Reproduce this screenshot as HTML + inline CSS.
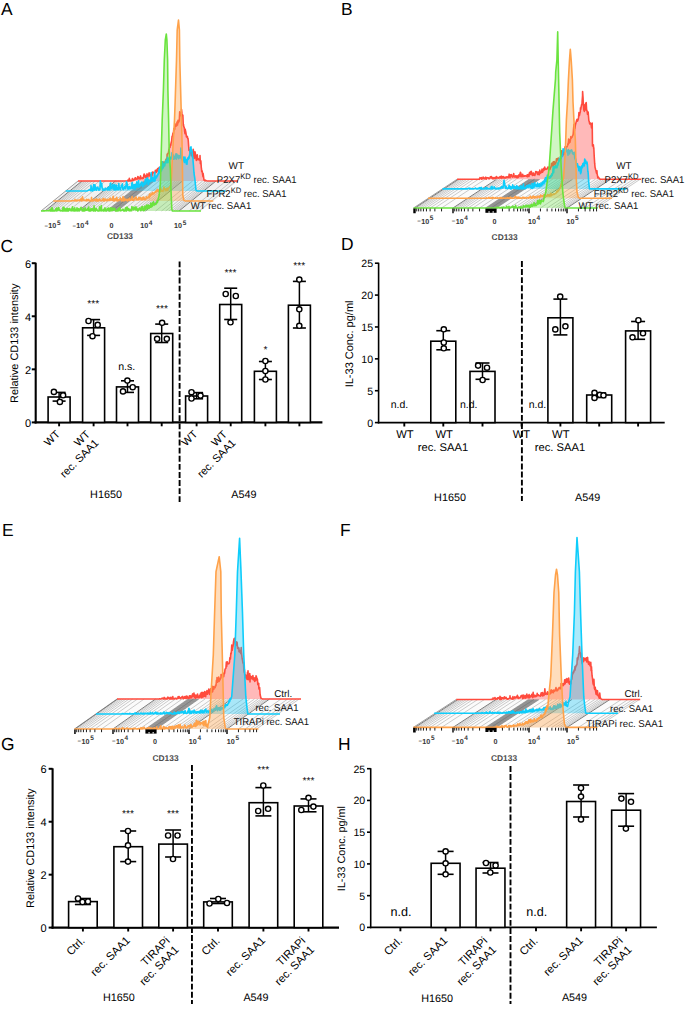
<!DOCTYPE html>
<html><head><meta charset="utf-8"><style>
html,body{margin:0;padding:0;background:#fff;}
svg{display:block;}
text{font-family:"Liberation Sans", sans-serif;text-rendering:geometricPrecision;}
</style></head><body>
<svg width="685" height="1009" viewBox="0 0 685 1009">
<rect width="685" height="1009" fill="#fff"/>
<text x="1" y="14.9" font-size="17.4" text-anchor="start" fill="#000" font-weight="normal">A</text>
<text x="341" y="14.9" font-size="17.4" text-anchor="start" fill="#000" font-weight="normal">B</text>
<text x="0.5" y="252" font-size="17.4" text-anchor="start" fill="#000" font-weight="normal">C</text>
<text x="341" y="250.1" font-size="17.4" text-anchor="start" fill="#000" font-weight="normal">D</text>
<text x="2" y="535.8" font-size="17.4" text-anchor="start" fill="#000" font-weight="normal">E</text>
<text x="340" y="535.8" font-size="17.4" text-anchor="start" fill="#000" font-weight="normal">F</text>
<text x="1" y="749.5" font-size="17.4" text-anchor="start" fill="#000" font-weight="normal">G</text>
<text x="338" y="749.5" font-size="17.4" text-anchor="start" fill="#000" font-weight="normal">H</text>
<text x="31.2" y="426.9" font-size="11" text-anchor="end" fill="#000" font-weight="normal">0</text>
<text x="31.2" y="373.83" font-size="11" text-anchor="end" fill="#000" font-weight="normal">2</text>
<text x="31.2" y="320.77" font-size="11" text-anchor="end" fill="#000" font-weight="normal">4</text>
<text x="31.2" y="267.7" font-size="11" text-anchor="end" fill="#000" font-weight="normal">6</text>
<line x1="35.7" y1="262.7" x2="35.7" y2="423.45" stroke="#000" stroke-width="2.1"/>
<line x1="31.75" y1="422.4" x2="35.7" y2="422.4" stroke="#000" stroke-width="2"/>
<line x1="31.75" y1="369.33" x2="35.7" y2="369.33" stroke="#000" stroke-width="2"/>
<line x1="31.75" y1="316.27" x2="35.7" y2="316.27" stroke="#000" stroke-width="2"/>
<line x1="31.75" y1="263.2" x2="35.7" y2="263.2" stroke="#000" stroke-width="2"/>
<line x1="34.65" y1="422.4" x2="322.4" y2="422.4" stroke="#000" stroke-width="2.1"/>
<line x1="59.1" y1="422.4" x2="59.1" y2="426.3" stroke="#000" stroke-width="1.9"/>
<rect x="48.1" y="397" width="22" height="25.4" fill="#fff" stroke="#000" stroke-width="1.6"/>
<line x1="59.1" y1="392.4" x2="59.1" y2="401.1" stroke="#000" stroke-width="1.5"/>
<line x1="52.6" y1="392.4" x2="65.6" y2="392.4" stroke="#000" stroke-width="1.6"/>
<line x1="52.6" y1="401.1" x2="65.6" y2="401.1" stroke="#000" stroke-width="1.6"/>
<circle cx="53.9" cy="391.9" r="2.6" fill="#fff" stroke="#000" stroke-width="1.4"/>
<circle cx="63.1" cy="395.3" r="2.6" fill="#fff" stroke="#000" stroke-width="1.4"/>
<circle cx="59.9" cy="401.9" r="2.6" fill="#fff" stroke="#000" stroke-width="1.4"/>
<line x1="93.6" y1="422.4" x2="93.6" y2="426.3" stroke="#000" stroke-width="1.9"/>
<rect x="82.6" y="327.8" width="22" height="94.6" fill="#fff" stroke="#000" stroke-width="1.6"/>
<line x1="93.6" y1="319.6" x2="93.6" y2="335.4" stroke="#000" stroke-width="1.5"/>
<line x1="87.1" y1="319.6" x2="100.1" y2="319.6" stroke="#000" stroke-width="1.6"/>
<line x1="87.1" y1="335.4" x2="100.1" y2="335.4" stroke="#000" stroke-width="1.6"/>
<circle cx="88.5" cy="321" r="2.6" fill="#fff" stroke="#000" stroke-width="1.4"/>
<circle cx="97.7" cy="324.9" r="2.6" fill="#fff" stroke="#000" stroke-width="1.4"/>
<circle cx="92.5" cy="336.2" r="2.6" fill="#fff" stroke="#000" stroke-width="1.4"/>
<line x1="127.5" y1="422.4" x2="127.5" y2="426.3" stroke="#000" stroke-width="1.9"/>
<rect x="116.5" y="386.9" width="22" height="35.5" fill="#fff" stroke="#000" stroke-width="1.6"/>
<line x1="127.5" y1="380.8" x2="127.5" y2="392.4" stroke="#000" stroke-width="1.5"/>
<line x1="121" y1="380.8" x2="134" y2="380.8" stroke="#000" stroke-width="1.6"/>
<line x1="121" y1="392.4" x2="134" y2="392.4" stroke="#000" stroke-width="1.6"/>
<circle cx="127.4" cy="380.6" r="2.6" fill="#fff" stroke="#000" stroke-width="1.4"/>
<circle cx="132.7" cy="387.2" r="2.6" fill="#fff" stroke="#000" stroke-width="1.4"/>
<circle cx="123" cy="391.4" r="2.6" fill="#fff" stroke="#000" stroke-width="1.4"/>
<line x1="161.7" y1="422.4" x2="161.7" y2="426.3" stroke="#000" stroke-width="1.9"/>
<rect x="150.7" y="333.5" width="22" height="88.9" fill="#fff" stroke="#000" stroke-width="1.6"/>
<line x1="161.7" y1="324.1" x2="161.7" y2="342.5" stroke="#000" stroke-width="1.5"/>
<line x1="155.2" y1="324.1" x2="168.2" y2="324.1" stroke="#000" stroke-width="1.6"/>
<line x1="155.2" y1="342.5" x2="168.2" y2="342.5" stroke="#000" stroke-width="1.6"/>
<circle cx="162.1" cy="322.8" r="2.6" fill="#fff" stroke="#000" stroke-width="1.4"/>
<circle cx="157.1" cy="338.8" r="2.6" fill="#fff" stroke="#000" stroke-width="1.4"/>
<circle cx="166.8" cy="338.8" r="2.6" fill="#fff" stroke="#000" stroke-width="1.4"/>
<line x1="196.6" y1="422.4" x2="196.6" y2="426.3" stroke="#000" stroke-width="1.9"/>
<rect x="185.6" y="396" width="22" height="26.4" fill="#fff" stroke="#000" stroke-width="1.6"/>
<line x1="196.6" y1="392.6" x2="196.6" y2="398.8" stroke="#000" stroke-width="1.5"/>
<line x1="190.1" y1="392.6" x2="203.1" y2="392.6" stroke="#000" stroke-width="1.6"/>
<line x1="190.1" y1="398.8" x2="203.1" y2="398.8" stroke="#000" stroke-width="1.6"/>
<circle cx="191.5" cy="392.2" r="2.6" fill="#fff" stroke="#000" stroke-width="1.4"/>
<circle cx="191.5" cy="398.5" r="2.6" fill="#fff" stroke="#000" stroke-width="1.4"/>
<circle cx="200.5" cy="395.6" r="2.6" fill="#fff" stroke="#000" stroke-width="1.4"/>
<line x1="230.7" y1="422.4" x2="230.7" y2="426.3" stroke="#000" stroke-width="1.9"/>
<rect x="219.7" y="304.5" width="22" height="117.9" fill="#fff" stroke="#000" stroke-width="1.6"/>
<line x1="230.7" y1="288.2" x2="230.7" y2="319.5" stroke="#000" stroke-width="1.5"/>
<line x1="224.2" y1="288.2" x2="237.2" y2="288.2" stroke="#000" stroke-width="1.6"/>
<line x1="224.2" y1="319.5" x2="237.2" y2="319.5" stroke="#000" stroke-width="1.6"/>
<circle cx="225.7" cy="294" r="2.6" fill="#fff" stroke="#000" stroke-width="1.4"/>
<circle cx="235.8" cy="296" r="2.6" fill="#fff" stroke="#000" stroke-width="1.4"/>
<circle cx="230.5" cy="322.3" r="2.6" fill="#fff" stroke="#000" stroke-width="1.4"/>
<line x1="265.4" y1="422.4" x2="265.4" y2="426.3" stroke="#000" stroke-width="1.9"/>
<rect x="254.4" y="371.3" width="22" height="51.1" fill="#fff" stroke="#000" stroke-width="1.6"/>
<line x1="265.4" y1="361.5" x2="265.4" y2="379.5" stroke="#000" stroke-width="1.5"/>
<line x1="258.9" y1="361.5" x2="271.9" y2="361.5" stroke="#000" stroke-width="1.6"/>
<line x1="258.9" y1="379.5" x2="271.9" y2="379.5" stroke="#000" stroke-width="1.6"/>
<circle cx="265.4" cy="361" r="2.6" fill="#fff" stroke="#000" stroke-width="1.4"/>
<circle cx="265.4" cy="371" r="2.6" fill="#fff" stroke="#000" stroke-width="1.4"/>
<circle cx="265.4" cy="379.5" r="2.6" fill="#fff" stroke="#000" stroke-width="1.4"/>
<line x1="299.4" y1="422.4" x2="299.4" y2="426.3" stroke="#000" stroke-width="1.9"/>
<rect x="288.4" y="305.2" width="22" height="117.2" fill="#fff" stroke="#000" stroke-width="1.6"/>
<line x1="299.4" y1="281.4" x2="299.4" y2="328" stroke="#000" stroke-width="1.5"/>
<line x1="292.9" y1="281.4" x2="305.9" y2="281.4" stroke="#000" stroke-width="1.6"/>
<line x1="292.9" y1="328" x2="305.9" y2="328" stroke="#000" stroke-width="1.6"/>
<circle cx="299.3" cy="279.6" r="2.6" fill="#fff" stroke="#000" stroke-width="1.4"/>
<circle cx="299.3" cy="309.3" r="2.6" fill="#fff" stroke="#000" stroke-width="1.4"/>
<circle cx="299.3" cy="325.8" r="2.6" fill="#fff" stroke="#000" stroke-width="1.4"/>
<line x1="179.6" y1="261.4" x2="179.6" y2="502" stroke="#000" stroke-width="1.9" stroke-dasharray="5.9,2.2"/>
<text x="93.3" y="307.3" font-size="10.3" text-anchor="middle" fill="#000" font-weight="normal">***</text>
<text x="162.1" y="311.5" font-size="10.3" text-anchor="middle" fill="#000" font-weight="normal">***</text>
<text x="230.5" y="275.5" font-size="10.3" text-anchor="middle" fill="#000" font-weight="normal">***</text>
<text x="299.3" y="269.3" font-size="10.3" text-anchor="middle" fill="#000" font-weight="normal">***</text>
<text x="265.4" y="352.5" font-size="10.3" text-anchor="middle" fill="#000" font-weight="normal">*</text>
<text x="126.7" y="369.6" font-size="10.6" text-anchor="middle" fill="#000" font-weight="normal">n.s.</text>
<text x="18.4" y="343.3" font-size="10.9" text-anchor="middle" fill="#000" font-weight="normal" transform="rotate(-90 18.4 343.3)">Relative CD133 intensity</text>
<text x="60.6" y="434.7" font-size="10.9" text-anchor="end" fill="#000" font-weight="normal" transform="rotate(-45 60.6 434.7)">WT</text>
<text x="198.1" y="434.7" font-size="10.9" text-anchor="end" fill="#000" font-weight="normal" transform="rotate(-45 198.1 434.7)">WT</text>
<text x="90.6" y="435" font-size="10.9" text-anchor="end" fill="#000" font-weight="normal" transform="rotate(-45 90.6 435)">WT</text>
<text x="99.23" y="443.63" font-size="10.9" text-anchor="end" fill="#000" font-weight="normal" transform="rotate(-45 99.23 443.63)">rec. SAA1</text>
<text x="227.7" y="435" font-size="10.9" text-anchor="end" fill="#000" font-weight="normal" transform="rotate(-45 227.7 435)">WT</text>
<text x="236.33" y="443.63" font-size="10.9" text-anchor="end" fill="#000" font-weight="normal" transform="rotate(-45 236.33 443.63)">rec. SAA1</text>
<text x="106" y="498" font-size="10.8" text-anchor="middle" fill="#000" font-weight="normal">H1650</text>
<text x="243.8" y="498" font-size="10.8" text-anchor="middle" fill="#000" font-weight="normal">A549</text>
<text x="373.1" y="426.5" font-size="10.6" text-anchor="end" fill="#000" font-weight="normal">0</text>
<text x="373.1" y="394.62" font-size="10.6" text-anchor="end" fill="#000" font-weight="normal">5</text>
<text x="373.1" y="362.74" font-size="10.6" text-anchor="end" fill="#000" font-weight="normal">10</text>
<text x="373.1" y="330.86" font-size="10.6" text-anchor="end" fill="#000" font-weight="normal">15</text>
<text x="373.1" y="298.98" font-size="10.6" text-anchor="end" fill="#000" font-weight="normal">20</text>
<text x="373.1" y="267.1" font-size="10.6" text-anchor="end" fill="#000" font-weight="normal">25</text>
<line x1="378.6" y1="262.7" x2="378.6" y2="423.4" stroke="#000" stroke-width="1.6"/>
<line x1="374.9" y1="422.6" x2="378.6" y2="422.6" stroke="#000" stroke-width="1.6"/>
<line x1="374.9" y1="390.72" x2="378.6" y2="390.72" stroke="#000" stroke-width="1.6"/>
<line x1="374.9" y1="358.84" x2="378.6" y2="358.84" stroke="#000" stroke-width="1.6"/>
<line x1="374.9" y1="326.96" x2="378.6" y2="326.96" stroke="#000" stroke-width="1.6"/>
<line x1="374.9" y1="295.08" x2="378.6" y2="295.08" stroke="#000" stroke-width="1.6"/>
<line x1="374.9" y1="263.2" x2="378.6" y2="263.2" stroke="#000" stroke-width="1.6"/>
<line x1="377.8" y1="422.6" x2="664.7" y2="422.6" stroke="#000" stroke-width="1.6"/>
<line x1="404.3" y1="422.6" x2="404.3" y2="426.5" stroke="#000" stroke-width="1.9"/>
<line x1="443.3" y1="422.6" x2="443.3" y2="426.5" stroke="#000" stroke-width="1.9"/>
<rect x="430.8" y="341.2" width="25" height="81.4" fill="#fff" stroke="#000" stroke-width="1.6"/>
<line x1="443.3" y1="330.7" x2="443.3" y2="349.8" stroke="#000" stroke-width="1.5"/>
<line x1="436.3" y1="330.7" x2="450.3" y2="330.7" stroke="#000" stroke-width="1.6"/>
<line x1="436.3" y1="349.8" x2="450.3" y2="349.8" stroke="#000" stroke-width="1.6"/>
<circle cx="443.8" cy="329.3" r="2.6" fill="#fff" stroke="#000" stroke-width="1.4"/>
<circle cx="443.8" cy="342.5" r="2.6" fill="#fff" stroke="#000" stroke-width="1.4"/>
<circle cx="443.8" cy="348.3" r="2.6" fill="#fff" stroke="#000" stroke-width="1.4"/>
<line x1="482.5" y1="422.6" x2="482.5" y2="426.5" stroke="#000" stroke-width="1.9"/>
<rect x="470" y="371.4" width="25" height="51.2" fill="#fff" stroke="#000" stroke-width="1.6"/>
<line x1="482.5" y1="363" x2="482.5" y2="379.3" stroke="#000" stroke-width="1.5"/>
<line x1="475.5" y1="363" x2="489.5" y2="363" stroke="#000" stroke-width="1.6"/>
<line x1="475.5" y1="379.3" x2="489.5" y2="379.3" stroke="#000" stroke-width="1.6"/>
<circle cx="478.1" cy="365.6" r="2.6" fill="#fff" stroke="#000" stroke-width="1.4"/>
<circle cx="487" cy="367.7" r="2.6" fill="#fff" stroke="#000" stroke-width="1.4"/>
<circle cx="482.6" cy="380" r="2.6" fill="#fff" stroke="#000" stroke-width="1.4"/>
<line x1="521.6" y1="422.6" x2="521.6" y2="426.5" stroke="#000" stroke-width="1.9"/>
<line x1="560.4" y1="422.6" x2="560.4" y2="426.5" stroke="#000" stroke-width="1.9"/>
<rect x="547.9" y="317.8" width="25" height="104.8" fill="#fff" stroke="#000" stroke-width="1.6"/>
<line x1="560.4" y1="299.1" x2="560.4" y2="334.9" stroke="#000" stroke-width="1.5"/>
<line x1="553.4" y1="299.1" x2="567.4" y2="299.1" stroke="#000" stroke-width="1.6"/>
<line x1="553.4" y1="334.9" x2="567.4" y2="334.9" stroke="#000" stroke-width="1.6"/>
<circle cx="560.2" cy="296.6" r="2.6" fill="#fff" stroke="#000" stroke-width="1.4"/>
<circle cx="555.3" cy="329.4" r="2.6" fill="#fff" stroke="#000" stroke-width="1.4"/>
<circle cx="565.4" cy="326.3" r="2.6" fill="#fff" stroke="#000" stroke-width="1.4"/>
<line x1="599.2" y1="422.6" x2="599.2" y2="426.5" stroke="#000" stroke-width="1.9"/>
<rect x="586.7" y="395" width="25" height="27.6" fill="#fff" stroke="#000" stroke-width="1.6"/>
<line x1="599.2" y1="393" x2="599.2" y2="397.5" stroke="#000" stroke-width="1.5"/>
<line x1="592.2" y1="393" x2="606.2" y2="393" stroke="#000" stroke-width="1.6"/>
<line x1="592.2" y1="397.5" x2="606.2" y2="397.5" stroke="#000" stroke-width="1.6"/>
<circle cx="594.5" cy="392.8" r="2.6" fill="#fff" stroke="#000" stroke-width="1.4"/>
<circle cx="594.5" cy="397.9" r="2.6" fill="#fff" stroke="#000" stroke-width="1.4"/>
<circle cx="599.8" cy="394.8" r="2.6" fill="#fff" stroke="#000" stroke-width="1.4"/>
<circle cx="603.5" cy="395.3" r="2.6" fill="#fff" stroke="#000" stroke-width="1.4"/>
<line x1="638.1" y1="422.6" x2="638.1" y2="426.5" stroke="#000" stroke-width="1.9"/>
<rect x="625.6" y="330.9" width="25" height="91.7" fill="#fff" stroke="#000" stroke-width="1.6"/>
<line x1="638.1" y1="321.5" x2="638.1" y2="339.3" stroke="#000" stroke-width="1.5"/>
<line x1="631.1" y1="321.5" x2="645.1" y2="321.5" stroke="#000" stroke-width="1.6"/>
<line x1="631.1" y1="339.3" x2="645.1" y2="339.3" stroke="#000" stroke-width="1.6"/>
<circle cx="638.4" cy="320.2" r="2.6" fill="#fff" stroke="#000" stroke-width="1.4"/>
<circle cx="632.5" cy="337.3" r="2.6" fill="#fff" stroke="#000" stroke-width="1.4"/>
<circle cx="643" cy="333.3" r="2.6" fill="#fff" stroke="#000" stroke-width="1.4"/>
<line x1="521.9" y1="261" x2="521.9" y2="501" stroke="#000" stroke-width="1.9" stroke-dasharray="5.9,2.2"/>
<text x="399.4" y="408.3" font-size="10.5" text-anchor="middle" fill="#000" font-weight="normal">n.d.</text>
<text x="468.7" y="408.3" font-size="10.5" text-anchor="middle" fill="#000" font-weight="normal">n.d.</text>
<text x="537.4" y="408.3" font-size="10.5" text-anchor="middle" fill="#000" font-weight="normal">n.d.</text>
<text x="353.3" y="343.9" font-size="11" text-anchor="middle" fill="#000" font-weight="normal" transform="rotate(-90 353.3 343.9)">IL-33 Conc. pg/ml</text>
<text x="404.9" y="437.6" font-size="11.2" text-anchor="middle" fill="#000" font-weight="normal">WT</text>
<text x="444.1" y="437.6" font-size="11.2" text-anchor="middle" fill="#000" font-weight="normal">WT</text>
<text x="521.5" y="437.6" font-size="11.2" text-anchor="middle" fill="#000" font-weight="normal">WT</text>
<text x="560.8" y="437.6" font-size="11.2" text-anchor="middle" fill="#000" font-weight="normal">WT</text>
<text x="443" y="451.2" font-size="11.2" text-anchor="middle" fill="#000" font-weight="normal">rec. SAA1</text>
<text x="560" y="451.2" font-size="11.2" text-anchor="middle" fill="#000" font-weight="normal">rec. SAA1</text>
<text x="450" y="501.2" font-size="10.8" text-anchor="middle" fill="#000" font-weight="normal">H1650</text>
<text x="587.6" y="501.2" font-size="10.8" text-anchor="middle" fill="#000" font-weight="normal">A549</text>
<text x="46.5" y="931.5" font-size="11" text-anchor="end" fill="#000" font-weight="normal">0</text>
<text x="46.5" y="878.57" font-size="11" text-anchor="end" fill="#000" font-weight="normal">2</text>
<text x="46.5" y="825.63" font-size="11" text-anchor="end" fill="#000" font-weight="normal">4</text>
<text x="46.5" y="772.7" font-size="11" text-anchor="end" fill="#000" font-weight="normal">6</text>
<line x1="52.6" y1="768.3" x2="52.6" y2="928.65" stroke="#000" stroke-width="2.1"/>
<line x1="48.65" y1="927.6" x2="52.6" y2="927.6" stroke="#000" stroke-width="2"/>
<line x1="48.65" y1="874.67" x2="52.6" y2="874.67" stroke="#000" stroke-width="2"/>
<line x1="48.65" y1="821.73" x2="52.6" y2="821.73" stroke="#000" stroke-width="2"/>
<line x1="48.65" y1="768.8" x2="52.6" y2="768.8" stroke="#000" stroke-width="2"/>
<line x1="51.55" y1="927.6" x2="339" y2="927.6" stroke="#000" stroke-width="2.1"/>
<line x1="82.9" y1="927.6" x2="82.9" y2="931.5" stroke="#000" stroke-width="1.9"/>
<rect x="68.6" y="901.6" width="28.6" height="26" fill="#fff" stroke="#000" stroke-width="1.6"/>
<line x1="82.9" y1="898.5" x2="82.9" y2="904.5" stroke="#000" stroke-width="1.5"/>
<line x1="74.9" y1="898.5" x2="90.9" y2="898.5" stroke="#000" stroke-width="1.6"/>
<line x1="74.9" y1="904.5" x2="90.9" y2="904.5" stroke="#000" stroke-width="1.6"/>
<circle cx="78" cy="898.5" r="2.6" fill="#fff" stroke="#000" stroke-width="1.4"/>
<circle cx="82.5" cy="902" r="2.6" fill="#fff" stroke="#000" stroke-width="1.4"/>
<circle cx="88" cy="901.5" r="2.6" fill="#fff" stroke="#000" stroke-width="1.4"/>
<line x1="128.2" y1="927.6" x2="128.2" y2="931.5" stroke="#000" stroke-width="1.9"/>
<rect x="113.9" y="846.7" width="28.6" height="80.9" fill="#fff" stroke="#000" stroke-width="1.6"/>
<line x1="128.2" y1="831" x2="128.2" y2="861.6" stroke="#000" stroke-width="1.5"/>
<line x1="120.2" y1="831" x2="136.2" y2="831" stroke="#000" stroke-width="1.6"/>
<line x1="120.2" y1="861.6" x2="136.2" y2="861.6" stroke="#000" stroke-width="1.6"/>
<circle cx="128" cy="831" r="2.6" fill="#fff" stroke="#000" stroke-width="1.4"/>
<circle cx="128" cy="845.4" r="2.6" fill="#fff" stroke="#000" stroke-width="1.4"/>
<circle cx="128" cy="861.6" r="2.6" fill="#fff" stroke="#000" stroke-width="1.4"/>
<line x1="173.1" y1="927.6" x2="173.1" y2="931.5" stroke="#000" stroke-width="1.9"/>
<rect x="158.8" y="844.1" width="28.6" height="83.5" fill="#fff" stroke="#000" stroke-width="1.6"/>
<line x1="173.1" y1="830" x2="173.1" y2="857" stroke="#000" stroke-width="1.5"/>
<line x1="165.1" y1="830" x2="181.1" y2="830" stroke="#000" stroke-width="1.6"/>
<line x1="165.1" y1="857" x2="181.1" y2="857" stroke="#000" stroke-width="1.6"/>
<circle cx="168.1" cy="835.5" r="2.6" fill="#fff" stroke="#000" stroke-width="1.4"/>
<circle cx="177.5" cy="835.5" r="2.6" fill="#fff" stroke="#000" stroke-width="1.4"/>
<circle cx="173" cy="859" r="2.6" fill="#fff" stroke="#000" stroke-width="1.4"/>
<line x1="218" y1="927.6" x2="218" y2="931.5" stroke="#000" stroke-width="1.9"/>
<rect x="203.7" y="901.9" width="28.6" height="25.7" fill="#fff" stroke="#000" stroke-width="1.6"/>
<line x1="218" y1="898.5" x2="218" y2="903.5" stroke="#000" stroke-width="1.5"/>
<line x1="210" y1="898.5" x2="226" y2="898.5" stroke="#000" stroke-width="1.6"/>
<line x1="210" y1="903.5" x2="226" y2="903.5" stroke="#000" stroke-width="1.6"/>
<circle cx="209.5" cy="903.5" r="2.6" fill="#fff" stroke="#000" stroke-width="1.4"/>
<circle cx="218.3" cy="899" r="2.6" fill="#fff" stroke="#000" stroke-width="1.4"/>
<circle cx="227" cy="903" r="2.6" fill="#fff" stroke="#000" stroke-width="1.4"/>
<line x1="263.4" y1="927.6" x2="263.4" y2="931.5" stroke="#000" stroke-width="1.9"/>
<rect x="249.1" y="802.7" width="28.6" height="124.9" fill="#fff" stroke="#000" stroke-width="1.6"/>
<line x1="263.4" y1="787.6" x2="263.4" y2="815.9" stroke="#000" stroke-width="1.5"/>
<line x1="255.4" y1="787.6" x2="271.4" y2="787.6" stroke="#000" stroke-width="1.6"/>
<line x1="255.4" y1="815.9" x2="271.4" y2="815.9" stroke="#000" stroke-width="1.6"/>
<circle cx="263.3" cy="785.5" r="2.6" fill="#fff" stroke="#000" stroke-width="1.4"/>
<circle cx="258.2" cy="811" r="2.6" fill="#fff" stroke="#000" stroke-width="1.4"/>
<circle cx="268.1" cy="808.8" r="2.6" fill="#fff" stroke="#000" stroke-width="1.4"/>
<line x1="308.5" y1="927.6" x2="308.5" y2="931.5" stroke="#000" stroke-width="1.9"/>
<rect x="294.2" y="806" width="28.6" height="121.6" fill="#fff" stroke="#000" stroke-width="1.6"/>
<line x1="308.5" y1="798.9" x2="308.5" y2="811.8" stroke="#000" stroke-width="1.5"/>
<line x1="300.5" y1="798.9" x2="316.5" y2="798.9" stroke="#000" stroke-width="1.6"/>
<line x1="300.5" y1="811.8" x2="316.5" y2="811.8" stroke="#000" stroke-width="1.6"/>
<circle cx="308.5" cy="797.8" r="2.6" fill="#fff" stroke="#000" stroke-width="1.4"/>
<circle cx="301.3" cy="810" r="2.6" fill="#fff" stroke="#000" stroke-width="1.4"/>
<circle cx="313.4" cy="806.6" r="2.6" fill="#fff" stroke="#000" stroke-width="1.4"/>
<line x1="191.95" y1="765" x2="191.95" y2="1004" stroke="#000" stroke-width="1.9" stroke-dasharray="5.9,2.2"/>
<text x="128" y="817.2" font-size="10.3" text-anchor="middle" fill="#000" font-weight="normal">***</text>
<text x="173" y="817.2" font-size="10.3" text-anchor="middle" fill="#000" font-weight="normal">***</text>
<text x="263.3" y="773.4" font-size="10.3" text-anchor="middle" fill="#000" font-weight="normal">***</text>
<text x="308.5" y="784.4" font-size="10.3" text-anchor="middle" fill="#000" font-weight="normal">***</text>
<text x="34.5" y="848.3" font-size="10.9" text-anchor="middle" fill="#000" font-weight="normal" transform="rotate(-90 34.5 848.3)">Relative CD133 intensity</text>
<text x="85.4" y="941.5" font-size="11.2" text-anchor="end" fill="#000" font-weight="normal" transform="rotate(-45 85.4 941.5)">Ctrl.</text>
<text x="220.5" y="941.5" font-size="11.2" text-anchor="end" fill="#000" font-weight="normal" transform="rotate(-45 220.5 941.5)">Ctrl.</text>
<text x="130.7" y="941" font-size="11.2" text-anchor="end" fill="#000" font-weight="normal" transform="rotate(-45 130.7 941)">rec. SAA1</text>
<text x="265.9" y="941" font-size="11.2" text-anchor="end" fill="#000" font-weight="normal" transform="rotate(-45 265.9 941)">rec. SAA1</text>
<text x="170.6" y="941.5" font-size="11.2" text-anchor="end" fill="#000" font-weight="normal" transform="rotate(-45 170.6 941.5)">TIRAPi</text>
<text x="179.51" y="950.41" font-size="11.2" text-anchor="end" fill="#000" font-weight="normal" transform="rotate(-45 179.51 950.41)">rec. SAA1</text>
<text x="306" y="941.5" font-size="11.2" text-anchor="end" fill="#000" font-weight="normal" transform="rotate(-45 306 941.5)">TIRAPi</text>
<text x="314.91" y="950.41" font-size="11.2" text-anchor="end" fill="#000" font-weight="normal" transform="rotate(-45 314.91 950.41)">rec. SAA1</text>
<text x="118.8" y="1001" font-size="10.8" text-anchor="middle" fill="#000" font-weight="normal">H1650</text>
<text x="256" y="1001" font-size="10.8" text-anchor="middle" fill="#000" font-weight="normal">A549</text>
<text x="365.2" y="931.3" font-size="10.6" text-anchor="end" fill="#000" font-weight="normal">0</text>
<text x="365.2" y="899.56" font-size="10.6" text-anchor="end" fill="#000" font-weight="normal">5</text>
<text x="365.2" y="867.82" font-size="10.6" text-anchor="end" fill="#000" font-weight="normal">10</text>
<text x="365.2" y="836.08" font-size="10.6" text-anchor="end" fill="#000" font-weight="normal">15</text>
<text x="365.2" y="804.34" font-size="10.6" text-anchor="end" fill="#000" font-weight="normal">20</text>
<text x="365.2" y="772.6" font-size="10.6" text-anchor="end" fill="#000" font-weight="normal">25</text>
<line x1="370.7" y1="768.2" x2="370.7" y2="928.2" stroke="#000" stroke-width="1.6"/>
<line x1="367" y1="927.4" x2="370.7" y2="927.4" stroke="#000" stroke-width="1.6"/>
<line x1="367" y1="895.66" x2="370.7" y2="895.66" stroke="#000" stroke-width="1.6"/>
<line x1="367" y1="863.92" x2="370.7" y2="863.92" stroke="#000" stroke-width="1.6"/>
<line x1="367" y1="832.18" x2="370.7" y2="832.18" stroke="#000" stroke-width="1.6"/>
<line x1="367" y1="800.44" x2="370.7" y2="800.44" stroke="#000" stroke-width="1.6"/>
<line x1="367" y1="768.7" x2="370.7" y2="768.7" stroke="#000" stroke-width="1.6"/>
<line x1="369.9" y1="927.4" x2="656.9" y2="927.4" stroke="#000" stroke-width="1.6"/>
<line x1="400.4" y1="927.4" x2="400.4" y2="931.3" stroke="#000" stroke-width="1.9"/>
<line x1="445.6" y1="927.4" x2="445.6" y2="931.3" stroke="#000" stroke-width="1.9"/>
<rect x="431.15" y="863.3" width="28.9" height="64.1" fill="#fff" stroke="#000" stroke-width="1.6"/>
<line x1="445.6" y1="851.4" x2="445.6" y2="874.3" stroke="#000" stroke-width="1.5"/>
<line x1="437.6" y1="851.4" x2="453.6" y2="851.4" stroke="#000" stroke-width="1.6"/>
<line x1="437.6" y1="874.3" x2="453.6" y2="874.3" stroke="#000" stroke-width="1.6"/>
<circle cx="445.6" cy="851.4" r="2.6" fill="#fff" stroke="#000" stroke-width="1.4"/>
<circle cx="445.6" cy="863.3" r="2.6" fill="#fff" stroke="#000" stroke-width="1.4"/>
<circle cx="445.6" cy="874.3" r="2.6" fill="#fff" stroke="#000" stroke-width="1.4"/>
<line x1="490.5" y1="927.4" x2="490.5" y2="931.3" stroke="#000" stroke-width="1.9"/>
<rect x="476.05" y="868.2" width="28.9" height="59.2" fill="#fff" stroke="#000" stroke-width="1.6"/>
<line x1="490.5" y1="862.5" x2="490.5" y2="873" stroke="#000" stroke-width="1.5"/>
<line x1="482.5" y1="862.5" x2="498.5" y2="862.5" stroke="#000" stroke-width="1.6"/>
<line x1="482.5" y1="873" x2="498.5" y2="873" stroke="#000" stroke-width="1.6"/>
<circle cx="486" cy="863" r="2.6" fill="#fff" stroke="#000" stroke-width="1.4"/>
<circle cx="495.6" cy="865.4" r="2.6" fill="#fff" stroke="#000" stroke-width="1.4"/>
<circle cx="490.3" cy="872.5" r="2.6" fill="#fff" stroke="#000" stroke-width="1.4"/>
<line x1="536" y1="927.4" x2="536" y2="931.3" stroke="#000" stroke-width="1.9"/>
<line x1="581.1" y1="927.4" x2="581.1" y2="931.3" stroke="#000" stroke-width="1.9"/>
<rect x="566.65" y="801.5" width="28.9" height="125.9" fill="#fff" stroke="#000" stroke-width="1.6"/>
<line x1="581.1" y1="785" x2="581.1" y2="817" stroke="#000" stroke-width="1.5"/>
<line x1="573.1" y1="785" x2="589.1" y2="785" stroke="#000" stroke-width="1.6"/>
<line x1="573.1" y1="817" x2="589.1" y2="817" stroke="#000" stroke-width="1.6"/>
<circle cx="581" cy="788" r="2.6" fill="#fff" stroke="#000" stroke-width="1.4"/>
<circle cx="581" cy="796.6" r="2.6" fill="#fff" stroke="#000" stroke-width="1.4"/>
<circle cx="581" cy="819.4" r="2.6" fill="#fff" stroke="#000" stroke-width="1.4"/>
<line x1="626.1" y1="927.4" x2="626.1" y2="931.3" stroke="#000" stroke-width="1.9"/>
<rect x="611.65" y="810.2" width="28.9" height="117.2" fill="#fff" stroke="#000" stroke-width="1.6"/>
<line x1="626.1" y1="793.6" x2="626.1" y2="826.2" stroke="#000" stroke-width="1.5"/>
<line x1="618.1" y1="793.6" x2="634.1" y2="793.6" stroke="#000" stroke-width="1.6"/>
<line x1="618.1" y1="826.2" x2="634.1" y2="826.2" stroke="#000" stroke-width="1.6"/>
<circle cx="621.4" cy="798.6" r="2.6" fill="#fff" stroke="#000" stroke-width="1.4"/>
<circle cx="631" cy="801.8" r="2.6" fill="#fff" stroke="#000" stroke-width="1.4"/>
<circle cx="625.9" cy="828.6" r="2.6" fill="#fff" stroke="#000" stroke-width="1.4"/>
<line x1="510.5" y1="766" x2="510.5" y2="1004" stroke="#000" stroke-width="1.9" stroke-dasharray="5.9,2.2"/>
<text x="401" y="916.3" font-size="12.6" text-anchor="middle" fill="#000" font-weight="normal">n.d.</text>
<text x="536.7" y="916.3" font-size="12.6" text-anchor="middle" fill="#000" font-weight="normal">n.d.</text>
<text x="345.2" y="848.6" font-size="10.8" text-anchor="middle" fill="#000" font-weight="normal" transform="rotate(-90 345.2 848.6)">IL-33 Conc. pg/ml</text>
<text x="402.9" y="941.5" font-size="11.2" text-anchor="end" fill="#000" font-weight="normal" transform="rotate(-45 402.9 941.5)">Ctrl.</text>
<text x="538.5" y="941.5" font-size="11.2" text-anchor="end" fill="#000" font-weight="normal" transform="rotate(-45 538.5 941.5)">Ctrl.</text>
<text x="448.1" y="941" font-size="11.2" text-anchor="end" fill="#000" font-weight="normal" transform="rotate(-45 448.1 941)">rec. SAA1</text>
<text x="583.6" y="941" font-size="11.2" text-anchor="end" fill="#000" font-weight="normal" transform="rotate(-45 583.6 941)">rec. SAA1</text>
<text x="488" y="941.5" font-size="11.2" text-anchor="end" fill="#000" font-weight="normal" transform="rotate(-45 488 941.5)">TIRAPi</text>
<text x="496.91" y="950.41" font-size="11.2" text-anchor="end" fill="#000" font-weight="normal" transform="rotate(-45 496.91 950.41)">rec. SAA1</text>
<text x="623.6" y="941.5" font-size="11.2" text-anchor="end" fill="#000" font-weight="normal" transform="rotate(-45 623.6 941.5)">TIRAPi</text>
<text x="632.51" y="950.41" font-size="11.2" text-anchor="end" fill="#000" font-weight="normal" transform="rotate(-45 632.51 950.41)">rec. SAA1</text>
<text x="437.1" y="1002" font-size="10.8" text-anchor="middle" fill="#000" font-weight="normal">H1650</text>
<text x="574.5" y="1001" font-size="10.8" text-anchor="middle" fill="#000" font-weight="normal">A549</text>
<polygon points="41,211 201,211 238,181 78,181" fill="#f1f1f1"/>
<path d="M106.5 211L143.5 181M107.4 211L144.4 181M108.3 211L145.3 181M109.2 211L146.2 181M110.1 211L147.1 181M111 211L148 181M111.9 211L148.9 181M112 211L149 181M112 211L149 181M112.8 211L149.8 181M113.7 211L150.7 181M114.6 211L151.6 181M115.5 211L152.5 181M116.4 211L153.4 181M117.3 211L154.3 181" stroke="#6e6e6e" stroke-width="0.55" fill="none"/>
<path d="M46.53 211L83.53 181M48.25 211L85.25 181M50.19 211L87.19 181M52.43 211L89.43 181M55.08 211L92.08 181M58.33 211L95.33 181M62.52 211L99.52 181M68.42 211L105.42 181M80.03 211L117.03 181M81.75 211L118.75 181M83.69 211L120.69 181M85.93 211L122.93 181M88.58 211L125.58 181M91.83 211L128.83 181M96.02 211L133.02 181M101.92 211L138.92 181M122.08 211L159.08 181M127.98 211L164.98 181M132.17 211L169.17 181M135.42 211L172.42 181M138.07 211L175.07 181M140.31 211L177.31 181M142.25 211L179.25 181M143.97 211L180.97 181M155.58 211L192.58 181M161.48 211L198.48 181M165.67 211L202.67 181M168.92 211L205.92 181M171.57 211L208.57 181M173.81 211L210.81 181M175.75 211L212.75 181M177.47 211L214.47 181M189.08 211L226.08 181M194.98 211L231.98 181M199.17 211L236.17 181" stroke="#a8a8a8" stroke-width="0.6" fill="none"/>
<path d="M45 211L82 181M78.5 211L115.5 181M145.5 211L182.5 181M179 211L216 181" stroke="#5a5a5a" stroke-width="0.8" fill="none"/>
<polygon points="106.8,211 117.2,211 154.2,181 143.8,181" fill="#8c8c8c" fill-opacity="0.45"/>
<line x1="41" y1="211" x2="78" y2="181" stroke="#777" stroke-width="0.7"/>
<polygon points="78,181 78.45,181 78.9,181 79.35,181 79.8,181 80.25,181 80.7,181 81.15,181 81.6,181 82.05,181 82.5,181 82.95,181 83.4,181 83.85,181 84.3,181 84.75,181 85.2,181 85.65,181 86.1,181 86.55,181 87,181 87.45,181 87.9,181 88.35,181 88.8,181 89.25,181 89.7,181 90.15,181 90.6,181 91.05,181 91.5,181 91.95,181 92.4,181 92.85,181 93.3,181 93.75,181 94.2,181 94.65,181 95.1,181 95.55,181 96,181 96.45,181 96.9,181 97.35,181 97.8,181 98.25,181 98.7,181 99.15,181 99.6,181 100.05,181 100.5,181 100.95,181 101.4,181 101.85,181 102.3,181 102.75,181 103.2,181 103.65,181 104.1,181 104.55,181 105,181 105.45,181 105.9,181 106.35,181 106.8,181 107.25,181 107.7,181 108.15,181 108.6,181 109.05,181 109.5,181 109.95,181 110.4,181 110.85,181 111.3,181 111.75,181 112.2,181 112.65,181 113.1,181 113.55,181 114,181 114.45,181 114.9,181 115.35,181 115.8,181 116.25,181 116.7,181 117.15,181 117.6,181 118.05,181 118.5,181 118.95,181 119.4,181 119.85,181 120.3,181 120.75,181 121.2,181 121.65,181 122.1,181 122.55,181 123,181 123.45,181 123.9,181 124.35,181 124.8,181 125.25,181 125.7,181 126.15,181 126.6,181 127.05,181 127.5,181 127.95,181 128,180.11 128.4,180.89 128.85,181 129.3,178.37 129.75,181 130.2,181 130.65,180.45 131.1,180.86 131.55,180.96 132,180.05 132.45,178.55 132.9,180.58 133.35,180.04 133.8,180.35 134.25,179.13 134.7,179.38 135,179.68 135.15,177.79 135.6,177.81 136.05,179.05 136.5,178.9 136.95,179.26 137.4,178.67 137.85,176.54 138.3,178.8 138.75,177.26 139.2,178.63 139.65,178.77 140.1,179.02 140.55,175.93 141,178.21 141.45,178.33 141.9,178.62 142.35,177.92 142.8,178.62 143.25,178.38 143.7,175.56 144.15,173.97 144.6,174.83 145.05,176.71 145.5,177.61 145.95,176.43 146.4,175.33 146.85,177.81 147,173.75 147.3,176.41 147.75,177.23 148.2,174.6 148.65,174.62 149.1,172.83 149.55,175.87 150,175.93 150.45,174.41 150.9,175.5 151.35,175.56 151.8,176.09 152.25,174.46 152.5,172.06 152.7,172.85 153.15,172.17 153.6,172.87 154.05,173.05 154.5,172.96 154.95,173.03 155.4,170.19 155.85,172.3 156.3,172.28 156.75,169.75 157,171.07 157.2,170.07 157.65,168.48 158.1,170.95 158.55,170.48 159,167.59 159.45,167.6 159.9,168.56 160.35,168.58 160.8,168.99 161.25,169.06 161.7,169.27 162,161.92 162.15,162.43 162.6,167.7 163.05,167.35 163.5,162.01 163.95,163.97 164.4,162.2 164.85,162.74 165.3,162.04 165.75,160.19 166.2,158.95 166.65,159.66 167,158.86 167.1,154.65 167.55,153.71 168,153.6 168.45,152.6 168.9,149.74 169.35,148.32 169.8,146.65 170,147.35 170.25,144.2 170.7,145.48 171.15,142.69 171.6,141.04 172.05,136.55 172.5,135.88 172.95,133.08 173,133.5 173.4,133.62 173.85,128.58 174.3,129.88 174.75,129.01 175,123.72 175.2,126.29 175.65,126.29 176.1,125.29 176.55,126.03 177,122.1 177.45,125.03 177.9,121.46 178,120.32 178.35,122.7 178.8,121.57 179.25,121.06 179.7,111.89 180.15,115.9 180.6,113.08 181.05,113.12 181.5,112.86 181.5,109.24 181.95,113.42 182.4,115.74 182.85,115.11 183.3,125.35 183.5,124.41 183.75,126.85 184.2,127.17 184.65,131.65 185,133.71 185.1,129.03 185.55,130.9 186,133.27 186.45,136.97 186.9,136.18 187.35,136.41 187.8,138.88 188,138.43 188.25,140.5 188.7,146.64 189,150.35 189.15,149.48 189.6,149.74 190.05,153.46 190.5,150.55 190.95,151.91 191.4,155.75 191.85,155.78 192,152.54 192.3,153.72 192.75,155.87 193.2,149.22 193.65,152.72 194.1,158.42 194.55,157.97 195,151.91 195.45,154.24 195.9,156.85 196,158.1 196.35,160.35 196.8,159.45 197.25,154.9 197.7,159.28 198.15,159.68 198.6,158.96 199.05,159.87 199.5,159.83 199.95,159.72 200,155.66 200.4,163.82 200.85,160.88 201.3,167.55 201.5,168.88 201.75,171.8 202.2,170.99 202.65,174.64 203,176.68 203.1,173.24 203.55,176.56 204,180.26 204.45,180.12 204.9,181 205,181 205.35,180.18 205.8,180.4 206.25,180.63 206.7,180.85 207,181 207.15,181 207.6,181 208.05,181 208.5,181 208.95,181 209.4,181 209.85,181 210.3,181 210.75,181 211.2,181 211.65,181 212.1,181 212.55,181 213,181 213.45,181 213.9,181 214.35,181 214.8,181 215.25,181 215.7,181 216.15,181 216.6,181 217.05,181 217.5,181 217.95,181 218.4,181 218.85,181 219.3,181 219.75,181 220.2,181 220.65,181 221.1,181 221.55,181 222,181 222.45,181 222.9,181 223.35,181 223.8,181 224.25,181 224.7,181 225.15,181 225.6,181 226.05,181 226.5,181 226.95,181 227.4,181 227.85,181 228.3,181 228.75,181 229.2,181 229.65,181 230.1,181 230.55,181 231,181 231.45,181 231.9,181 232.35,181 232.8,181 233.25,181 233.7,181 234.15,181 234.6,181 235.05,181 235.5,181 235.95,181 236.4,181 236.85,181 237.3,181 237.75,181 238,181 238,181 78,181" fill="rgba(255,80,80,0.40)" stroke="none"/>
<polyline points="78,181 78.45,181 78.9,181 79.35,181 79.8,181 80.25,181 80.7,181 81.15,181 81.6,181 82.05,181 82.5,181 82.95,181 83.4,181 83.85,181 84.3,181 84.75,181 85.2,181 85.65,181 86.1,181 86.55,181 87,181 87.45,181 87.9,181 88.35,181 88.8,181 89.25,181 89.7,181 90.15,181 90.6,181 91.05,181 91.5,181 91.95,181 92.4,181 92.85,181 93.3,181 93.75,181 94.2,181 94.65,181 95.1,181 95.55,181 96,181 96.45,181 96.9,181 97.35,181 97.8,181 98.25,181 98.7,181 99.15,181 99.6,181 100.05,181 100.5,181 100.95,181 101.4,181 101.85,181 102.3,181 102.75,181 103.2,181 103.65,181 104.1,181 104.55,181 105,181 105.45,181 105.9,181 106.35,181 106.8,181 107.25,181 107.7,181 108.15,181 108.6,181 109.05,181 109.5,181 109.95,181 110.4,181 110.85,181 111.3,181 111.75,181 112.2,181 112.65,181 113.1,181 113.55,181 114,181 114.45,181 114.9,181 115.35,181 115.8,181 116.25,181 116.7,181 117.15,181 117.6,181 118.05,181 118.5,181 118.95,181 119.4,181 119.85,181 120.3,181 120.75,181 121.2,181 121.65,181 122.1,181 122.55,181 123,181 123.45,181 123.9,181 124.35,181 124.8,181 125.25,181 125.7,181 126.15,181 126.6,181 127.05,181 127.5,181 127.95,181 128,180.11 128.4,180.89 128.85,181 129.3,178.37 129.75,181 130.2,181 130.65,180.45 131.1,180.86 131.55,180.96 132,180.05 132.45,178.55 132.9,180.58 133.35,180.04 133.8,180.35 134.25,179.13 134.7,179.38 135,179.68 135.15,177.79 135.6,177.81 136.05,179.05 136.5,178.9 136.95,179.26 137.4,178.67 137.85,176.54 138.3,178.8 138.75,177.26 139.2,178.63 139.65,178.77 140.1,179.02 140.55,175.93 141,178.21 141.45,178.33 141.9,178.62 142.35,177.92 142.8,178.62 143.25,178.38 143.7,175.56 144.15,173.97 144.6,174.83 145.05,176.71 145.5,177.61 145.95,176.43 146.4,175.33 146.85,177.81 147,173.75 147.3,176.41 147.75,177.23 148.2,174.6 148.65,174.62 149.1,172.83 149.55,175.87 150,175.93 150.45,174.41 150.9,175.5 151.35,175.56 151.8,176.09 152.25,174.46 152.5,172.06 152.7,172.85 153.15,172.17 153.6,172.87 154.05,173.05 154.5,172.96 154.95,173.03 155.4,170.19 155.85,172.3 156.3,172.28 156.75,169.75 157,171.07 157.2,170.07 157.65,168.48 158.1,170.95 158.55,170.48 159,167.59 159.45,167.6 159.9,168.56 160.35,168.58 160.8,168.99 161.25,169.06 161.7,169.27 162,161.92 162.15,162.43 162.6,167.7 163.05,167.35 163.5,162.01 163.95,163.97 164.4,162.2 164.85,162.74 165.3,162.04 165.75,160.19 166.2,158.95 166.65,159.66 167,158.86 167.1,154.65 167.55,153.71 168,153.6 168.45,152.6 168.9,149.74 169.35,148.32 169.8,146.65 170,147.35 170.25,144.2 170.7,145.48 171.15,142.69 171.6,141.04 172.05,136.55 172.5,135.88 172.95,133.08 173,133.5 173.4,133.62 173.85,128.58 174.3,129.88 174.75,129.01 175,123.72 175.2,126.29 175.65,126.29 176.1,125.29 176.55,126.03 177,122.1 177.45,125.03 177.9,121.46 178,120.32 178.35,122.7 178.8,121.57 179.25,121.06 179.7,111.89 180.15,115.9 180.6,113.08 181.05,113.12 181.5,112.86 181.5,109.24 181.95,113.42 182.4,115.74 182.85,115.11 183.3,125.35 183.5,124.41 183.75,126.85 184.2,127.17 184.65,131.65 185,133.71 185.1,129.03 185.55,130.9 186,133.27 186.45,136.97 186.9,136.18 187.35,136.41 187.8,138.88 188,138.43 188.25,140.5 188.7,146.64 189,150.35 189.15,149.48 189.6,149.74 190.05,153.46 190.5,150.55 190.95,151.91 191.4,155.75 191.85,155.78 192,152.54 192.3,153.72 192.75,155.87 193.2,149.22 193.65,152.72 194.1,158.42 194.55,157.97 195,151.91 195.45,154.24 195.9,156.85 196,158.1 196.35,160.35 196.8,159.45 197.25,154.9 197.7,159.28 198.15,159.68 198.6,158.96 199.05,159.87 199.5,159.83 199.95,159.72 200,155.66 200.4,163.82 200.85,160.88 201.3,167.55 201.5,168.88 201.75,171.8 202.2,170.99 202.65,174.64 203,176.68 203.1,173.24 203.55,176.56 204,180.26 204.45,180.12 204.9,181 205,181 205.35,180.18 205.8,180.4 206.25,180.63 206.7,180.85 207,181 207.15,181 207.6,181 208.05,181 208.5,181 208.95,181 209.4,181 209.85,181 210.3,181 210.75,181 211.2,181 211.65,181 212.1,181 212.55,181 213,181 213.45,181 213.9,181 214.35,181 214.8,181 215.25,181 215.7,181 216.15,181 216.6,181 217.05,181 217.5,181 217.95,181 218.4,181 218.85,181 219.3,181 219.75,181 220.2,181 220.65,181 221.1,181 221.55,181 222,181 222.45,181 222.9,181 223.35,181 223.8,181 224.25,181 224.7,181 225.15,181 225.6,181 226.05,181 226.5,181 226.95,181 227.4,181 227.85,181 228.3,181 228.75,181 229.2,181 229.65,181 230.1,181 230.55,181 231,181 231.45,181 231.9,181 232.35,181 232.8,181 233.25,181 233.7,181 234.15,181 234.6,181 235.05,181 235.5,181 235.95,181 236.4,181 236.85,181 237.3,181 237.75,181 238,181" fill="none" stroke="#ff4b3e" stroke-width="1.6" stroke-linejoin="round"/>
<polygon points="65.7,191 66.15,191 66.6,191 67.05,191 67.5,191 67.95,191 68.4,191 68.85,191 69.3,191 69.75,191 70.2,191 70.65,191 71.1,191 71.55,191 72,191 72.45,191 72.9,191 73.35,191 73.8,191 74.25,191 74.7,191 75.15,191 75.6,191 76.05,191 76.5,191 76.95,191 77.4,191 77.85,191 78.3,191 78.75,191 79.2,191 79.65,191 80.1,191 80.55,191 81,191 81.45,191 81.9,191 82.35,191 82.8,191 83.25,191 83.7,191 84.15,191 84.6,191 85.05,191 85.5,191 85.95,191 86.4,191 86.85,191 87,191 87.3,190.85 87.75,190.62 88.2,190.4 88.65,190.17 89.1,189.95 89.55,189.72 90,189.66 90.45,190.09 90.9,190.95 91,185.6 91.35,187.82 91.8,188 92.25,190.29 92.7,191 93.15,188.77 93.6,184.61 94.05,187.3 94.5,190.07 94.95,184.73 95.4,188.07 95.85,187.94 96.3,190.21 96.75,188.61 97.2,187.11 97.65,188.2 98.1,187.79 98.55,189.55 99,190.26 99.45,188.53 99.9,189.34 100,187.41 100.35,180.84 100.8,186.39 101.25,186.42 101.7,183.21 102.15,187.86 102.6,188.34 103.05,190.36 103.5,189.72 103.95,189.09 104.4,189.57 104.85,190.17 105.3,188.08 105.75,188.78 106.2,188.73 106.65,188.85 107.1,188.89 107.55,189.82 108,187.38 108.45,189.6 108.9,189.54 109.35,187.1 109.8,189.96 110.25,183.55 110.7,182.99 111.15,187.93 111.6,188.64 112.05,188.23 112.5,187.32 112.95,184.26 113.4,187.1 113.85,189.21 114.3,189.9 114.75,184.5 115.2,186.43 115.65,189.84 116.1,187.77 116.55,185.2 117,189.56 117.45,188.25 117.9,187.47 118.35,189.62 118.8,183.57 119.25,187.85 119.7,187.51 120,187.56 120.15,189.77 120.6,188.36 121.05,186.9 121.5,185.22 121.95,186.09 122.4,183.78 122.85,188.87 123.3,189.54 123.75,188.1 124.2,188.55 124.65,186.54 125.1,186.18 125.55,188.64 126,186.69 126.45,181.5 126.9,182.99 127.35,184.41 127.8,188.99 128.25,186.87 128.7,187.87 129.15,188.94 129.6,186.65 130.05,188.27 130.5,187.28 130.95,188.64 131.4,187.2 131.85,183.15 132.3,182.58 132.75,188.54 133.2,188.41 133.65,186.19 134.1,184.48 134.55,185 135,186.96 135,189.18 135.45,184.56 135.9,186.84 136.35,187.2 136.8,181.87 137.25,184.97 137.7,185.19 138.15,187.09 138.6,180.51 139.05,185.35 139.5,186.72 139.95,185.95 140.4,184.37 140.85,185.07 141,184.43 141.3,182 141.75,183.52 142.2,182.58 142.65,186.4 143.1,186.06 143.55,184.82 144,182.89 144.45,184.67 144.9,182.56 145.35,179.38 145.8,183.96 146.25,180.77 146.7,178.43 147.15,180.2 147.6,177.78 148.05,184.12 148.5,184.48 148.95,179.68 149,180.33 149.4,182.06 149.85,181.84 150.3,180.46 150.75,181.4 151.2,172.65 151.65,180.34 152.1,180.89 152.55,177.65 153,179.09 153.45,178.37 153.9,181.09 154.35,174.6 154.8,172.3 155,180.91 155.25,176.19 155.7,178.39 156.15,176.34 156.6,177.72 157.05,175.2 157.5,176.07 157.95,173.79 158.4,173.6 158.5,174.07 158.85,169.46 159.3,172.93 159.75,166.98 160.2,171.91 160.65,171.55 161.1,166.8 161.55,170.69 162,167.62 162.45,161.85 162.9,168.23 163,164.58 163.35,163.52 163.8,166.63 164.25,163.59 164.7,165.8 165.15,163.11 165.6,160.88 166.05,162.77 166.5,160.12 166.95,162.62 167.4,157.36 167.85,162.36 168,162.62 168.3,158.49 168.75,159.44 169.2,158.53 169.65,157.04 170.1,159.29 170.55,157.37 171,158.51 171.45,157.49 171.9,158.97 172,153.04 172.35,152.59 172.8,158.25 173.25,159.28 173.7,155.09 174.15,159.08 174.6,156.71 175.05,158.52 175.5,157.95 175.95,153.77 176,156.97 176.4,159.2 176.85,153.98 177.3,157 177.75,157.49 178.2,155.31 178.65,158.59 179.1,157.93 179.55,155.78 180,157.09 180,156.07 180.45,157.57 180.9,148.05 181.35,158.45 181.8,159.26 182.25,160.03 182.7,158.41 183.15,160.25 183.6,157.07 184,159.44 184.05,161.55 184.5,162.45 184.95,157.17 185.4,161.38 185.85,159.45 186.3,163.84 186.75,163.42 187,164.25 187.2,161 187.65,158.07 188.1,159.47 188.55,157.93 189,156.42 189,158.34 189.45,155.71 189.9,153.14 190.35,147.54 190.8,149.57 191,146.71 191.25,150.88 191.7,150.26 192.15,152.23 192.6,157.31 193,158.23 193.05,160.81 193.5,165.95 193.95,172.44 194.4,175.85 194.5,176.47 194.85,178.86 195.3,183.47 195.75,187.67 196,190 196.2,190.2 196.65,190.65 197,191 197.1,191 197.55,191 198,191 198.45,191 198.9,191 199.35,191 199.8,191 200.25,191 200.7,191 201.15,191 201.6,191 202.05,191 202.5,191 202.95,191 203.4,191 203.85,191 204.3,191 204.75,191 205.2,191 205.65,191 206.1,191 206.55,191 207,191 207.45,191 207.9,191 208.35,191 208.8,191 209.25,191 209.7,191 210.15,191 210.6,191 211.05,191 211.5,191 211.95,191 212.4,191 212.85,191 213.3,191 213.75,191 214.2,191 214.65,191 215.1,191 215.55,191 216,191 216.45,191 216.9,191 217.35,191 217.8,191 218.25,191 218.7,191 219.15,191 219.6,191 220.05,191 220.5,191 220.95,191 221.4,191 221.85,191 222.3,191 222.75,191 223.2,191 223.65,191 224.1,191 224.55,191 225,191 225.45,191 225.7,191 225.7,191 65.7,191" fill="rgba(25,198,245,0.36)" stroke="none"/>
<polyline points="65.7,191 66.15,191 66.6,191 67.05,191 67.5,191 67.95,191 68.4,191 68.85,191 69.3,191 69.75,191 70.2,191 70.65,191 71.1,191 71.55,191 72,191 72.45,191 72.9,191 73.35,191 73.8,191 74.25,191 74.7,191 75.15,191 75.6,191 76.05,191 76.5,191 76.95,191 77.4,191 77.85,191 78.3,191 78.75,191 79.2,191 79.65,191 80.1,191 80.55,191 81,191 81.45,191 81.9,191 82.35,191 82.8,191 83.25,191 83.7,191 84.15,191 84.6,191 85.05,191 85.5,191 85.95,191 86.4,191 86.85,191 87,191 87.3,190.85 87.75,190.62 88.2,190.4 88.65,190.17 89.1,189.95 89.55,189.72 90,189.66 90.45,190.09 90.9,190.95 91,185.6 91.35,187.82 91.8,188 92.25,190.29 92.7,191 93.15,188.77 93.6,184.61 94.05,187.3 94.5,190.07 94.95,184.73 95.4,188.07 95.85,187.94 96.3,190.21 96.75,188.61 97.2,187.11 97.65,188.2 98.1,187.79 98.55,189.55 99,190.26 99.45,188.53 99.9,189.34 100,187.41 100.35,180.84 100.8,186.39 101.25,186.42 101.7,183.21 102.15,187.86 102.6,188.34 103.05,190.36 103.5,189.72 103.95,189.09 104.4,189.57 104.85,190.17 105.3,188.08 105.75,188.78 106.2,188.73 106.65,188.85 107.1,188.89 107.55,189.82 108,187.38 108.45,189.6 108.9,189.54 109.35,187.1 109.8,189.96 110.25,183.55 110.7,182.99 111.15,187.93 111.6,188.64 112.05,188.23 112.5,187.32 112.95,184.26 113.4,187.1 113.85,189.21 114.3,189.9 114.75,184.5 115.2,186.43 115.65,189.84 116.1,187.77 116.55,185.2 117,189.56 117.45,188.25 117.9,187.47 118.35,189.62 118.8,183.57 119.25,187.85 119.7,187.51 120,187.56 120.15,189.77 120.6,188.36 121.05,186.9 121.5,185.22 121.95,186.09 122.4,183.78 122.85,188.87 123.3,189.54 123.75,188.1 124.2,188.55 124.65,186.54 125.1,186.18 125.55,188.64 126,186.69 126.45,181.5 126.9,182.99 127.35,184.41 127.8,188.99 128.25,186.87 128.7,187.87 129.15,188.94 129.6,186.65 130.05,188.27 130.5,187.28 130.95,188.64 131.4,187.2 131.85,183.15 132.3,182.58 132.75,188.54 133.2,188.41 133.65,186.19 134.1,184.48 134.55,185 135,186.96 135,189.18 135.45,184.56 135.9,186.84 136.35,187.2 136.8,181.87 137.25,184.97 137.7,185.19 138.15,187.09 138.6,180.51 139.05,185.35 139.5,186.72 139.95,185.95 140.4,184.37 140.85,185.07 141,184.43 141.3,182 141.75,183.52 142.2,182.58 142.65,186.4 143.1,186.06 143.55,184.82 144,182.89 144.45,184.67 144.9,182.56 145.35,179.38 145.8,183.96 146.25,180.77 146.7,178.43 147.15,180.2 147.6,177.78 148.05,184.12 148.5,184.48 148.95,179.68 149,180.33 149.4,182.06 149.85,181.84 150.3,180.46 150.75,181.4 151.2,172.65 151.65,180.34 152.1,180.89 152.55,177.65 153,179.09 153.45,178.37 153.9,181.09 154.35,174.6 154.8,172.3 155,180.91 155.25,176.19 155.7,178.39 156.15,176.34 156.6,177.72 157.05,175.2 157.5,176.07 157.95,173.79 158.4,173.6 158.5,174.07 158.85,169.46 159.3,172.93 159.75,166.98 160.2,171.91 160.65,171.55 161.1,166.8 161.55,170.69 162,167.62 162.45,161.85 162.9,168.23 163,164.58 163.35,163.52 163.8,166.63 164.25,163.59 164.7,165.8 165.15,163.11 165.6,160.88 166.05,162.77 166.5,160.12 166.95,162.62 167.4,157.36 167.85,162.36 168,162.62 168.3,158.49 168.75,159.44 169.2,158.53 169.65,157.04 170.1,159.29 170.55,157.37 171,158.51 171.45,157.49 171.9,158.97 172,153.04 172.35,152.59 172.8,158.25 173.25,159.28 173.7,155.09 174.15,159.08 174.6,156.71 175.05,158.52 175.5,157.95 175.95,153.77 176,156.97 176.4,159.2 176.85,153.98 177.3,157 177.75,157.49 178.2,155.31 178.65,158.59 179.1,157.93 179.55,155.78 180,157.09 180,156.07 180.45,157.57 180.9,148.05 181.35,158.45 181.8,159.26 182.25,160.03 182.7,158.41 183.15,160.25 183.6,157.07 184,159.44 184.05,161.55 184.5,162.45 184.95,157.17 185.4,161.38 185.85,159.45 186.3,163.84 186.75,163.42 187,164.25 187.2,161 187.65,158.07 188.1,159.47 188.55,157.93 189,156.42 189,158.34 189.45,155.71 189.9,153.14 190.35,147.54 190.8,149.57 191,146.71 191.25,150.88 191.7,150.26 192.15,152.23 192.6,157.31 193,158.23 193.05,160.81 193.5,165.95 193.95,172.44 194.4,175.85 194.5,176.47 194.85,178.86 195.3,183.47 195.75,187.67 196,190 196.2,190.2 196.65,190.65 197,191 197.1,191 197.55,191 198,191 198.45,191 198.9,191 199.35,191 199.8,191 200.25,191 200.7,191 201.15,191 201.6,191 202.05,191 202.5,191 202.95,191 203.4,191 203.85,191 204.3,191 204.75,191 205.2,191 205.65,191 206.1,191 206.55,191 207,191 207.45,191 207.9,191 208.35,191 208.8,191 209.25,191 209.7,191 210.15,191 210.6,191 211.05,191 211.5,191 211.95,191 212.4,191 212.85,191 213.3,191 213.75,191 214.2,191 214.65,191 215.1,191 215.55,191 216,191 216.45,191 216.9,191 217.35,191 217.8,191 218.25,191 218.7,191 219.15,191 219.6,191 220.05,191 220.5,191 220.95,191 221.4,191 221.85,191 222.3,191 222.75,191 223.2,191 223.65,191 224.1,191 224.55,191 225,191 225.45,191 225.7,191" fill="none" stroke="#0ecdfb" stroke-width="1.6" stroke-linejoin="round"/>
<polygon points="53.3,201 53.75,201 54.2,201 54.65,201 55.1,201 55.55,201 56,201 56.45,201 56.9,201 57.35,201 57.8,201 58.25,201 58.7,201 59.15,201 59.6,201 60.05,201 60.5,201 60.95,201 61.4,201 61.85,201 62.3,201 62.75,201 63.2,201 63.65,201 64.1,201 64.55,201 65,201 65.45,201 65.9,201 66.35,201 66.8,201 67.25,201 67.7,201 68.15,201 68.6,201 69.05,201 69.5,201 69.95,201 70,201 70.4,200.97 70.85,200.93 71.3,200.9 71.75,200.86 72.2,200.82 72.65,200.79 73.1,200.75 73.55,200.72 74,200.68 74.45,200.64 74.9,200.61 75,199.39 75.35,200.79 75.8,201 76.25,201 76.7,200.25 77.15,201 77.6,200.14 78.05,200.45 78.5,200.13 78.95,200.47 79.4,200.8 79.85,199.81 80.3,199.46 80.75,200.53 81.2,198.24 81.65,201 82.1,201 82.55,196.76 83,199.81 83.45,199.44 83.9,200.58 84.35,200.11 84.8,200.54 85.25,200.24 85.7,200.76 86.15,200.65 86.6,199.23 87.05,201 87.5,200.02 87.95,199.55 88.4,200.22 88.85,199.42 89.3,200.98 89.75,201 90.2,201 90.65,200.83 91.1,201 91.55,197.42 92,200.72 92.45,201 92.9,201 93.35,200.29 93.8,199.81 94.25,200.45 94.7,199.41 95.15,200.39 95.6,200.27 96.05,201 96.5,198.82 96.95,200.74 97.4,201 97.85,199.6 98.3,200.27 98.75,200.94 99.2,199.42 99.65,198.92 100,199.54 100.1,200.35 100.55,200.49 101,200.66 101.45,200.91 101.9,200.78 102.35,199.11 102.8,200.22 103.25,200.69 103.7,198.42 104.15,201 104.6,201 105.05,200.44 105.5,199 105.95,199.54 106.4,200.49 106.85,200.87 107.3,200.29 107.75,199.3 108.2,200.2 108.65,200.22 109.1,200.53 109.55,198.53 110,200.37 110.45,198 110.9,199.96 111.35,199.32 111.8,199.64 112.25,200.45 112.7,198.62 113.15,196.24 113.6,200.45 114.05,200.91 114.5,200.96 114.95,198.73 115.4,199.16 115.85,198.62 116.3,200.72 116.75,197.22 117.2,200.4 117.65,200.82 118.1,200.37 118.55,199.64 119,200.43 119.45,199.67 119.9,198.76 120.35,197.84 120.8,199.55 121.25,199.12 121.7,200.98 122.15,199.65 122.6,198.99 123.05,196.55 123.5,201 123.95,201 124.4,198.37 124.85,200.13 125.3,199.22 125.75,199.66 126.2,200.35 126.65,199.88 127.1,199.2 127.55,200.96 128,200.2 128.45,199.56 128.9,200 129.35,198.17 129.8,199.26 130,199.71 130.25,200.5 130.7,199.52 131.15,199.86 131.6,199.51 132.05,196.6 132.5,200.14 132.95,199.42 133.4,200.34 133.85,200.11 134.3,198.05 134.75,198.81 135.2,197.93 135.65,198.12 136.1,196.88 136.55,199.67 137,199.86 137.45,199.24 137.9,199.4 138.35,199.7 138.8,197.23 139.25,199.1 139.7,198.8 140.15,197.47 140.6,198.99 141.05,197.77 141.5,199.65 141.95,199.49 142.4,199.68 142.85,197.28 143.3,199.31 143.75,196.95 144.2,199.21 144.65,198.67 145.1,199.53 145.55,198.77 146,198.67 146,198.19 146.45,196.86 146.9,197.54 147.35,198.01 147.8,197.31 148.25,197.38 148.7,196.12 149.15,197.81 149.6,193.97 150.05,196.47 150.5,194.67 150.95,195.19 151,193.9 151.4,194.62 151.85,194.61 152.3,192.61 152.75,194.33 153.2,193.22 153.65,193.1 154,193.71 154.1,193.38 154.55,192.44 155,192.3 155.45,191.46 155.9,192.34 156.35,190.76 156.8,191.41 157.25,189.28 157.7,191.28 157.8,191.27 158.15,190 158.6,190.31 159.05,191.31 159.5,189.6 159.95,191.64 160.4,188.81 160.85,188.37 161.3,191.21 161.75,190.19 162.2,190.59 162.65,190.99 163,191.43 163.1,191.02 163.55,190.41 164,187.15 164.45,188.8 164.9,188.56 165.35,189.46 165.8,190.81 166.25,190.28 166.7,188.89 167.15,188.12 167.6,190.45 168,189.8 168.05,188.94 168.5,188.4 168.95,187.86 169.4,187.32 169.85,186.78 170.3,186.24 170.5,186 170.75,184 171.2,180.4 171.5,178 171.65,174.1 172,165 172.1,163.08 172.55,154.42 173,145.77 173.3,140 173.45,137.5 173.9,130 174.35,122.5 174.5,120 174.8,111.43 175.2,100 175.25,98.46 175.7,84.62 176.15,70.77 176.5,60 176.6,55.71 177.05,36.43 177.2,30 177.5,27.69 177.95,24.23 178.4,20.77 178.5,20 178.85,23.89 179.3,28.89 179.4,30 179.75,56.25 179.8,60 180.2,74.55 180.65,90.91 180.9,100 181.1,106.67 181.5,120 181.55,122 182,140 182,140 182.3,160 182.45,170 182.6,180 182.8,195 182.9,195.5 183.35,197.75 183.8,200 183.8,200 184.25,200.38 184.7,200.75 185,201 185.15,201 185.6,201 186.05,201 186.5,201 186.95,201 187.4,201 187.85,201 188.3,201 188.75,201 189.2,201 189.65,201 190.1,201 190.55,201 191,201 191.45,201 191.9,201 192.35,201 192.8,201 193.25,201 193.7,201 194.15,201 194.6,201 195.05,201 195.5,201 195.95,201 196.4,201 196.85,201 197.3,201 197.75,201 198.2,201 198.65,201 199.1,201 199.55,201 200,201 200.45,201 200.9,201 201.35,201 201.8,201 202.25,201 202.7,201 203.15,201 203.6,201 204.05,201 204.5,201 204.95,201 205.4,201 205.85,201 206.3,201 206.75,201 207.2,201 207.65,201 208.1,201 208.55,201 209,201 209.45,201 209.9,201 210.35,201 210.8,201 211.25,201 211.7,201 212.15,201 212.6,201 213.05,201 213.3,201 213.3,201 53.3,201" fill="rgba(255,160,70,0.36)" stroke="none"/>
<polyline points="53.3,201 53.75,201 54.2,201 54.65,201 55.1,201 55.55,201 56,201 56.45,201 56.9,201 57.35,201 57.8,201 58.25,201 58.7,201 59.15,201 59.6,201 60.05,201 60.5,201 60.95,201 61.4,201 61.85,201 62.3,201 62.75,201 63.2,201 63.65,201 64.1,201 64.55,201 65,201 65.45,201 65.9,201 66.35,201 66.8,201 67.25,201 67.7,201 68.15,201 68.6,201 69.05,201 69.5,201 69.95,201 70,201 70.4,200.97 70.85,200.93 71.3,200.9 71.75,200.86 72.2,200.82 72.65,200.79 73.1,200.75 73.55,200.72 74,200.68 74.45,200.64 74.9,200.61 75,199.39 75.35,200.79 75.8,201 76.25,201 76.7,200.25 77.15,201 77.6,200.14 78.05,200.45 78.5,200.13 78.95,200.47 79.4,200.8 79.85,199.81 80.3,199.46 80.75,200.53 81.2,198.24 81.65,201 82.1,201 82.55,196.76 83,199.81 83.45,199.44 83.9,200.58 84.35,200.11 84.8,200.54 85.25,200.24 85.7,200.76 86.15,200.65 86.6,199.23 87.05,201 87.5,200.02 87.95,199.55 88.4,200.22 88.85,199.42 89.3,200.98 89.75,201 90.2,201 90.65,200.83 91.1,201 91.55,197.42 92,200.72 92.45,201 92.9,201 93.35,200.29 93.8,199.81 94.25,200.45 94.7,199.41 95.15,200.39 95.6,200.27 96.05,201 96.5,198.82 96.95,200.74 97.4,201 97.85,199.6 98.3,200.27 98.75,200.94 99.2,199.42 99.65,198.92 100,199.54 100.1,200.35 100.55,200.49 101,200.66 101.45,200.91 101.9,200.78 102.35,199.11 102.8,200.22 103.25,200.69 103.7,198.42 104.15,201 104.6,201 105.05,200.44 105.5,199 105.95,199.54 106.4,200.49 106.85,200.87 107.3,200.29 107.75,199.3 108.2,200.2 108.65,200.22 109.1,200.53 109.55,198.53 110,200.37 110.45,198 110.9,199.96 111.35,199.32 111.8,199.64 112.25,200.45 112.7,198.62 113.15,196.24 113.6,200.45 114.05,200.91 114.5,200.96 114.95,198.73 115.4,199.16 115.85,198.62 116.3,200.72 116.75,197.22 117.2,200.4 117.65,200.82 118.1,200.37 118.55,199.64 119,200.43 119.45,199.67 119.9,198.76 120.35,197.84 120.8,199.55 121.25,199.12 121.7,200.98 122.15,199.65 122.6,198.99 123.05,196.55 123.5,201 123.95,201 124.4,198.37 124.85,200.13 125.3,199.22 125.75,199.66 126.2,200.35 126.65,199.88 127.1,199.2 127.55,200.96 128,200.2 128.45,199.56 128.9,200 129.35,198.17 129.8,199.26 130,199.71 130.25,200.5 130.7,199.52 131.15,199.86 131.6,199.51 132.05,196.6 132.5,200.14 132.95,199.42 133.4,200.34 133.85,200.11 134.3,198.05 134.75,198.81 135.2,197.93 135.65,198.12 136.1,196.88 136.55,199.67 137,199.86 137.45,199.24 137.9,199.4 138.35,199.7 138.8,197.23 139.25,199.1 139.7,198.8 140.15,197.47 140.6,198.99 141.05,197.77 141.5,199.65 141.95,199.49 142.4,199.68 142.85,197.28 143.3,199.31 143.75,196.95 144.2,199.21 144.65,198.67 145.1,199.53 145.55,198.77 146,198.67 146,198.19 146.45,196.86 146.9,197.54 147.35,198.01 147.8,197.31 148.25,197.38 148.7,196.12 149.15,197.81 149.6,193.97 150.05,196.47 150.5,194.67 150.95,195.19 151,193.9 151.4,194.62 151.85,194.61 152.3,192.61 152.75,194.33 153.2,193.22 153.65,193.1 154,193.71 154.1,193.38 154.55,192.44 155,192.3 155.45,191.46 155.9,192.34 156.35,190.76 156.8,191.41 157.25,189.28 157.7,191.28 157.8,191.27 158.15,190 158.6,190.31 159.05,191.31 159.5,189.6 159.95,191.64 160.4,188.81 160.85,188.37 161.3,191.21 161.75,190.19 162.2,190.59 162.65,190.99 163,191.43 163.1,191.02 163.55,190.41 164,187.15 164.45,188.8 164.9,188.56 165.35,189.46 165.8,190.81 166.25,190.28 166.7,188.89 167.15,188.12 167.6,190.45 168,189.8 168.05,188.94 168.5,188.4 168.95,187.86 169.4,187.32 169.85,186.78 170.3,186.24 170.5,186 170.75,184 171.2,180.4 171.5,178 171.65,174.1 172,165 172.1,163.08 172.55,154.42 173,145.77 173.3,140 173.45,137.5 173.9,130 174.35,122.5 174.5,120 174.8,111.43 175.2,100 175.25,98.46 175.7,84.62 176.15,70.77 176.5,60 176.6,55.71 177.05,36.43 177.2,30 177.5,27.69 177.95,24.23 178.4,20.77 178.5,20 178.85,23.89 179.3,28.89 179.4,30 179.75,56.25 179.8,60 180.2,74.55 180.65,90.91 180.9,100 181.1,106.67 181.5,120 181.55,122 182,140 182,140 182.3,160 182.45,170 182.6,180 182.8,195 182.9,195.5 183.35,197.75 183.8,200 183.8,200 184.25,200.38 184.7,200.75 185,201 185.15,201 185.6,201 186.05,201 186.5,201 186.95,201 187.4,201 187.85,201 188.3,201 188.75,201 189.2,201 189.65,201 190.1,201 190.55,201 191,201 191.45,201 191.9,201 192.35,201 192.8,201 193.25,201 193.7,201 194.15,201 194.6,201 195.05,201 195.5,201 195.95,201 196.4,201 196.85,201 197.3,201 197.75,201 198.2,201 198.65,201 199.1,201 199.55,201 200,201 200.45,201 200.9,201 201.35,201 201.8,201 202.25,201 202.7,201 203.15,201 203.6,201 204.05,201 204.5,201 204.95,201 205.4,201 205.85,201 206.3,201 206.75,201 207.2,201 207.65,201 208.1,201 208.55,201 209,201 209.45,201 209.9,201 210.35,201 210.8,201 211.25,201 211.7,201 212.15,201 212.6,201 213.05,201 213.3,201" fill="none" stroke="#ffa24a" stroke-width="1.6" stroke-linejoin="round"/>
<polygon points="41,211 41.45,210.98 41.9,210.96 42.35,210.94 42.8,210.92 43.25,210.9 43.7,210.88 44.15,210.86 44.6,210.84 45.05,210.82 45.5,210.8 45.95,210.78 46.4,210.76 46.85,210.74 47.3,210.72 47.75,210.7 48.2,210.68 48.65,210.66 49.1,210.64 49.55,210.62 50,209.85 50,209.44 50.45,211 50.9,211 51.35,207.98 51.8,211 52.25,207.79 52.7,211 53.15,211 53.6,210.3 54.05,210.68 54.5,211 54.95,210.59 55.4,210.4 55.85,208.92 56.3,211 56.75,208.01 57.2,210.76 57.65,210.56 58.1,208.74 58.55,207.48 59,209.1 59.45,210.51 59.9,210.17 60.35,210.87 60.8,210.46 61.25,210.73 61.7,210.5 62.15,211 62.6,211 63.05,207.2 63.5,211 63.95,207.22 64.4,209.11 64.85,211 65.3,211 65.75,208.91 66.2,209.33 66.65,211 67.1,208.28 67.55,211 68,208.68 68.45,211 68.9,210.59 69.35,208.57 69.8,208.61 70.25,209.85 70.7,209.72 71.15,211 71.6,210.02 72.05,208.26 72.5,206.87 72.95,210.85 73.4,208.81 73.85,210.41 74.3,211 74.75,207.8 75.2,210.69 75.65,209.83 76.1,210.81 76.55,210.59 77,207.77 77.45,211 77.9,209.75 78.35,208.97 78.8,208.72 79.25,211 79.7,209.7 80.15,209.59 80.6,208.15 81.05,207.24 81.5,209.51 81.95,209.22 82.4,211 82.85,210.52 83.3,208.6 83.75,211 84.2,211 84.65,210.18 85.1,207.77 85.55,210.5 86,209.74 86.45,210.21 86.9,209.48 87.35,209.07 87.8,208.28 88.25,210.49 88.7,207.09 89.15,210.84 89.6,209.44 90.05,211 90.5,211 90.95,208.6 91.4,210.55 91.85,209.54 92.3,208.74 92.75,209.74 93.2,210.94 93.65,211 94.1,205.86 94.55,210.55 95,210.88 95.45,211 95.9,208.58 96.35,208.6 96.8,209.97 97.25,210.02 97.7,211 98.15,211 98.6,211 99.05,211 99.5,206.82 99.95,209.59 100,210.79 100.4,210.65 100.85,210.06 101.3,205.45 101.75,210.89 102.2,210.28 102.65,210.31 103.1,210.84 103.55,209.39 104,211 104.45,210.29 104.9,207.77 105.35,209.42 105.8,210.95 106.25,211 106.7,210.78 107.15,208.57 107.6,209.28 108.05,208.71 108.5,208 108.95,211 109.4,210.09 109.85,211 110.3,207.8 110.75,210.81 111.2,210.36 111.65,207.98 112.1,210.57 112.55,208.43 113,210.25 113.45,210.01 113.9,208.14 114.35,208.87 114.8,208.71 115.25,209.43 115.7,210.94 116.15,210.79 116.6,211 117.05,211 117.5,210.74 117.95,209.29 118.4,208.62 118.85,210.91 119.3,208.43 119.75,207.63 120.2,209.41 120.65,210.81 121.1,210.44 121.55,210.55 122,210.04 122.45,209.29 122.9,209.98 123.35,209.36 123.8,211 124.25,211 124.7,210.37 125.15,210.8 125.6,207.74 126.05,208.72 126.5,211 126.95,206.94 127.4,208.1 127.85,208.27 128.3,210.46 128.75,208.82 129.2,209.12 129.65,210.82 130.1,210.92 130.55,210 131,209.5 131.45,210.74 131.9,206.45 132.35,208.49 132.8,207.92 133.25,209.53 133.7,209.64 134.15,207.24 134.6,207.67 135.05,208.95 135.5,209.69 135.95,206.69 136.4,209.82 136.85,208.21 137.3,209.04 137.75,211 138.2,210.16 138.65,210 139.1,208.34 139.55,208.94 140,207.9 140.45,209.63 140.9,210.7 141.35,209.26 141.8,206.72 142.25,209.68 142.7,206.59 143.15,210.27 143.6,210.69 144,208.27 144.05,208.67 144.5,210.49 144.95,206.14 145.4,208.82 145.85,209.22 146.3,207.33 146.75,204.96 147.2,207.37 147.65,208.38 148.1,205.09 148.55,205.23 149,208.25 149.45,205.7 149.9,206.82 150,206.48 150.35,207.19 150.8,202.96 151.25,207.05 151.7,206.39 152.15,206.34 152.6,202.88 153.05,203.35 153.5,201.82 153.7,203.6 153.95,205.42 154.4,204.24 154.85,203.64 155.3,204.08 155.75,204.46 156.2,203.41 156.65,203.46 157.1,200.75 157.2,202.42 157.55,202.2 158,199.61 158.45,197.99 158.9,196.36 159,196 159.35,193.04 159.8,189.23 160.25,185.42 160.3,185 160.7,173 160.8,170 161.15,156 161.3,150 161.6,140 162.05,125 162.2,120 162.5,112.5 162.95,101.25 163.4,90 163.4,90 163.85,75 164.3,60 164.3,60 164.75,51 165.2,42 165.3,40 165.65,37.9 166.1,35.2 166.3,34 166.55,36.5 166.9,40 167,42.86 167.45,55.71 167.6,60 167.9,90 167.9,90 168.35,109.29 168.6,120 168.8,130 169.2,150 169.25,150.83 169.7,158.33 170.15,165.83 170.4,170 170.6,176.67 171,190 171.05,191.19 171.5,201.88 171.8,209 171.95,209.43 172.4,210.71 172.5,211 172.85,211 173.3,211 173.75,211 174.2,211 174.65,211 175.1,211 175.55,211 176,211 176.45,211 176.9,211 177.35,211 177.8,211 178.25,211 178.7,211 179.15,211 179.6,211 180.05,211 180.5,211 180.95,211 181.4,211 181.85,211 182.3,211 182.75,211 183.2,211 183.65,211 184.1,211 184.55,211 185,211 185.45,211 185.9,211 186.35,211 186.8,211 187.25,211 187.7,211 188.15,211 188.6,211 189.05,211 189.5,211 189.95,211 190.4,211 190.85,211 191.3,211 191.75,211 192.2,211 192.65,211 193.1,211 193.55,211 194,211 194.45,211 194.9,211 195.35,211 195.8,211 196.25,211 196.7,211 197.15,211 197.6,211 198.05,211 198.5,211 198.95,211 199.4,211 199.85,211 200.3,211 200.75,211 201,211 201,211 41,211" fill="rgba(110,226,70,0.32)" stroke="none"/>
<polyline points="41,211 41.45,210.98 41.9,210.96 42.35,210.94 42.8,210.92 43.25,210.9 43.7,210.88 44.15,210.86 44.6,210.84 45.05,210.82 45.5,210.8 45.95,210.78 46.4,210.76 46.85,210.74 47.3,210.72 47.75,210.7 48.2,210.68 48.65,210.66 49.1,210.64 49.55,210.62 50,209.85 50,209.44 50.45,211 50.9,211 51.35,207.98 51.8,211 52.25,207.79 52.7,211 53.15,211 53.6,210.3 54.05,210.68 54.5,211 54.95,210.59 55.4,210.4 55.85,208.92 56.3,211 56.75,208.01 57.2,210.76 57.65,210.56 58.1,208.74 58.55,207.48 59,209.1 59.45,210.51 59.9,210.17 60.35,210.87 60.8,210.46 61.25,210.73 61.7,210.5 62.15,211 62.6,211 63.05,207.2 63.5,211 63.95,207.22 64.4,209.11 64.85,211 65.3,211 65.75,208.91 66.2,209.33 66.65,211 67.1,208.28 67.55,211 68,208.68 68.45,211 68.9,210.59 69.35,208.57 69.8,208.61 70.25,209.85 70.7,209.72 71.15,211 71.6,210.02 72.05,208.26 72.5,206.87 72.95,210.85 73.4,208.81 73.85,210.41 74.3,211 74.75,207.8 75.2,210.69 75.65,209.83 76.1,210.81 76.55,210.59 77,207.77 77.45,211 77.9,209.75 78.35,208.97 78.8,208.72 79.25,211 79.7,209.7 80.15,209.59 80.6,208.15 81.05,207.24 81.5,209.51 81.95,209.22 82.4,211 82.85,210.52 83.3,208.6 83.75,211 84.2,211 84.65,210.18 85.1,207.77 85.55,210.5 86,209.74 86.45,210.21 86.9,209.48 87.35,209.07 87.8,208.28 88.25,210.49 88.7,207.09 89.15,210.84 89.6,209.44 90.05,211 90.5,211 90.95,208.6 91.4,210.55 91.85,209.54 92.3,208.74 92.75,209.74 93.2,210.94 93.65,211 94.1,205.86 94.55,210.55 95,210.88 95.45,211 95.9,208.58 96.35,208.6 96.8,209.97 97.25,210.02 97.7,211 98.15,211 98.6,211 99.05,211 99.5,206.82 99.95,209.59 100,210.79 100.4,210.65 100.85,210.06 101.3,205.45 101.75,210.89 102.2,210.28 102.65,210.31 103.1,210.84 103.55,209.39 104,211 104.45,210.29 104.9,207.77 105.35,209.42 105.8,210.95 106.25,211 106.7,210.78 107.15,208.57 107.6,209.28 108.05,208.71 108.5,208 108.95,211 109.4,210.09 109.85,211 110.3,207.8 110.75,210.81 111.2,210.36 111.65,207.98 112.1,210.57 112.55,208.43 113,210.25 113.45,210.01 113.9,208.14 114.35,208.87 114.8,208.71 115.25,209.43 115.7,210.94 116.15,210.79 116.6,211 117.05,211 117.5,210.74 117.95,209.29 118.4,208.62 118.85,210.91 119.3,208.43 119.75,207.63 120.2,209.41 120.65,210.81 121.1,210.44 121.55,210.55 122,210.04 122.45,209.29 122.9,209.98 123.35,209.36 123.8,211 124.25,211 124.7,210.37 125.15,210.8 125.6,207.74 126.05,208.72 126.5,211 126.95,206.94 127.4,208.1 127.85,208.27 128.3,210.46 128.75,208.82 129.2,209.12 129.65,210.82 130.1,210.92 130.55,210 131,209.5 131.45,210.74 131.9,206.45 132.35,208.49 132.8,207.92 133.25,209.53 133.7,209.64 134.15,207.24 134.6,207.67 135.05,208.95 135.5,209.69 135.95,206.69 136.4,209.82 136.85,208.21 137.3,209.04 137.75,211 138.2,210.16 138.65,210 139.1,208.34 139.55,208.94 140,207.9 140.45,209.63 140.9,210.7 141.35,209.26 141.8,206.72 142.25,209.68 142.7,206.59 143.15,210.27 143.6,210.69 144,208.27 144.05,208.67 144.5,210.49 144.95,206.14 145.4,208.82 145.85,209.22 146.3,207.33 146.75,204.96 147.2,207.37 147.65,208.38 148.1,205.09 148.55,205.23 149,208.25 149.45,205.7 149.9,206.82 150,206.48 150.35,207.19 150.8,202.96 151.25,207.05 151.7,206.39 152.15,206.34 152.6,202.88 153.05,203.35 153.5,201.82 153.7,203.6 153.95,205.42 154.4,204.24 154.85,203.64 155.3,204.08 155.75,204.46 156.2,203.41 156.65,203.46 157.1,200.75 157.2,202.42 157.55,202.2 158,199.61 158.45,197.99 158.9,196.36 159,196 159.35,193.04 159.8,189.23 160.25,185.42 160.3,185 160.7,173 160.8,170 161.15,156 161.3,150 161.6,140 162.05,125 162.2,120 162.5,112.5 162.95,101.25 163.4,90 163.4,90 163.85,75 164.3,60 164.3,60 164.75,51 165.2,42 165.3,40 165.65,37.9 166.1,35.2 166.3,34 166.55,36.5 166.9,40 167,42.86 167.45,55.71 167.6,60 167.9,90 167.9,90 168.35,109.29 168.6,120 168.8,130 169.2,150 169.25,150.83 169.7,158.33 170.15,165.83 170.4,170 170.6,176.67 171,190 171.05,191.19 171.5,201.88 171.8,209 171.95,209.43 172.4,210.71 172.5,211 172.85,211 173.3,211 173.75,211 174.2,211 174.65,211 175.1,211 175.55,211 176,211 176.45,211 176.9,211 177.35,211 177.8,211 178.25,211 178.7,211 179.15,211 179.6,211 180.05,211 180.5,211 180.95,211 181.4,211 181.85,211 182.3,211 182.75,211 183.2,211 183.65,211 184.1,211 184.55,211 185,211 185.45,211 185.9,211 186.35,211 186.8,211 187.25,211 187.7,211 188.15,211 188.6,211 189.05,211 189.5,211 189.95,211 190.4,211 190.85,211 191.3,211 191.75,211 192.2,211 192.65,211 193.1,211 193.55,211 194,211 194.45,211 194.9,211 195.35,211 195.8,211 196.25,211 196.7,211 197.15,211 197.6,211 198.05,211 198.5,211 198.95,211 199.4,211 199.85,211 200.3,211 200.75,211 201,211" fill="none" stroke="#6ae33e" stroke-width="1.6" stroke-linejoin="round"/>
<text x="44.4" y="228.4" font-size="7.2" fill="#383838" font-weight="bold"><tspan font-size="5.9" dy="-0.4">&#8722;</tspan><tspan dx="0.5" dy="0.4">10</tspan><tspan dx="0.6" dy="-3.6" font-size="6.48">5</tspan></text>
<text x="72.4" y="228.4" font-size="7.2" fill="#383838" font-weight="bold"><tspan font-size="5.9" dy="-0.4">&#8722;</tspan><tspan dx="0.5" dy="0.4">10</tspan><tspan dx="0.6" dy="-3.6" font-size="6.48">4</tspan></text>
<text x="109.4" y="228.4" font-size="7.2" fill="#383838" font-weight="bold">0<tspan dx="0.6" dy="-3.6" font-size="6.48"></tspan></text>
<text x="140.2" y="228.4" font-size="7.2" fill="#383838" font-weight="bold">10<tspan dx="0.6" dy="-3.6" font-size="6.48">4</tspan></text>
<text x="174.1" y="228.4" font-size="7.2" fill="#383838" font-weight="bold">10<tspan dx="0.6" dy="-3.6" font-size="6.48">5</tspan></text>
<text x="106.9" y="239.1" font-size="8.4" fill="#4a4a4a" font-weight="bold">CD133</text>
<text x="228.6" y="169.3" font-size="9.9" fill="#111"><tspan dy="0">WT</tspan></text>
<text x="0" y="0" font-size="9.9" fill="#111" transform="translate(216.8 183.3) scale(0.97 1)"><tspan dy="0">P2X7</tspan><tspan dy="-3.9" font-size="7.92">KD</tspan><tspan dy="3.9"> rec. SAA1</tspan></text>
<text x="0" y="0" font-size="9.9" fill="#111" transform="translate(206.4 197.2) scale(0.96 1)"><tspan dy="0">FPR2</tspan><tspan dy="-3.9" font-size="7.92">KD</tspan><tspan dy="3.9"> rec. SAA1</tspan></text>
<text x="0" y="0" font-size="9.9" fill="#111" transform="translate(190.8 209.1) scale(0.97 1)"><tspan dy="0">WT rec. SAA1</tspan></text>
<polygon points="413.5,208 597.5,208 641,179.3 457,179.3" fill="#fbfbfb"/>
<path d="M485.5 208L529 179.3M486.4 208L529.9 179.3M487.3 208L530.8 179.3M488.2 208L531.7 179.3M489.1 208L532.6 179.3M490 208L533.5 179.3M490.9 208L534.4 179.3M491 208L534.5 179.3M491 208L534.5 179.3M491.8 208L535.3 179.3M492.7 208L536.2 179.3M493.6 208L537.1 179.3M494.5 208L538 179.3M495.4 208L538.9 179.3M496.3 208L539.8 179.3" stroke="#6e6e6e" stroke-width="0.55" fill="none"/>
<path d="M416.74 208L460.24 179.3M418.68 208L462.18 179.3M420.89 208L464.39 179.3M423.43 208L466.93 179.3M426.44 208L469.94 179.3M430.12 208L473.62 179.3M434.87 208L478.37 179.3M441.56 208L485.06 179.3M454.74 208L498.24 179.3M456.68 208L500.18 179.3M458.89 208L502.39 179.3M461.43 208L504.93 179.3M464.44 208L507.94 179.3M468.12 208L511.62 179.3M472.87 208L516.37 179.3M479.56 208L523.06 179.3M502.44 208L545.94 179.3M509.13 208L552.63 179.3M513.88 208L557.38 179.3M517.56 208L561.06 179.3M520.57 208L564.07 179.3M523.11 208L566.61 179.3M525.32 208L568.82 179.3M527.26 208L570.76 179.3M540.44 208L583.94 179.3M547.13 208L590.63 179.3M551.88 208L595.38 179.3M555.56 208L599.06 179.3M558.57 208L602.07 179.3M561.11 208L604.61 179.3M563.32 208L606.82 179.3M565.26 208L608.76 179.3M578.44 208L621.94 179.3M585.13 208L628.63 179.3M589.88 208L633.38 179.3M593.56 208L637.06 179.3M596.57 208L640.07 179.3" stroke="#a8a8a8" stroke-width="0.6" fill="none"/>
<path d="M415 208L458.5 179.3M453 208L496.5 179.3M529 208L572.5 179.3M567 208L610.5 179.3" stroke="#5a5a5a" stroke-width="0.8" fill="none"/>
<polygon points="485.8,208 496.2,208 539.7,179.3 529.3,179.3" fill="#8c8c8c" fill-opacity="0.45"/>
<line x1="413.5" y1="208" x2="457" y2="179.3" stroke="#777" stroke-width="0.7"/>
<polygon points="457,179.3 457.45,179.3 457.9,179.3 458.35,179.3 458.8,179.3 459.25,179.3 459.7,179.3 460.15,179.3 460.6,179.3 461.05,179.3 461.5,179.3 461.95,179.3 462.4,179.3 462.85,179.3 463.3,179.3 463.75,179.3 464.2,179.3 464.65,179.3 465.1,179.3 465.55,179.3 466,179.3 466.45,179.3 466.9,179.3 467.35,179.3 467.8,179.3 468.25,179.3 468.7,179.3 469.15,179.3 469.6,179.3 470.05,179.3 470.5,179.3 470.95,179.3 471.4,179.3 471.85,179.3 472.3,179.3 472.75,179.3 473.2,179.3 473.65,179.3 474.1,179.3 474.55,179.3 475,179.3 475.45,179.3 475.9,179.3 476.35,179.3 476.8,179.3 477.25,179.3 477.7,179.3 478,179.2 478.15,179.3 478.6,179.21 479.05,179.08 479.5,179.3 479.95,177.67 480.4,178.47 480.85,178.28 481.3,177.67 481.75,179.3 482.2,178.28 482.65,178.75 483.1,177.09 483.55,178.57 484,177.9 484.45,178.69 484.9,178.09 485.35,178.78 485.8,177.18 486.25,179.3 486.7,178.19 487.15,177.67 487.6,177.76 488.05,177.79 488.5,177.97 488.95,178.81 489.4,178.7 489.85,178.39 490,177.86 490.3,176.9 490.75,177.42 491.2,176.46 491.65,177.93 492.1,177.43 492.55,178.72 493,177.93 493.45,178.73 493.9,177.64 494.35,178.68 494.8,178.3 495.25,177.23 495.7,177.95 496.15,178.14 496.6,176.5 497.05,177.84 497.5,177.83 497.95,177.9 498.4,177.71 498.85,178.23 499.3,177.15 499.75,177.27 500,177.71 500.2,176.66 500.65,177.94 501.1,177.29 501.55,176.16 502,178.27 502.45,176.87 502.9,177.2 503.35,176.6 503.8,178.04 504.25,177.25 504.7,177.89 505.15,177.76 505.6,177.9 506.05,176.71 506.5,177.6 506.95,177 507.4,176.87 507.85,177.67 508.3,177.67 508.75,176.97 509.2,174.17 509.65,176.4 510.1,177.72 510.55,174.75 511,174.86 511.45,174.63 511.9,176.44 512.35,177.16 512.8,176.68 513.25,176.07 513.7,173.53 514.15,176.96 514.6,176.75 515.05,177.01 515.5,175.76 515.95,176.87 516.4,177.51 516.85,175.85 517.3,177.79 517.75,176.05 518.2,177.43 518.65,175.22 519.1,174.76 519.55,174.5 520,176.66 520,174.27 520.45,172.19 520.9,173.57 521.35,176.21 521.8,176.61 522.25,176.48 522.7,174.39 523.15,176.46 523.6,176.25 524.05,176.1 524.5,176.24 524.95,175.58 525.4,175.97 525.85,175.75 526.3,176.12 526.75,176.49 527.2,174.75 527.65,176.73 528.1,174.47 528.55,176.17 529,176.4 529.45,172.8 529.9,172.33 530.35,174.32 530.8,171.77 531.25,171.24 531.7,173.82 532.15,174.9 532.6,175.44 533.05,172.95 533.5,173.07 533.95,175.25 534.4,174.21 534.85,175.43 535,174.39 535.3,174.24 535.75,171.46 536.2,171.5 536.65,172.35 537.1,171.79 537.55,174.48 538,174.57 538.45,174.11 538.9,171.72 539.35,174.64 539.8,170 540.25,173.25 540.7,173.08 541.15,172.47 541.6,171.74 542.05,169.03 542.5,172.22 542.95,170.45 543.4,170.81 543.85,168.2 544.3,169.87 544.75,167.14 545.2,168.74 545.65,169.43 546.1,169.22 546.55,168.95 547,168.96 547,168.99 547.45,168.19 547.9,167.01 548.35,167.91 548.8,167.33 549.25,167.94 549.7,169.66 550.15,168.81 550.6,167.16 551.05,166.96 551.5,163.48 551.95,163.36 552.4,162.99 552.85,166.07 553,164.07 553.3,161.71 553.75,165.37 554.2,161.53 554.65,163.58 555.1,164.14 555.55,163.14 556,162.54 556.45,158.76 556.9,159.46 557.35,159.22 557.8,158.33 558.25,160.75 558.7,158.09 559.15,160.39 559.6,159.47 560.05,159.94 560.5,159.18 560.95,157.83 561.4,150.9 561.85,153.51 562,156.02 562.3,151.01 562.75,155.89 563.2,154.35 563.65,150.86 564.1,154.28 564.55,152.05 565,146.85 565.45,146.58 565.9,151.08 566.35,146.78 566.8,146.99 567.25,146.31 567.7,145.17 568,143.39 568.15,144.4 568.6,139.01 569.05,143.17 569.5,140.04 569.95,142.22 570.4,140.03 570.85,136.68 571.3,138.26 571.75,137.38 572.2,137.12 572.65,135.39 573.1,134.94 573.55,128.99 574,124.21 574.45,130.84 574.9,127 575,128.41 575.35,125.07 575.8,123.33 576.25,121.6 576.3,121.67 576.7,119.98 577.15,119.3 577.6,121.08 578.05,119.84 578.5,117.9 578.95,112.47 579.4,115.49 579.8,113.62 579.85,113.3 580.3,112 580.5,107.85 580.75,109.46 581.2,106.73 581.65,104.32 582,104.57 582.1,101.62 582.55,95.85 582.6,91.66 583,97.13 583.45,105.84 583.8,110.24 583.9,108.73 584.35,111.37 584.8,104.86 585.25,109.67 585.7,103.3 586.15,110.2 586.2,102.46 586.6,109.46 587.05,110.73 587.5,114.26 587.95,114.47 588.2,112.07 588.4,115.02 588.85,120.45 589.3,121.85 589.7,123.93 589.75,123.1 590.2,122.93 590.65,123.55 591.1,124.58 591.55,127.91 592,125.93 592.2,123.12 592.45,143.04 592.5,146 592.9,144.98 593.35,144.8 593.7,148.65 593.8,147.82 594.25,156.69 594.7,163.69 595.1,167.79 595.15,167.62 595.6,169.48 596.05,170.79 596.5,173.17 596.95,170.85 597.1,173.57 597.4,175.14 597.85,177.89 598.3,177.07 598.75,177.66 599.2,178.25 599.65,178.84 600,179.3 600.1,179.3 600.55,179.3 601,179.3 601.45,179.3 601.9,179.3 602.35,179.3 602.8,179.3 603.25,179.3 603.7,179.3 604.15,179.3 604.6,179.3 605.05,179.3 605.5,179.3 605.95,179.3 606.4,179.3 606.85,179.3 607.3,179.3 607.75,179.3 608.2,179.3 608.65,179.3 609.1,179.3 609.55,179.3 610,179.3 610.45,179.3 610.9,179.3 611.35,179.3 611.8,179.3 612.25,179.3 612.7,179.3 613.15,179.3 613.6,179.3 614.05,179.3 614.5,179.3 614.95,179.3 615.4,179.3 615.85,179.3 616.3,179.3 616.75,179.3 617.2,179.3 617.65,179.3 618.1,179.3 618.55,179.3 619,179.3 619.45,179.3 619.9,179.3 620.35,179.3 620.8,179.3 621.25,179.3 621.7,179.3 622.15,179.3 622.6,179.3 623.05,179.3 623.5,179.3 623.95,179.3 624.4,179.3 624.85,179.3 625.3,179.3 625.75,179.3 626.2,179.3 626.65,179.3 627.1,179.3 627.55,179.3 628,179.3 628.45,179.3 628.9,179.3 629.35,179.3 629.8,179.3 630.25,179.3 630.7,179.3 631.15,179.3 631.6,179.3 632.05,179.3 632.5,179.3 632.95,179.3 633.4,179.3 633.85,179.3 634.3,179.3 634.75,179.3 635.2,179.3 635.65,179.3 636.1,179.3 636.55,179.3 637,179.3 637.45,179.3 637.9,179.3 638.35,179.3 638.8,179.3 639.25,179.3 639.7,179.3 640.15,179.3 640.6,179.3 641,179.3 641,179.3 457,179.3" fill="rgba(255,80,80,0.40)" stroke="none"/>
<polyline points="457,179.3 457.45,179.3 457.9,179.3 458.35,179.3 458.8,179.3 459.25,179.3 459.7,179.3 460.15,179.3 460.6,179.3 461.05,179.3 461.5,179.3 461.95,179.3 462.4,179.3 462.85,179.3 463.3,179.3 463.75,179.3 464.2,179.3 464.65,179.3 465.1,179.3 465.55,179.3 466,179.3 466.45,179.3 466.9,179.3 467.35,179.3 467.8,179.3 468.25,179.3 468.7,179.3 469.15,179.3 469.6,179.3 470.05,179.3 470.5,179.3 470.95,179.3 471.4,179.3 471.85,179.3 472.3,179.3 472.75,179.3 473.2,179.3 473.65,179.3 474.1,179.3 474.55,179.3 475,179.3 475.45,179.3 475.9,179.3 476.35,179.3 476.8,179.3 477.25,179.3 477.7,179.3 478,179.2 478.15,179.3 478.6,179.21 479.05,179.08 479.5,179.3 479.95,177.67 480.4,178.47 480.85,178.28 481.3,177.67 481.75,179.3 482.2,178.28 482.65,178.75 483.1,177.09 483.55,178.57 484,177.9 484.45,178.69 484.9,178.09 485.35,178.78 485.8,177.18 486.25,179.3 486.7,178.19 487.15,177.67 487.6,177.76 488.05,177.79 488.5,177.97 488.95,178.81 489.4,178.7 489.85,178.39 490,177.86 490.3,176.9 490.75,177.42 491.2,176.46 491.65,177.93 492.1,177.43 492.55,178.72 493,177.93 493.45,178.73 493.9,177.64 494.35,178.68 494.8,178.3 495.25,177.23 495.7,177.95 496.15,178.14 496.6,176.5 497.05,177.84 497.5,177.83 497.95,177.9 498.4,177.71 498.85,178.23 499.3,177.15 499.75,177.27 500,177.71 500.2,176.66 500.65,177.94 501.1,177.29 501.55,176.16 502,178.27 502.45,176.87 502.9,177.2 503.35,176.6 503.8,178.04 504.25,177.25 504.7,177.89 505.15,177.76 505.6,177.9 506.05,176.71 506.5,177.6 506.95,177 507.4,176.87 507.85,177.67 508.3,177.67 508.75,176.97 509.2,174.17 509.65,176.4 510.1,177.72 510.55,174.75 511,174.86 511.45,174.63 511.9,176.44 512.35,177.16 512.8,176.68 513.25,176.07 513.7,173.53 514.15,176.96 514.6,176.75 515.05,177.01 515.5,175.76 515.95,176.87 516.4,177.51 516.85,175.85 517.3,177.79 517.75,176.05 518.2,177.43 518.65,175.22 519.1,174.76 519.55,174.5 520,176.66 520,174.27 520.45,172.19 520.9,173.57 521.35,176.21 521.8,176.61 522.25,176.48 522.7,174.39 523.15,176.46 523.6,176.25 524.05,176.1 524.5,176.24 524.95,175.58 525.4,175.97 525.85,175.75 526.3,176.12 526.75,176.49 527.2,174.75 527.65,176.73 528.1,174.47 528.55,176.17 529,176.4 529.45,172.8 529.9,172.33 530.35,174.32 530.8,171.77 531.25,171.24 531.7,173.82 532.15,174.9 532.6,175.44 533.05,172.95 533.5,173.07 533.95,175.25 534.4,174.21 534.85,175.43 535,174.39 535.3,174.24 535.75,171.46 536.2,171.5 536.65,172.35 537.1,171.79 537.55,174.48 538,174.57 538.45,174.11 538.9,171.72 539.35,174.64 539.8,170 540.25,173.25 540.7,173.08 541.15,172.47 541.6,171.74 542.05,169.03 542.5,172.22 542.95,170.45 543.4,170.81 543.85,168.2 544.3,169.87 544.75,167.14 545.2,168.74 545.65,169.43 546.1,169.22 546.55,168.95 547,168.96 547,168.99 547.45,168.19 547.9,167.01 548.35,167.91 548.8,167.33 549.25,167.94 549.7,169.66 550.15,168.81 550.6,167.16 551.05,166.96 551.5,163.48 551.95,163.36 552.4,162.99 552.85,166.07 553,164.07 553.3,161.71 553.75,165.37 554.2,161.53 554.65,163.58 555.1,164.14 555.55,163.14 556,162.54 556.45,158.76 556.9,159.46 557.35,159.22 557.8,158.33 558.25,160.75 558.7,158.09 559.15,160.39 559.6,159.47 560.05,159.94 560.5,159.18 560.95,157.83 561.4,150.9 561.85,153.51 562,156.02 562.3,151.01 562.75,155.89 563.2,154.35 563.65,150.86 564.1,154.28 564.55,152.05 565,146.85 565.45,146.58 565.9,151.08 566.35,146.78 566.8,146.99 567.25,146.31 567.7,145.17 568,143.39 568.15,144.4 568.6,139.01 569.05,143.17 569.5,140.04 569.95,142.22 570.4,140.03 570.85,136.68 571.3,138.26 571.75,137.38 572.2,137.12 572.65,135.39 573.1,134.94 573.55,128.99 574,124.21 574.45,130.84 574.9,127 575,128.41 575.35,125.07 575.8,123.33 576.25,121.6 576.3,121.67 576.7,119.98 577.15,119.3 577.6,121.08 578.05,119.84 578.5,117.9 578.95,112.47 579.4,115.49 579.8,113.62 579.85,113.3 580.3,112 580.5,107.85 580.75,109.46 581.2,106.73 581.65,104.32 582,104.57 582.1,101.62 582.55,95.85 582.6,91.66 583,97.13 583.45,105.84 583.8,110.24 583.9,108.73 584.35,111.37 584.8,104.86 585.25,109.67 585.7,103.3 586.15,110.2 586.2,102.46 586.6,109.46 587.05,110.73 587.5,114.26 587.95,114.47 588.2,112.07 588.4,115.02 588.85,120.45 589.3,121.85 589.7,123.93 589.75,123.1 590.2,122.93 590.65,123.55 591.1,124.58 591.55,127.91 592,125.93 592.2,123.12 592.45,143.04 592.5,146 592.9,144.98 593.35,144.8 593.7,148.65 593.8,147.82 594.25,156.69 594.7,163.69 595.1,167.79 595.15,167.62 595.6,169.48 596.05,170.79 596.5,173.17 596.95,170.85 597.1,173.57 597.4,175.14 597.85,177.89 598.3,177.07 598.75,177.66 599.2,178.25 599.65,178.84 600,179.3 600.1,179.3 600.55,179.3 601,179.3 601.45,179.3 601.9,179.3 602.35,179.3 602.8,179.3 603.25,179.3 603.7,179.3 604.15,179.3 604.6,179.3 605.05,179.3 605.5,179.3 605.95,179.3 606.4,179.3 606.85,179.3 607.3,179.3 607.75,179.3 608.2,179.3 608.65,179.3 609.1,179.3 609.55,179.3 610,179.3 610.45,179.3 610.9,179.3 611.35,179.3 611.8,179.3 612.25,179.3 612.7,179.3 613.15,179.3 613.6,179.3 614.05,179.3 614.5,179.3 614.95,179.3 615.4,179.3 615.85,179.3 616.3,179.3 616.75,179.3 617.2,179.3 617.65,179.3 618.1,179.3 618.55,179.3 619,179.3 619.45,179.3 619.9,179.3 620.35,179.3 620.8,179.3 621.25,179.3 621.7,179.3 622.15,179.3 622.6,179.3 623.05,179.3 623.5,179.3 623.95,179.3 624.4,179.3 624.85,179.3 625.3,179.3 625.75,179.3 626.2,179.3 626.65,179.3 627.1,179.3 627.55,179.3 628,179.3 628.45,179.3 628.9,179.3 629.35,179.3 629.8,179.3 630.25,179.3 630.7,179.3 631.15,179.3 631.6,179.3 632.05,179.3 632.5,179.3 632.95,179.3 633.4,179.3 633.85,179.3 634.3,179.3 634.75,179.3 635.2,179.3 635.65,179.3 636.1,179.3 636.55,179.3 637,179.3 637.45,179.3 637.9,179.3 638.35,179.3 638.8,179.3 639.25,179.3 639.7,179.3 640.15,179.3 640.6,179.3 641,179.3" fill="none" stroke="#ff4b3e" stroke-width="1.6" stroke-linejoin="round"/>
<polygon points="442.5,188.9 442.95,188.9 443.4,188.9 443.85,188.9 444.3,188.9 444.75,188.9 445.2,188.9 445.65,188.9 446.1,188.9 446.55,188.9 447,188.9 447.45,188.9 447.9,188.9 448.35,188.9 448.8,188.9 449.25,188.9 449.7,188.9 450.15,188.9 450.6,188.9 451.05,188.9 451.5,188.9 451.95,188.9 452.4,188.9 452.85,188.9 453.3,188.9 453.75,188.9 454.2,188.9 454.65,188.9 455.1,188.9 455.55,188.9 456,188.9 456.45,188.9 456.9,188.9 457.35,188.9 457.8,188.9 458.25,188.9 458.7,188.9 459.15,188.9 459.6,188.9 460.05,188.9 460.5,188.9 460.95,188.9 461.4,188.9 461.85,188.9 462.3,188.9 462.75,188.9 463.2,188.9 463.65,188.9 464.1,188.9 464.55,188.9 465,188.9 465.45,188.9 465.9,188.9 466.35,188.9 466.8,188.53 467.25,188.9 467.7,188.9 468.15,188.19 468.6,188.27 469.05,188.21 469.5,188.88 469.95,188.08 470.4,188.9 470.85,188.9 471.3,188.9 471.75,188.9 472.2,188.9 472.65,188.9 473.1,188.72 473.55,188.9 474,188.9 474.45,188.63 474.9,188.46 475.35,187.99 475.8,188.23 476,188.86 476.25,188.9 476.7,188.79 477.15,188.9 477.6,188.9 478.05,188.34 478.5,188.19 478.95,188.9 479.4,187.87 479.85,187.59 480.3,188.9 480.75,188.03 481.2,187.46 481.65,188.9 482.1,188.9 482.55,188.42 483,188.9 483.45,188.71 483.9,188.81 484.35,188.9 484.8,188.57 485.25,187.81 485.7,188.9 486.15,188.9 486.6,187.6 487.05,188.9 487.5,188.25 487.95,188.78 488.4,188.6 488.85,188.9 489.3,188.56 489.75,188.73 490.2,188.76 490.65,188.9 491.1,186.84 491.55,188.9 492,186.27 492.45,188.81 492.9,188.9 493.35,188.02 493.8,188.2 494.25,186.79 494.7,187.5 495.15,188.9 495.6,188.89 496.05,188.74 496.5,188.9 496.95,188.08 497.4,188.5 497.85,188.9 498.3,187.97 498.75,188.9 499.2,188.7 499.65,188.76 500,187.76 500.1,188.5 500.55,188.02 501,188.1 501.45,186.64 501.9,187.17 502.35,187.75 502.8,187.9 503,187.31 503.25,186.26 503.7,182.85 504,180.25 504.15,180.81 504.6,183.09 505.05,186.13 505.5,185.97 505.5,188.35 505.95,188.38 506.4,186.66 506.85,188.1 507.3,188.72 507.75,188.18 508.2,188.24 508.65,188.06 509.1,185.2 509.55,188.43 510,186.19 510.45,188.9 510.9,186.88 511.35,188.9 511.8,188.51 512.25,187.86 512.7,184.78 513.15,187.97 513.6,188.18 514.05,187.88 514.5,186.2 514.95,188 515.4,187.01 515.85,188.9 516.3,187.18 516.75,185.65 517.2,186.18 517.65,188.9 518.1,186.99 518.55,188.69 519,188.15 519.45,188.9 519.9,187.89 520,187.02 520.35,187.41 520.8,185.9 521.25,188.9 521.7,186.56 522.15,186.34 522.6,188.9 523.05,188.09 523.5,184.13 523.95,188.58 524.4,187.63 524.85,188.1 525.3,188.74 525.75,187.21 526.2,187.88 526.65,185.53 527.1,187.13 527.55,186.82 528,186.68 528.45,184.96 528.9,187.36 529.35,186.07 529.8,184.94 530.25,185.19 530.7,187.4 531.15,188.23 531.6,186.65 532,187.36 532.05,183.59 532.5,188.43 532.95,186.85 533.4,183.87 533.85,187.53 534.3,186.03 534.75,182.44 535.2,184.78 535.65,184.52 536.1,186.4 536.55,185.37 537,186.47 537.45,183.01 537.9,186.55 538.35,185.77 538.8,186.36 539.25,183.91 539.7,186.59 540.15,184.47 540.6,186.04 541,184.29 541.05,183.02 541.5,185.79 541.95,184.83 542.4,182.36 542.85,184.33 543.3,181.31 543.75,181.26 544.2,183.25 544.65,179.88 545.1,178.85 545.55,177.65 546,181.98 546.45,181.18 546.9,177.96 547.35,175.18 547.8,177.46 548.25,177.27 548.7,178.06 549.15,178.1 549.6,176.66 550,178.06 550.05,176.38 550.5,177.22 550.95,175.33 551.4,176.58 551.85,173.69 552.3,175.14 552.75,172.73 553.2,166.79 553.65,172.81 554.1,166.66 554.55,167.66 555,167.89 555.45,165.64 555.9,167.59 556.35,167.6 556.8,166.26 557,167.62 557.25,163.04 557.7,165.55 558.15,163.95 558.6,162.1 559.05,159.09 559.5,160.91 559.95,159.18 560.4,156.46 560.85,158.57 561.3,158.12 561.75,156.42 562.2,155.57 562.65,153.48 563.1,148.76 563.55,150.85 564,150.21 564.45,149.07 564.5,151.11 564.9,150.48 565.35,151.83 565.8,147.61 566.25,150.47 566.7,149.94 567.15,152.02 567.6,152.71 568,155.24 568.05,153.47 568.5,149.66 568.95,150.85 569.4,153.96 569.85,152.79 570.3,150.68 570.75,150.3 571.2,150.78 571.65,149.93 571.9,151.38 572.1,151.02 572.55,153.74 573,152.61 573.45,154.34 573.9,153.61 574.35,152.37 574.8,158.51 574.9,156.6 575.25,159.75 575.7,159.02 576.15,162.09 576.6,164.46 577.05,165.6 577.3,164.58 577.5,163.82 577.95,167.24 578.4,166.17 578.85,170.78 579.3,170.07 579.75,166.59 580.2,170.94 580.65,173.63 580.8,167.29 581.1,172.39 581.55,167.97 582,165.45 582.45,167.76 582.9,163.45 583.35,165.11 583.8,162.7 583.8,163.02 584.25,166.02 584.7,159.11 585.15,163.14 585.6,160.39 586.05,163.28 586.2,162.55 586.5,163.74 586.95,161.97 587.4,164.54 587.85,171.86 588,171.24 588.3,175.14 588.7,182 588.75,182.43 589.2,186.31 589.5,188.9 589.65,188.9 590.1,188.9 590.55,188.9 591,188.9 591.45,188.9 591.9,188.9 592.35,188.9 592.8,188.9 593.25,188.9 593.7,188.9 594.15,188.9 594.6,188.9 595.05,188.9 595.5,188.9 595.95,188.9 596.4,188.9 596.85,188.9 597.3,188.9 597.75,188.9 598.2,188.9 598.65,188.9 599.1,188.9 599.55,188.9 600,188.9 600.45,188.9 600.9,188.9 601.35,188.9 601.8,188.9 602.25,188.9 602.7,188.9 603.15,188.9 603.6,188.9 604.05,188.9 604.5,188.9 604.95,188.9 605.4,188.9 605.85,188.9 606.3,188.9 606.75,188.9 607.2,188.9 607.65,188.9 608.1,188.9 608.55,188.9 609,188.9 609.45,188.9 609.9,188.9 610.35,188.9 610.8,188.9 611.25,188.9 611.7,188.9 612.15,188.9 612.6,188.9 613.05,188.9 613.5,188.9 613.95,188.9 614.4,188.9 614.85,188.9 615.3,188.9 615.75,188.9 616.2,188.9 616.65,188.9 617.1,188.9 617.55,188.9 618,188.9 618.45,188.9 618.9,188.9 619.35,188.9 619.8,188.9 620.25,188.9 620.7,188.9 621.15,188.9 621.6,188.9 622.05,188.9 622.5,188.9 622.95,188.9 623.4,188.9 623.85,188.9 624.3,188.9 624.75,188.9 625.2,188.9 625.65,188.9 626.1,188.9 626.5,188.9 626.5,188.9 442.5,188.9" fill="rgba(25,198,245,0.36)" stroke="none"/>
<polyline points="442.5,188.9 442.95,188.9 443.4,188.9 443.85,188.9 444.3,188.9 444.75,188.9 445.2,188.9 445.65,188.9 446.1,188.9 446.55,188.9 447,188.9 447.45,188.9 447.9,188.9 448.35,188.9 448.8,188.9 449.25,188.9 449.7,188.9 450.15,188.9 450.6,188.9 451.05,188.9 451.5,188.9 451.95,188.9 452.4,188.9 452.85,188.9 453.3,188.9 453.75,188.9 454.2,188.9 454.65,188.9 455.1,188.9 455.55,188.9 456,188.9 456.45,188.9 456.9,188.9 457.35,188.9 457.8,188.9 458.25,188.9 458.7,188.9 459.15,188.9 459.6,188.9 460.05,188.9 460.5,188.9 460.95,188.9 461.4,188.9 461.85,188.9 462.3,188.9 462.75,188.9 463.2,188.9 463.65,188.9 464.1,188.9 464.55,188.9 465,188.9 465.45,188.9 465.9,188.9 466.35,188.9 466.8,188.53 467.25,188.9 467.7,188.9 468.15,188.19 468.6,188.27 469.05,188.21 469.5,188.88 469.95,188.08 470.4,188.9 470.85,188.9 471.3,188.9 471.75,188.9 472.2,188.9 472.65,188.9 473.1,188.72 473.55,188.9 474,188.9 474.45,188.63 474.9,188.46 475.35,187.99 475.8,188.23 476,188.86 476.25,188.9 476.7,188.79 477.15,188.9 477.6,188.9 478.05,188.34 478.5,188.19 478.95,188.9 479.4,187.87 479.85,187.59 480.3,188.9 480.75,188.03 481.2,187.46 481.65,188.9 482.1,188.9 482.55,188.42 483,188.9 483.45,188.71 483.9,188.81 484.35,188.9 484.8,188.57 485.25,187.81 485.7,188.9 486.15,188.9 486.6,187.6 487.05,188.9 487.5,188.25 487.95,188.78 488.4,188.6 488.85,188.9 489.3,188.56 489.75,188.73 490.2,188.76 490.65,188.9 491.1,186.84 491.55,188.9 492,186.27 492.45,188.81 492.9,188.9 493.35,188.02 493.8,188.2 494.25,186.79 494.7,187.5 495.15,188.9 495.6,188.89 496.05,188.74 496.5,188.9 496.95,188.08 497.4,188.5 497.85,188.9 498.3,187.97 498.75,188.9 499.2,188.7 499.65,188.76 500,187.76 500.1,188.5 500.55,188.02 501,188.1 501.45,186.64 501.9,187.17 502.35,187.75 502.8,187.9 503,187.31 503.25,186.26 503.7,182.85 504,180.25 504.15,180.81 504.6,183.09 505.05,186.13 505.5,185.97 505.5,188.35 505.95,188.38 506.4,186.66 506.85,188.1 507.3,188.72 507.75,188.18 508.2,188.24 508.65,188.06 509.1,185.2 509.55,188.43 510,186.19 510.45,188.9 510.9,186.88 511.35,188.9 511.8,188.51 512.25,187.86 512.7,184.78 513.15,187.97 513.6,188.18 514.05,187.88 514.5,186.2 514.95,188 515.4,187.01 515.85,188.9 516.3,187.18 516.75,185.65 517.2,186.18 517.65,188.9 518.1,186.99 518.55,188.69 519,188.15 519.45,188.9 519.9,187.89 520,187.02 520.35,187.41 520.8,185.9 521.25,188.9 521.7,186.56 522.15,186.34 522.6,188.9 523.05,188.09 523.5,184.13 523.95,188.58 524.4,187.63 524.85,188.1 525.3,188.74 525.75,187.21 526.2,187.88 526.65,185.53 527.1,187.13 527.55,186.82 528,186.68 528.45,184.96 528.9,187.36 529.35,186.07 529.8,184.94 530.25,185.19 530.7,187.4 531.15,188.23 531.6,186.65 532,187.36 532.05,183.59 532.5,188.43 532.95,186.85 533.4,183.87 533.85,187.53 534.3,186.03 534.75,182.44 535.2,184.78 535.65,184.52 536.1,186.4 536.55,185.37 537,186.47 537.45,183.01 537.9,186.55 538.35,185.77 538.8,186.36 539.25,183.91 539.7,186.59 540.15,184.47 540.6,186.04 541,184.29 541.05,183.02 541.5,185.79 541.95,184.83 542.4,182.36 542.85,184.33 543.3,181.31 543.75,181.26 544.2,183.25 544.65,179.88 545.1,178.85 545.55,177.65 546,181.98 546.45,181.18 546.9,177.96 547.35,175.18 547.8,177.46 548.25,177.27 548.7,178.06 549.15,178.1 549.6,176.66 550,178.06 550.05,176.38 550.5,177.22 550.95,175.33 551.4,176.58 551.85,173.69 552.3,175.14 552.75,172.73 553.2,166.79 553.65,172.81 554.1,166.66 554.55,167.66 555,167.89 555.45,165.64 555.9,167.59 556.35,167.6 556.8,166.26 557,167.62 557.25,163.04 557.7,165.55 558.15,163.95 558.6,162.1 559.05,159.09 559.5,160.91 559.95,159.18 560.4,156.46 560.85,158.57 561.3,158.12 561.75,156.42 562.2,155.57 562.65,153.48 563.1,148.76 563.55,150.85 564,150.21 564.45,149.07 564.5,151.11 564.9,150.48 565.35,151.83 565.8,147.61 566.25,150.47 566.7,149.94 567.15,152.02 567.6,152.71 568,155.24 568.05,153.47 568.5,149.66 568.95,150.85 569.4,153.96 569.85,152.79 570.3,150.68 570.75,150.3 571.2,150.78 571.65,149.93 571.9,151.38 572.1,151.02 572.55,153.74 573,152.61 573.45,154.34 573.9,153.61 574.35,152.37 574.8,158.51 574.9,156.6 575.25,159.75 575.7,159.02 576.15,162.09 576.6,164.46 577.05,165.6 577.3,164.58 577.5,163.82 577.95,167.24 578.4,166.17 578.85,170.78 579.3,170.07 579.75,166.59 580.2,170.94 580.65,173.63 580.8,167.29 581.1,172.39 581.55,167.97 582,165.45 582.45,167.76 582.9,163.45 583.35,165.11 583.8,162.7 583.8,163.02 584.25,166.02 584.7,159.11 585.15,163.14 585.6,160.39 586.05,163.28 586.2,162.55 586.5,163.74 586.95,161.97 587.4,164.54 587.85,171.86 588,171.24 588.3,175.14 588.7,182 588.75,182.43 589.2,186.31 589.5,188.9 589.65,188.9 590.1,188.9 590.55,188.9 591,188.9 591.45,188.9 591.9,188.9 592.35,188.9 592.8,188.9 593.25,188.9 593.7,188.9 594.15,188.9 594.6,188.9 595.05,188.9 595.5,188.9 595.95,188.9 596.4,188.9 596.85,188.9 597.3,188.9 597.75,188.9 598.2,188.9 598.65,188.9 599.1,188.9 599.55,188.9 600,188.9 600.45,188.9 600.9,188.9 601.35,188.9 601.8,188.9 602.25,188.9 602.7,188.9 603.15,188.9 603.6,188.9 604.05,188.9 604.5,188.9 604.95,188.9 605.4,188.9 605.85,188.9 606.3,188.9 606.75,188.9 607.2,188.9 607.65,188.9 608.1,188.9 608.55,188.9 609,188.9 609.45,188.9 609.9,188.9 610.35,188.9 610.8,188.9 611.25,188.9 611.7,188.9 612.15,188.9 612.6,188.9 613.05,188.9 613.5,188.9 613.95,188.9 614.4,188.9 614.85,188.9 615.3,188.9 615.75,188.9 616.2,188.9 616.65,188.9 617.1,188.9 617.55,188.9 618,188.9 618.45,188.9 618.9,188.9 619.35,188.9 619.8,188.9 620.25,188.9 620.7,188.9 621.15,188.9 621.6,188.9 622.05,188.9 622.5,188.9 622.95,188.9 623.4,188.9 623.85,188.9 624.3,188.9 624.75,188.9 625.2,188.9 625.65,188.9 626.1,188.9 626.5,188.9" fill="none" stroke="#0ecdfb" stroke-width="1.6" stroke-linejoin="round"/>
<polygon points="428,198.3 428.45,198.3 428.9,198.3 429.35,198.3 429.8,198.3 430.25,198.3 430.7,198.3 431.15,198.3 431.6,198.3 432.05,198.3 432.5,198.3 432.95,198.3 433.4,198.3 433.85,198.3 434.3,198.3 434.75,198.3 435.2,198.3 435.65,198.3 436.1,198.3 436.55,198.3 437,198.3 437.45,198.3 437.9,198.3 438.35,198.3 438.8,198.3 439.25,198.3 439.7,198.3 440.15,198.3 440.6,198.3 441.05,198.3 441.5,198.3 441.95,198.3 442.4,198.3 442.85,198.3 443.3,198.3 443.75,198.3 444.2,198.3 444.65,198.3 445.1,198.3 445.55,198.3 446,198.3 446.45,198.3 446.9,198.3 447.35,198.3 447.8,198.3 448.25,198.3 448.7,198.3 449.15,198.3 449.6,198.3 450.05,198.3 450.5,198.3 450.95,198.3 451.4,198.3 451.85,198.3 452.3,198.3 452.75,198.3 453.2,198.3 453.65,198.3 454.1,198.3 454.55,198.3 455,198.3 455.45,198.3 455.9,198.3 456.35,198.3 456.8,198.3 457.25,198.3 457.7,198.3 458.15,198.3 458.6,198.3 459.05,198.3 459.5,198.3 459.95,198.3 460.4,198.3 460.85,198.3 461.3,198.3 461.75,198.3 462.2,198.3 462.65,198.3 463.1,198.3 463.55,198.3 464,198.3 464.45,198.3 464.9,198.3 465.35,198.3 465.8,198.3 466.25,198.3 466.7,198.3 467.15,198.3 467.6,198.3 468.05,198.3 468.5,198.3 468.95,198.3 469.4,198.3 469.85,198.3 470.3,198.3 470.75,198.3 471.2,198.3 471.65,198.3 472.1,198.3 472.55,198.3 473,198.3 473.45,198.3 473.9,198.3 474.35,198.3 474.8,198.3 475.25,198.3 475.7,198.3 476.15,198.3 476.6,198.3 477.05,198.3 477.5,198.3 477.95,198.3 478.4,198.3 478.85,198.3 479.3,198.3 479.75,198.3 480,198.3 480.2,198.3 480.65,198.29 481.1,198.29 481.55,198.29 482,198.28 482.45,198.28 482.9,198.28 483.35,198.27 483.8,198.27 484.25,198.27 484.7,198.26 485.15,198.3 485.6,198.3 486.05,198.2 486.5,197.84 486.95,198.3 487.4,198.26 487.85,198.3 488.3,198.12 488.75,197.46 489.2,197.98 489.65,198.3 490.1,198 490.55,198.3 491,198 491.45,198.24 491.9,197.6 492.35,198.3 492.8,197.41 493.25,197.59 493.7,197.86 494.15,198.3 494.6,198.18 495.05,198.3 495.5,197.65 495.95,198.3 496.4,198.24 496.85,198.3 497.3,197.9 497.75,198.3 498.2,198.11 498.65,198.01 499.1,198.06 499.55,198.15 500,197.5 500.45,198.3 500.9,198.18 501.35,197.47 501.8,198.3 502.25,198.3 502.7,198.3 503.15,198.3 503.6,197.83 504.05,198.26 504.5,198.3 504.95,198.3 505.4,198.3 505.85,197.94 506.3,197.99 506.75,198.3 507.2,198.3 507.65,197.51 508.1,198.3 508.55,198.3 509,197.95 509.45,198.3 509.9,197.78 510.35,197.19 510.8,198.07 511.25,198.3 511.7,197.89 512.15,198.3 512.6,198.19 513.05,197.99 513.5,198.3 513.95,198.3 514.4,197.92 514.85,197.05 515.3,196.4 515.75,197.79 516.2,198.3 516.65,197.15 517.1,197.69 517.55,198.3 518,197.05 518.45,198.17 518.9,197.52 519.35,198.3 519.8,198.3 520.25,197.82 520.7,198.27 521.15,198.3 521.6,198.02 522.05,198.08 522.5,197.31 522.95,197.9 523.4,198.03 523.85,197.26 524.3,198.3 524.75,198.3 525.2,198.08 525.65,197.8 526.1,198.12 526.55,198.3 527,197.69 527.45,197.82 527.9,197.7 528.35,197.38 528.8,198.3 529.25,197.81 529.7,197.25 530,197.43 530.15,195.96 530.6,197.69 531.05,197.09 531.5,198.2 531.95,198.29 532.4,196.78 532.85,197.49 533.3,195.95 533.75,197.51 534.2,198.09 534.65,196.57 535.1,197.66 535.55,196.69 536,196.69 536.45,197.65 536.9,197.68 537.35,197.58 537.8,196.07 538.25,196.72 538.7,196.79 539.15,196.58 539.6,197.58 540.05,197.19 540.5,195.05 540.95,196.11 541,196.14 541.4,196.02 541.85,196.08 542.3,195.66 542.75,196.28 543.2,195.85 543.65,196.68 544.1,194.37 544.55,196.48 545,196.39 545.45,194.93 545.9,196.24 546.35,196.31 546.8,196 547.25,195.41 547.7,194.59 548.15,195.51 548.6,195.93 549.05,194.81 549.5,194.86 549.95,196.21 550,195.37 550.4,195.3 550.85,193.28 551.3,195.65 551.75,194.34 552.2,194.95 552.65,194.8 553.1,194.16 553.55,193.93 554,194.35 554.45,194.01 554.9,193.76 555.35,193.38 555.8,193.45 556,192.82 556.25,192.28 556.7,191.22 557.15,192.13 557.6,191.73 558.05,190.27 558.5,190.71 558.95,189.81 559.4,188.87 559.85,187.92 560,187.95 560.3,188.03 560.75,185.74 561.2,184.6 561.65,182.23 562,180.68 562.1,182.73 562.55,181.53 563,180.33 563.45,179.13 563.5,179 563.9,172.75 564.35,165.71 564.8,158.68 565.25,151.64 565.4,149.3 565.7,140.39 566.15,127.03 566.4,119.6 566.6,116.35 567.05,109.02 567.5,101.7 567.5,101.7 567.95,90.85 568.4,80 568.4,80 568.85,71.82 569.3,63.64 569.5,60 569.75,56.63 570.2,50.55 570.3,49.2 570.65,53.4 571.1,58.8 571.2,60 571.55,65.83 572,73.33 572.4,80 572.45,81.81 572.9,98.08 573,101.7 573.35,108.66 573.8,117.61 573.9,119.6 574.25,124.55 574.7,130.91 575.15,137.28 575.3,139.4 575.6,150 575.6,150 576.05,168.64 576.3,179 576.5,182.71 576.95,191.07 577,192 577.4,193.57 577.85,195.34 578.3,197.11 578.4,197.5 578.75,197.67 579.2,197.9 579.65,198.12 580,198.3 580.1,198.3 580.55,198.3 581,198.3 581.45,198.3 581.9,198.3 582.35,198.3 582.8,198.3 583.25,198.3 583.7,198.3 584.15,198.3 584.6,198.3 585.05,198.3 585.5,198.3 585.95,198.3 586.4,198.3 586.85,198.3 587.3,198.3 587.75,198.3 588.2,198.3 588.65,198.3 589.1,198.3 589.55,198.3 590,198.3 590.45,198.3 590.9,198.3 591.35,198.3 591.8,198.3 592.25,198.3 592.7,198.3 593.15,198.3 593.6,198.3 594.05,198.3 594.5,198.3 594.95,198.3 595.4,198.3 595.85,198.3 596.3,198.3 596.75,198.3 597.2,198.3 597.65,198.3 598.1,198.3 598.55,198.3 599,198.3 599.45,198.3 599.9,198.3 600.35,198.3 600.8,198.3 601.25,198.3 601.7,198.3 602.15,198.3 602.6,198.3 603.05,198.3 603.5,198.3 603.95,198.3 604.4,198.3 604.85,198.3 605.3,198.3 605.75,198.3 606.2,198.3 606.65,198.3 607.1,198.3 607.55,198.3 608,198.3 608.45,198.3 608.9,198.3 609.35,198.3 609.8,198.3 610.25,198.3 610.7,198.3 611.15,198.3 611.6,198.3 612,198.3 612,198.3 428,198.3" fill="rgba(255,160,70,0.36)" stroke="none"/>
<polyline points="428,198.3 428.45,198.3 428.9,198.3 429.35,198.3 429.8,198.3 430.25,198.3 430.7,198.3 431.15,198.3 431.6,198.3 432.05,198.3 432.5,198.3 432.95,198.3 433.4,198.3 433.85,198.3 434.3,198.3 434.75,198.3 435.2,198.3 435.65,198.3 436.1,198.3 436.55,198.3 437,198.3 437.45,198.3 437.9,198.3 438.35,198.3 438.8,198.3 439.25,198.3 439.7,198.3 440.15,198.3 440.6,198.3 441.05,198.3 441.5,198.3 441.95,198.3 442.4,198.3 442.85,198.3 443.3,198.3 443.75,198.3 444.2,198.3 444.65,198.3 445.1,198.3 445.55,198.3 446,198.3 446.45,198.3 446.9,198.3 447.35,198.3 447.8,198.3 448.25,198.3 448.7,198.3 449.15,198.3 449.6,198.3 450.05,198.3 450.5,198.3 450.95,198.3 451.4,198.3 451.85,198.3 452.3,198.3 452.75,198.3 453.2,198.3 453.65,198.3 454.1,198.3 454.55,198.3 455,198.3 455.45,198.3 455.9,198.3 456.35,198.3 456.8,198.3 457.25,198.3 457.7,198.3 458.15,198.3 458.6,198.3 459.05,198.3 459.5,198.3 459.95,198.3 460.4,198.3 460.85,198.3 461.3,198.3 461.75,198.3 462.2,198.3 462.65,198.3 463.1,198.3 463.55,198.3 464,198.3 464.45,198.3 464.9,198.3 465.35,198.3 465.8,198.3 466.25,198.3 466.7,198.3 467.15,198.3 467.6,198.3 468.05,198.3 468.5,198.3 468.95,198.3 469.4,198.3 469.85,198.3 470.3,198.3 470.75,198.3 471.2,198.3 471.65,198.3 472.1,198.3 472.55,198.3 473,198.3 473.45,198.3 473.9,198.3 474.35,198.3 474.8,198.3 475.25,198.3 475.7,198.3 476.15,198.3 476.6,198.3 477.05,198.3 477.5,198.3 477.95,198.3 478.4,198.3 478.85,198.3 479.3,198.3 479.75,198.3 480,198.3 480.2,198.3 480.65,198.29 481.1,198.29 481.55,198.29 482,198.28 482.45,198.28 482.9,198.28 483.35,198.27 483.8,198.27 484.25,198.27 484.7,198.26 485.15,198.3 485.6,198.3 486.05,198.2 486.5,197.84 486.95,198.3 487.4,198.26 487.85,198.3 488.3,198.12 488.75,197.46 489.2,197.98 489.65,198.3 490.1,198 490.55,198.3 491,198 491.45,198.24 491.9,197.6 492.35,198.3 492.8,197.41 493.25,197.59 493.7,197.86 494.15,198.3 494.6,198.18 495.05,198.3 495.5,197.65 495.95,198.3 496.4,198.24 496.85,198.3 497.3,197.9 497.75,198.3 498.2,198.11 498.65,198.01 499.1,198.06 499.55,198.15 500,197.5 500.45,198.3 500.9,198.18 501.35,197.47 501.8,198.3 502.25,198.3 502.7,198.3 503.15,198.3 503.6,197.83 504.05,198.26 504.5,198.3 504.95,198.3 505.4,198.3 505.85,197.94 506.3,197.99 506.75,198.3 507.2,198.3 507.65,197.51 508.1,198.3 508.55,198.3 509,197.95 509.45,198.3 509.9,197.78 510.35,197.19 510.8,198.07 511.25,198.3 511.7,197.89 512.15,198.3 512.6,198.19 513.05,197.99 513.5,198.3 513.95,198.3 514.4,197.92 514.85,197.05 515.3,196.4 515.75,197.79 516.2,198.3 516.65,197.15 517.1,197.69 517.55,198.3 518,197.05 518.45,198.17 518.9,197.52 519.35,198.3 519.8,198.3 520.25,197.82 520.7,198.27 521.15,198.3 521.6,198.02 522.05,198.08 522.5,197.31 522.95,197.9 523.4,198.03 523.85,197.26 524.3,198.3 524.75,198.3 525.2,198.08 525.65,197.8 526.1,198.12 526.55,198.3 527,197.69 527.45,197.82 527.9,197.7 528.35,197.38 528.8,198.3 529.25,197.81 529.7,197.25 530,197.43 530.15,195.96 530.6,197.69 531.05,197.09 531.5,198.2 531.95,198.29 532.4,196.78 532.85,197.49 533.3,195.95 533.75,197.51 534.2,198.09 534.65,196.57 535.1,197.66 535.55,196.69 536,196.69 536.45,197.65 536.9,197.68 537.35,197.58 537.8,196.07 538.25,196.72 538.7,196.79 539.15,196.58 539.6,197.58 540.05,197.19 540.5,195.05 540.95,196.11 541,196.14 541.4,196.02 541.85,196.08 542.3,195.66 542.75,196.28 543.2,195.85 543.65,196.68 544.1,194.37 544.55,196.48 545,196.39 545.45,194.93 545.9,196.24 546.35,196.31 546.8,196 547.25,195.41 547.7,194.59 548.15,195.51 548.6,195.93 549.05,194.81 549.5,194.86 549.95,196.21 550,195.37 550.4,195.3 550.85,193.28 551.3,195.65 551.75,194.34 552.2,194.95 552.65,194.8 553.1,194.16 553.55,193.93 554,194.35 554.45,194.01 554.9,193.76 555.35,193.38 555.8,193.45 556,192.82 556.25,192.28 556.7,191.22 557.15,192.13 557.6,191.73 558.05,190.27 558.5,190.71 558.95,189.81 559.4,188.87 559.85,187.92 560,187.95 560.3,188.03 560.75,185.74 561.2,184.6 561.65,182.23 562,180.68 562.1,182.73 562.55,181.53 563,180.33 563.45,179.13 563.5,179 563.9,172.75 564.35,165.71 564.8,158.68 565.25,151.64 565.4,149.3 565.7,140.39 566.15,127.03 566.4,119.6 566.6,116.35 567.05,109.02 567.5,101.7 567.5,101.7 567.95,90.85 568.4,80 568.4,80 568.85,71.82 569.3,63.64 569.5,60 569.75,56.63 570.2,50.55 570.3,49.2 570.65,53.4 571.1,58.8 571.2,60 571.55,65.83 572,73.33 572.4,80 572.45,81.81 572.9,98.08 573,101.7 573.35,108.66 573.8,117.61 573.9,119.6 574.25,124.55 574.7,130.91 575.15,137.28 575.3,139.4 575.6,150 575.6,150 576.05,168.64 576.3,179 576.5,182.71 576.95,191.07 577,192 577.4,193.57 577.85,195.34 578.3,197.11 578.4,197.5 578.75,197.67 579.2,197.9 579.65,198.12 580,198.3 580.1,198.3 580.55,198.3 581,198.3 581.45,198.3 581.9,198.3 582.35,198.3 582.8,198.3 583.25,198.3 583.7,198.3 584.15,198.3 584.6,198.3 585.05,198.3 585.5,198.3 585.95,198.3 586.4,198.3 586.85,198.3 587.3,198.3 587.75,198.3 588.2,198.3 588.65,198.3 589.1,198.3 589.55,198.3 590,198.3 590.45,198.3 590.9,198.3 591.35,198.3 591.8,198.3 592.25,198.3 592.7,198.3 593.15,198.3 593.6,198.3 594.05,198.3 594.5,198.3 594.95,198.3 595.4,198.3 595.85,198.3 596.3,198.3 596.75,198.3 597.2,198.3 597.65,198.3 598.1,198.3 598.55,198.3 599,198.3 599.45,198.3 599.9,198.3 600.35,198.3 600.8,198.3 601.25,198.3 601.7,198.3 602.15,198.3 602.6,198.3 603.05,198.3 603.5,198.3 603.95,198.3 604.4,198.3 604.85,198.3 605.3,198.3 605.75,198.3 606.2,198.3 606.65,198.3 607.1,198.3 607.55,198.3 608,198.3 608.45,198.3 608.9,198.3 609.35,198.3 609.8,198.3 610.25,198.3 610.7,198.3 611.15,198.3 611.6,198.3 612,198.3" fill="none" stroke="#ffa24a" stroke-width="1.6" stroke-linejoin="round"/>
<polygon points="413.5,208 413.95,208 414.4,208 414.85,208 415.3,208 415.75,208 416.2,208 416.65,208 417.1,208 417.55,208 418,208 418.45,208 418.9,208 419.35,208 419.8,208 420.25,208 420.7,208 421.15,208 421.6,208 422.05,208 422.5,208 422.95,208 423.4,208 423.85,208 424.3,208 424.75,208 425.2,208 425.65,208 426.1,208 426.55,208 427,208 427.45,208 427.9,208 428.35,208 428.8,208 429.25,208 429.7,208 430.15,208 430.6,208 431.05,208 431.5,208 431.95,208 432.4,208 432.85,208 433.3,208 433.75,208 434.2,208 434.65,208 435.1,208 435.55,208 436,208 436.45,208 436.9,208 437.35,208 437.8,208 438.25,208 438.7,208 439.15,208 439.6,208 440.05,208 440.5,208 440.95,208 441.4,208 441.85,208 442.3,208 442.75,208 443.2,208 443.65,208 444.1,208 444.55,208 445,208 445.45,208 445.9,208 446.35,208 446.8,208 447.25,208 447.7,208 448.15,208 448.6,208 449.05,208 449.5,208 449.95,208 450.4,208 450.85,208 451.3,208 451.75,208 452.2,208 452.65,208 453.1,208 453.55,208 454,208 454.45,208 454.9,208 455.35,208 455.8,208 456.25,208 456.7,208 457.15,208 457.6,208 458.05,208 458.5,208 458.95,208 459.4,208 459.85,208 460.3,208 460.75,208 461.2,208 461.65,208 462.1,208 462.55,208 463,208 463.45,208 463.9,208 464.35,208 464.8,208 465.25,208 465.7,208 466.15,208 466.6,208 467.05,208 467.5,208 467.95,208 468.4,208 468.85,208 469.3,208 469.75,208 470.2,208 470.65,208 471.1,208 471.55,208 472,208 472.45,208 472.9,208 473.35,208 473.8,208 474.25,208 474.7,208 475.15,208 475.6,208 476.05,208 476.5,208 476.95,208 477.4,208 477.85,208 478.3,208 478.75,208 479.2,208 479.65,208 480.1,208 480.55,208 481,208 481.45,208 481.9,208 482.35,208 482.8,208 483.25,208 483.7,208 484.15,208 484.6,208 485.05,208 485.5,208 485.95,208 486.4,208 486.85,208 487.3,208 487.75,208 488.2,208 488.65,208 489.1,208 489.55,208 490,208 490.45,208 490.9,208 491.35,208 491.8,208 492.25,208 492.7,208 493.15,208 493.6,208 494.05,208 494.5,208 494.95,208 495.4,208 495.85,208 496.3,208 496.75,208 497,206.97 497.2,208 497.65,208 498.1,207.95 498.55,207.63 499,207.22 499.45,208 499.9,208 500.35,207.49 500.8,208 501.25,208 501.7,207.3 502.15,207.59 502.6,208 503.05,207.08 503.5,208 503.95,207.49 504.4,207.91 504.85,208 505.3,208 505.75,207.63 506.2,208 506.65,206.34 507.1,207.17 507.55,208 508,207.29 508.45,208 508.9,206.39 509.35,208 509.8,207.41 510.25,208 510.7,207.44 511.15,207.11 511.6,207.54 512.05,207.42 512.5,206.2 512.95,207.1 513.4,206.56 513.85,208 514.3,208 514.75,206.93 515.2,208 515.65,205.34 516.1,207.81 516.55,207.72 517,208 517.45,208 517.9,208 518.35,207.01 518.8,207.71 519.25,207.11 519.7,207.66 520,207.37 520.15,208 520.6,208 521.05,206.55 521.5,208 521.95,208 522.4,207.75 522.85,207.69 523.3,205.59 523.75,206.94 524.2,206.85 524.65,206.24 525.1,206.92 525.55,206.86 526,205.25 526.45,206.67 526.9,205.34 527.35,206.75 527.8,206.38 528.25,205.38 528.7,206.21 529.15,207.25 529.6,207.39 530,205.11 530.05,206.77 530.5,207.1 530.95,205.64 531.4,204.75 531.85,204.17 532.3,206.35 532.75,206.22 533.2,205.09 533.65,205.16 534.1,202.59 534.55,205.78 535,204.03 535.45,205.41 535.9,205.65 536.35,205.27 536.8,204.78 537,204.52 537.25,202.72 537.7,200.63 538.15,204 538.6,203.98 539.05,201.35 539.5,199.9 539.95,203.05 540.4,204 540.85,202.45 541,202.75 541.3,200.63 541.75,200.91 542.2,200.91 542.65,201.05 543.1,201.6 543.55,200.86 544,197.94 544,198.75 544.45,195 544.9,195.32 545.35,193.88 545.8,192 545.8,192 546.25,188.82 546.7,185.65 547.15,182.47 547.5,180 547.6,179.24 548.05,175.79 548.5,172.35 548.95,168.91 549.2,167 549.4,164.04 549.85,157.39 550.3,150.74 550.75,144.09 551.2,137.43 551.5,133 551.65,130.7 552.1,123.8 552.55,116.9 553,110 553,110 553.45,104.38 553.9,98.77 554.35,93.15 554.8,87.54 555.25,81.92 555.5,78.8 555.7,72 555.7,72 556.15,67.5 556.6,63 556.9,60 557.05,54.73 557.5,38.93 557.7,31.9 557.95,45.95 558.2,60 558.4,69.4 558.6,78.8 558.85,91.12 559.3,113.29 559.7,133 559.75,134.13 560.2,144.33 560.65,154.53 561.1,164.73 561.2,167 561.55,172.47 562,179.5 562.45,186.53 562.8,192 562.9,192.83 563.35,196.58 563.8,200.33 564,202 564.25,203.5 564.7,206.2 565,208 565.15,208 565.6,208 566.05,208 566.5,208 566.95,208 567.4,208 567.85,208 568.3,208 568.75,208 569.2,208 569.65,208 570.1,208 570.55,208 571,208 571.45,208 571.9,208 572.35,208 572.8,208 573.25,208 573.7,208 574.15,208 574.6,208 575.05,208 575.5,208 575.95,208 576.4,208 576.85,208 577.3,208 577.75,208 578.2,208 578.65,208 579.1,208 579.55,208 580,208 580.45,208 580.9,208 581.35,208 581.8,208 582.25,208 582.7,208 583.15,208 583.6,208 584.05,208 584.5,208 584.95,208 585.4,208 585.85,208 586.3,208 586.75,208 587.2,208 587.65,208 588.1,208 588.55,208 589,208 589.45,208 589.9,208 590.35,208 590.8,208 591.25,208 591.7,208 592.15,208 592.6,208 593.05,208 593.5,208 593.95,208 594.4,208 594.85,208 595.3,208 595.75,208 596.2,208 596.65,208 597.1,208 597.5,208 597.5,208 413.5,208" fill="rgba(110,226,70,0.32)" stroke="none"/>
<polyline points="413.5,208 413.95,208 414.4,208 414.85,208 415.3,208 415.75,208 416.2,208 416.65,208 417.1,208 417.55,208 418,208 418.45,208 418.9,208 419.35,208 419.8,208 420.25,208 420.7,208 421.15,208 421.6,208 422.05,208 422.5,208 422.95,208 423.4,208 423.85,208 424.3,208 424.75,208 425.2,208 425.65,208 426.1,208 426.55,208 427,208 427.45,208 427.9,208 428.35,208 428.8,208 429.25,208 429.7,208 430.15,208 430.6,208 431.05,208 431.5,208 431.95,208 432.4,208 432.85,208 433.3,208 433.75,208 434.2,208 434.65,208 435.1,208 435.55,208 436,208 436.45,208 436.9,208 437.35,208 437.8,208 438.25,208 438.7,208 439.15,208 439.6,208 440.05,208 440.5,208 440.95,208 441.4,208 441.85,208 442.3,208 442.75,208 443.2,208 443.65,208 444.1,208 444.55,208 445,208 445.45,208 445.9,208 446.35,208 446.8,208 447.25,208 447.7,208 448.15,208 448.6,208 449.05,208 449.5,208 449.95,208 450.4,208 450.85,208 451.3,208 451.75,208 452.2,208 452.65,208 453.1,208 453.55,208 454,208 454.45,208 454.9,208 455.35,208 455.8,208 456.25,208 456.7,208 457.15,208 457.6,208 458.05,208 458.5,208 458.95,208 459.4,208 459.85,208 460.3,208 460.75,208 461.2,208 461.65,208 462.1,208 462.55,208 463,208 463.45,208 463.9,208 464.35,208 464.8,208 465.25,208 465.7,208 466.15,208 466.6,208 467.05,208 467.5,208 467.95,208 468.4,208 468.85,208 469.3,208 469.75,208 470.2,208 470.65,208 471.1,208 471.55,208 472,208 472.45,208 472.9,208 473.35,208 473.8,208 474.25,208 474.7,208 475.15,208 475.6,208 476.05,208 476.5,208 476.95,208 477.4,208 477.85,208 478.3,208 478.75,208 479.2,208 479.65,208 480.1,208 480.55,208 481,208 481.45,208 481.9,208 482.35,208 482.8,208 483.25,208 483.7,208 484.15,208 484.6,208 485.05,208 485.5,208 485.95,208 486.4,208 486.85,208 487.3,208 487.75,208 488.2,208 488.65,208 489.1,208 489.55,208 490,208 490.45,208 490.9,208 491.35,208 491.8,208 492.25,208 492.7,208 493.15,208 493.6,208 494.05,208 494.5,208 494.95,208 495.4,208 495.85,208 496.3,208 496.75,208 497,206.97 497.2,208 497.65,208 498.1,207.95 498.55,207.63 499,207.22 499.45,208 499.9,208 500.35,207.49 500.8,208 501.25,208 501.7,207.3 502.15,207.59 502.6,208 503.05,207.08 503.5,208 503.95,207.49 504.4,207.91 504.85,208 505.3,208 505.75,207.63 506.2,208 506.65,206.34 507.1,207.17 507.55,208 508,207.29 508.45,208 508.9,206.39 509.35,208 509.8,207.41 510.25,208 510.7,207.44 511.15,207.11 511.6,207.54 512.05,207.42 512.5,206.2 512.95,207.1 513.4,206.56 513.85,208 514.3,208 514.75,206.93 515.2,208 515.65,205.34 516.1,207.81 516.55,207.72 517,208 517.45,208 517.9,208 518.35,207.01 518.8,207.71 519.25,207.11 519.7,207.66 520,207.37 520.15,208 520.6,208 521.05,206.55 521.5,208 521.95,208 522.4,207.75 522.85,207.69 523.3,205.59 523.75,206.94 524.2,206.85 524.65,206.24 525.1,206.92 525.55,206.86 526,205.25 526.45,206.67 526.9,205.34 527.35,206.75 527.8,206.38 528.25,205.38 528.7,206.21 529.15,207.25 529.6,207.39 530,205.11 530.05,206.77 530.5,207.1 530.95,205.64 531.4,204.75 531.85,204.17 532.3,206.35 532.75,206.22 533.2,205.09 533.65,205.16 534.1,202.59 534.55,205.78 535,204.03 535.45,205.41 535.9,205.65 536.35,205.27 536.8,204.78 537,204.52 537.25,202.72 537.7,200.63 538.15,204 538.6,203.98 539.05,201.35 539.5,199.9 539.95,203.05 540.4,204 540.85,202.45 541,202.75 541.3,200.63 541.75,200.91 542.2,200.91 542.65,201.05 543.1,201.6 543.55,200.86 544,197.94 544,198.75 544.45,195 544.9,195.32 545.35,193.88 545.8,192 545.8,192 546.25,188.82 546.7,185.65 547.15,182.47 547.5,180 547.6,179.24 548.05,175.79 548.5,172.35 548.95,168.91 549.2,167 549.4,164.04 549.85,157.39 550.3,150.74 550.75,144.09 551.2,137.43 551.5,133 551.65,130.7 552.1,123.8 552.55,116.9 553,110 553,110 553.45,104.38 553.9,98.77 554.35,93.15 554.8,87.54 555.25,81.92 555.5,78.8 555.7,72 555.7,72 556.15,67.5 556.6,63 556.9,60 557.05,54.73 557.5,38.93 557.7,31.9 557.95,45.95 558.2,60 558.4,69.4 558.6,78.8 558.85,91.12 559.3,113.29 559.7,133 559.75,134.13 560.2,144.33 560.65,154.53 561.1,164.73 561.2,167 561.55,172.47 562,179.5 562.45,186.53 562.8,192 562.9,192.83 563.35,196.58 563.8,200.33 564,202 564.25,203.5 564.7,206.2 565,208 565.15,208 565.6,208 566.05,208 566.5,208 566.95,208 567.4,208 567.85,208 568.3,208 568.75,208 569.2,208 569.65,208 570.1,208 570.55,208 571,208 571.45,208 571.9,208 572.35,208 572.8,208 573.25,208 573.7,208 574.15,208 574.6,208 575.05,208 575.5,208 575.95,208 576.4,208 576.85,208 577.3,208 577.75,208 578.2,208 578.65,208 579.1,208 579.55,208 580,208 580.45,208 580.9,208 581.35,208 581.8,208 582.25,208 582.7,208 583.15,208 583.6,208 584.05,208 584.5,208 584.95,208 585.4,208 585.85,208 586.3,208 586.75,208 587.2,208 587.65,208 588.1,208 588.55,208 589,208 589.45,208 589.9,208 590.35,208 590.8,208 591.25,208 591.7,208 592.15,208 592.6,208 593.05,208 593.5,208 593.95,208 594.4,208 594.85,208 595.3,208 595.75,208 596.2,208 596.65,208 597.1,208 597.5,208" fill="none" stroke="#6ae33e" stroke-width="1.6" stroke-linejoin="round"/>
<path d="M416.74 208.6L416.74 211.4M418.68 208.6L418.68 211.4M420.89 208.6L420.89 211.4M423.43 208.6L423.43 211.4M426.44 208.6L426.44 211.4M430.12 208.6L430.12 211.4M434.87 208.6L434.87 211.4M441.56 208.6L441.56 211.4M454.74 208.6L454.74 211.4M456.68 208.6L456.68 211.4M458.89 208.6L458.89 211.4M461.43 208.6L461.43 211.4M464.44 208.6L464.44 211.4M468.12 208.6L468.12 211.4M472.87 208.6L472.87 211.4M479.56 208.6L479.56 211.4M502.44 208.6L502.44 211.4M509.13 208.6L509.13 211.4M513.88 208.6L513.88 211.4M517.56 208.6L517.56 211.4M520.57 208.6L520.57 211.4M523.11 208.6L523.11 211.4M525.32 208.6L525.32 211.4M527.26 208.6L527.26 211.4M540.44 208.6L540.44 211.4M547.13 208.6L547.13 211.4M551.88 208.6L551.88 211.4M555.56 208.6L555.56 211.4M558.57 208.6L558.57 211.4M561.11 208.6L561.11 211.4M563.32 208.6L563.32 211.4M565.26 208.6L565.26 211.4M578.44 208.6L578.44 211.4M585.13 208.6L585.13 211.4M589.88 208.6L589.88 211.4M593.56 208.6L593.56 211.4M596.57 208.6L596.57 211.4" stroke="#000" stroke-width="0.9" fill="none"/>
<path d="M415 208.6L415 213.2M453 208.6L453 213.2M529 208.6L529 213.2M567 208.6L567 213.2M414 208.6L414 213.2" stroke="#000" stroke-width="1.4" fill="none"/>
<rect x="485.4" y="208.6" width="11.2" height="4.2" fill="#000"/>
<rect x="488.5" y="211.2" width="1.1" height="1.6" fill="#fff"/><rect x="492.6" y="211.2" width="1.1" height="1.6" fill="#fff"/>
<text x="417.3" y="223.5" font-size="7.2" fill="#383838" font-weight="bold"><tspan font-size="5.9" dy="-0.4">&#8722;</tspan><tspan dx="0.5" dy="0.4">10</tspan><tspan dx="0.6" dy="-3.6" font-size="6.48">5</tspan></text>
<text x="451.8" y="223.5" font-size="7.2" fill="#383838" font-weight="bold"><tspan font-size="5.9" dy="-0.4">&#8722;</tspan><tspan dx="0.5" dy="0.4">10</tspan><tspan dx="0.6" dy="-3.6" font-size="6.48">4</tspan></text>
<text x="492.4" y="223.5" font-size="7.2" fill="#383838" font-weight="bold">0<tspan dx="0.6" dy="-3.6" font-size="6.48"></tspan></text>
<text x="528" y="223.5" font-size="7.2" fill="#383838" font-weight="bold">10<tspan dx="0.6" dy="-3.6" font-size="6.48">4</tspan></text>
<text x="566.5" y="223.5" font-size="7.2" fill="#383838" font-weight="bold">10<tspan dx="0.6" dy="-3.6" font-size="6.48">5</tspan></text>
<text x="491.6" y="239.9" font-size="8.4" fill="#4a4a4a" font-weight="bold">CD133</text>
<text x="616.2" y="169" font-size="9.9" fill="#111"><tspan dy="0">WT</tspan></text>
<text x="0" y="0" font-size="9.9" fill="#111" transform="translate(604.5 182.7) scale(0.97 1)"><tspan dy="0">P2X7</tspan><tspan dy="-3.9" font-size="7.92">KD</tspan><tspan dy="3.9"> rec. SAA1</tspan></text>
<text x="0" y="0" font-size="9.9" fill="#111" transform="translate(593.8 196.9) scale(0.96 1)"><tspan dy="0">FPR2</tspan><tspan dy="-3.9" font-size="7.92">KD</tspan><tspan dy="3.9"> rec. SAA1</tspan></text>
<text x="0" y="0" font-size="9.9" fill="#111" transform="translate(578.4 208.9) scale(0.96 1)"><tspan dy="0">WT rec. SAA1</tspan></text>
<polygon points="74.4,729 258.4,729 301,699 117,699" fill="#fbfbfb"/>
<path d="M145.5 729L188.1 699M146.4 729L189 699M147.3 729L189.9 699M148.2 729L190.8 699M149.1 729L191.7 699M150 729L192.6 699M150.9 729L193.5 699M151 729L193.6 699M151 729L193.6 699M151.8 729L194.4 699M152.7 729L195.3 699M153.6 729L196.2 699M154.5 729L197.1 699M155.4 729L198 699M156.3 729L198.9 699" stroke="#6e6e6e" stroke-width="0.55" fill="none"/>
<path d="M76.74 729L119.34 699M78.68 729L121.28 699M80.89 729L123.49 699M83.43 729L126.03 699M86.44 729L129.04 699M90.12 729L132.72 699M94.87 729L137.47 699M101.56 729L144.16 699M114.74 729L157.34 699M116.68 729L159.28 699M118.89 729L161.49 699M121.43 729L164.03 699M124.44 729L167.04 699M128.12 729L170.72 699M132.87 729L175.47 699M139.56 729L182.16 699M162.44 729L205.04 699M169.13 729L211.73 699M173.88 729L216.48 699M177.56 729L220.16 699M180.57 729L223.17 699M183.11 729L225.71 699M185.32 729L227.92 699M187.26 729L229.86 699M200.44 729L243.04 699M207.13 729L249.73 699M211.88 729L254.48 699M215.56 729L258.16 699M218.57 729L261.17 699M221.11 729L263.71 699M223.32 729L265.92 699M225.26 729L267.86 699M238.44 729L281.04 699M245.13 729L287.73 699M249.88 729L292.48 699M253.56 729L296.16 699M256.57 729L299.17 699" stroke="#a8a8a8" stroke-width="0.6" fill="none"/>
<path d="M75 729L117.6 699M113 729L155.6 699M189 729L231.6 699M227 729L269.6 699" stroke="#5a5a5a" stroke-width="0.8" fill="none"/>
<polygon points="145.8,729 156.2,729 198.8,699 188.4,699" fill="#8c8c8c" fill-opacity="0.45"/>
<line x1="74.4" y1="729" x2="117" y2="699" stroke="#777" stroke-width="0.7"/>
<polygon points="117,699 117.45,699 117.9,699 118.35,699 118.8,699 119.25,699 119.7,699 120.15,699 120.6,699 121.05,699 121.5,699 121.95,699 122.4,699 122.85,699 123.3,699 123.75,699 124.2,699 124.65,699 125.1,699 125.55,699 126,699 126.45,699 126.9,699 127.35,699 127.8,699 128.25,699 128.7,699 129.15,699 129.6,699 130.05,699 130.5,699 130.95,699 131.4,699 131.85,699 132.3,699 132.75,699 133.2,699 133.65,699 134.1,699 134.55,699 135,699 135.45,699 135.9,699 136.35,699 136.8,699 137.25,699 137.7,699 138.15,699 138.6,699 139.05,699 139.5,699 139.95,699 140.4,699 140.85,699 141.3,699 141.75,699 142.2,699 142.65,699 143.1,699 143.55,699 144,699 144.45,699 144.9,699 145.35,699 145.8,699 146.25,699 146.7,699 147.15,699 147.6,699 148.05,699 148.5,699 148.95,699 149.4,699 149.85,699 150.3,699 150.75,699 151.2,699 151.65,699 152.1,699 152.55,699 153,699 153.45,699 153.9,699 154.35,699 154.8,699 155.25,699 155.7,699 156.15,699 156.6,699 157.05,699 157.5,699 157.95,699 158.4,699 158.85,699 159,699 159.3,698.76 159.75,698.77 160.2,699 160.65,699 161.1,699 161.55,698.53 162,698.38 162.45,698.64 162.9,698.13 163.35,699 163.8,699 164.25,697.41 164.7,698.9 165.15,698.63 165.6,699 166.05,698.1 166.5,699 166.95,698.62 167.4,699 167.85,697.15 168.3,698.33 168.75,697.94 169.2,698.4 169.65,699 170,697.6 170.1,698.07 170.55,699 171,697.38 171.45,699 171.9,698.99 172.35,698.83 172.8,696.54 173.25,699 173.7,698.81 174.15,699 174.6,699 175.05,698.14 175.5,698.3 175.95,698.25 176.4,699 176.85,699 177.3,698.37 177.75,697.62 178.2,696.64 178.65,698.35 179.1,696.61 179.55,697.81 180,697.68 180,697.56 180.45,698.7 180.9,698.29 181.35,697.25 181.8,697.09 182.25,697.38 182.7,696.4 183.15,698.86 183.6,697.77 184.05,697.37 184.5,698.22 184.95,696.51 185.4,697.97 185.85,698.52 186.3,696.12 186.75,698.45 187.2,696.29 187.65,697.96 188.1,697.29 188.55,698.55 189,697.19 189.45,695.85 189.9,698.1 190,697.29 190.35,695.75 190.8,697.57 191.25,696.45 191.7,697.85 192.15,695.38 192.6,693.92 193.05,696.13 193.5,695.98 193.95,693.06 194.4,697.3 194.85,694.91 195.3,698.3 195.75,698.04 196.2,695.32 196.65,697.02 197.1,697.4 197.55,693.97 198,697.49 198.45,697.31 198.9,697.82 199.35,695.83 199.8,696.23 200,697.11 200.25,693.96 200.7,694.23 201.15,692.77 201.6,697.72 202.05,692.23 202.5,694.69 202.95,697.07 203.4,692.5 203.85,695.01 204.3,696.27 204.75,691.62 205.2,691.89 205.65,696.8 206,693.59 206.1,693.84 206.55,692.84 207,690.5 207.45,694.31 207.9,692.39 208.35,692.51 208.8,689.02 209,691.36 209.25,692.7 209.7,694.51 210.15,692.42 210.6,688.8 211.05,690.95 211.5,691.93 211.95,686.14 212.4,692.02 212.8,691.01 212.85,687.53 213.3,686.66 213.75,689.22 214.2,686.95 214.65,687.13 215.1,687.68 215.55,685.06 216,685.77 216.45,680.35 216.9,681.05 217,677.49 217.35,682.23 217.8,681.46 218.25,681.39 218.7,676.93 219.15,681.38 219.6,679.67 220.05,679.71 220.5,678.04 220.95,677.99 221,674.56 221.4,675.26 221.85,675.05 222.3,673.99 222.75,676.69 223.2,673.47 223.65,676.71 223.8,675.37 224.1,672.73 224.55,673.53 225,669.39 225.45,668.66 225.9,668.3 226.35,662 226.7,666.38 226.8,665.08 227.25,661.74 227.7,663.82 228.15,663.54 228.6,663.84 229.05,663.62 229.5,662.02 229.6,660.4 229.95,657.63 230.4,658.89 230.85,653.03 231.1,653.93 231.3,652.73 231.75,645.01 232.2,650.3 232.65,647.26 233.1,645.74 233.55,641.41 234,638.72 234.4,638.92 234.45,638.25 234.9,641.6 235.35,644.12 235.8,644.68 236.25,643.72 236.7,641.83 236.9,645.73 237.15,642.66 237.6,648.48 238.05,647.18 238.5,648.8 238.95,648 239,651.8 239.4,650.16 239.85,652.12 240.3,650.59 240.75,653.57 241.2,647.48 241.3,650.75 241.65,653.95 242.1,658.23 242.55,660.44 243,663.2 243.45,662.53 243.9,670.06 244.2,672.28 244.35,669.1 244.8,675.08 245.25,677.14 245.7,674.96 245.7,677.99 246.15,675.72 246.6,676.93 247.05,679.39 247.5,672.35 247.95,677.78 248,670.75 248.4,679.75 248.85,678.69 249.3,677.82 249.75,673.49 250,681.9 250.2,675.76 250.65,676.24 251.1,678.72 251.55,678.21 252,676.59 252,677.92 252.45,678.91 252.9,675.63 253.35,679.88 253.8,679.08 254.25,677.98 254.5,677.91 254.7,681.37 255.15,679.84 255.6,680.56 256.05,675.72 256.5,676.91 256.95,679.72 257,678.5 257.4,679.11 257.85,684.68 258.3,683.68 258.75,683.45 258.8,688.28 259.2,689.22 259.65,687.48 260.1,694.5 260.55,696.4 261,698.3 261,698.3 261.45,698.51 261.9,698.72 262.35,698.93 262.5,699 262.8,699 263.25,699 263.7,699 264.15,699 264.6,699 265.05,699 265.5,699 265.95,699 266.4,699 266.85,699 267.3,699 267.75,699 268.2,699 268.65,699 269.1,699 269.55,699 270,699 270.45,699 270.9,699 271.35,699 271.8,699 272.25,699 272.7,699 273.15,699 273.6,699 274.05,699 274.5,699 274.95,699 275.4,699 275.85,699 276.3,699 276.75,699 277.2,699 277.65,699 278.1,699 278.55,699 279,699 279.45,699 279.9,699 280.35,699 280.8,699 281.25,699 281.7,699 282.15,699 282.6,699 283.05,699 283.5,699 283.95,699 284.4,699 284.85,699 285.3,699 285.75,699 286.2,699 286.65,699 287.1,699 287.55,699 288,699 288.45,699 288.9,699 289.35,699 289.8,699 290.25,699 290.7,699 291.15,699 291.6,699 292.05,699 292.5,699 292.95,699 293.4,699 293.85,699 294.3,699 294.75,699 295.2,699 295.65,699 296.1,699 296.55,699 297,699 297.45,699 297.9,699 298.35,699 298.8,699 299.25,699 299.7,699 300.15,699 300.6,699 301,699 301,699 117,699" fill="rgba(255,80,80,0.40)" stroke="none"/>
<polyline points="117,699 117.45,699 117.9,699 118.35,699 118.8,699 119.25,699 119.7,699 120.15,699 120.6,699 121.05,699 121.5,699 121.95,699 122.4,699 122.85,699 123.3,699 123.75,699 124.2,699 124.65,699 125.1,699 125.55,699 126,699 126.45,699 126.9,699 127.35,699 127.8,699 128.25,699 128.7,699 129.15,699 129.6,699 130.05,699 130.5,699 130.95,699 131.4,699 131.85,699 132.3,699 132.75,699 133.2,699 133.65,699 134.1,699 134.55,699 135,699 135.45,699 135.9,699 136.35,699 136.8,699 137.25,699 137.7,699 138.15,699 138.6,699 139.05,699 139.5,699 139.95,699 140.4,699 140.85,699 141.3,699 141.75,699 142.2,699 142.65,699 143.1,699 143.55,699 144,699 144.45,699 144.9,699 145.35,699 145.8,699 146.25,699 146.7,699 147.15,699 147.6,699 148.05,699 148.5,699 148.95,699 149.4,699 149.85,699 150.3,699 150.75,699 151.2,699 151.65,699 152.1,699 152.55,699 153,699 153.45,699 153.9,699 154.35,699 154.8,699 155.25,699 155.7,699 156.15,699 156.6,699 157.05,699 157.5,699 157.95,699 158.4,699 158.85,699 159,699 159.3,698.76 159.75,698.77 160.2,699 160.65,699 161.1,699 161.55,698.53 162,698.38 162.45,698.64 162.9,698.13 163.35,699 163.8,699 164.25,697.41 164.7,698.9 165.15,698.63 165.6,699 166.05,698.1 166.5,699 166.95,698.62 167.4,699 167.85,697.15 168.3,698.33 168.75,697.94 169.2,698.4 169.65,699 170,697.6 170.1,698.07 170.55,699 171,697.38 171.45,699 171.9,698.99 172.35,698.83 172.8,696.54 173.25,699 173.7,698.81 174.15,699 174.6,699 175.05,698.14 175.5,698.3 175.95,698.25 176.4,699 176.85,699 177.3,698.37 177.75,697.62 178.2,696.64 178.65,698.35 179.1,696.61 179.55,697.81 180,697.68 180,697.56 180.45,698.7 180.9,698.29 181.35,697.25 181.8,697.09 182.25,697.38 182.7,696.4 183.15,698.86 183.6,697.77 184.05,697.37 184.5,698.22 184.95,696.51 185.4,697.97 185.85,698.52 186.3,696.12 186.75,698.45 187.2,696.29 187.65,697.96 188.1,697.29 188.55,698.55 189,697.19 189.45,695.85 189.9,698.1 190,697.29 190.35,695.75 190.8,697.57 191.25,696.45 191.7,697.85 192.15,695.38 192.6,693.92 193.05,696.13 193.5,695.98 193.95,693.06 194.4,697.3 194.85,694.91 195.3,698.3 195.75,698.04 196.2,695.32 196.65,697.02 197.1,697.4 197.55,693.97 198,697.49 198.45,697.31 198.9,697.82 199.35,695.83 199.8,696.23 200,697.11 200.25,693.96 200.7,694.23 201.15,692.77 201.6,697.72 202.05,692.23 202.5,694.69 202.95,697.07 203.4,692.5 203.85,695.01 204.3,696.27 204.75,691.62 205.2,691.89 205.65,696.8 206,693.59 206.1,693.84 206.55,692.84 207,690.5 207.45,694.31 207.9,692.39 208.35,692.51 208.8,689.02 209,691.36 209.25,692.7 209.7,694.51 210.15,692.42 210.6,688.8 211.05,690.95 211.5,691.93 211.95,686.14 212.4,692.02 212.8,691.01 212.85,687.53 213.3,686.66 213.75,689.22 214.2,686.95 214.65,687.13 215.1,687.68 215.55,685.06 216,685.77 216.45,680.35 216.9,681.05 217,677.49 217.35,682.23 217.8,681.46 218.25,681.39 218.7,676.93 219.15,681.38 219.6,679.67 220.05,679.71 220.5,678.04 220.95,677.99 221,674.56 221.4,675.26 221.85,675.05 222.3,673.99 222.75,676.69 223.2,673.47 223.65,676.71 223.8,675.37 224.1,672.73 224.55,673.53 225,669.39 225.45,668.66 225.9,668.3 226.35,662 226.7,666.38 226.8,665.08 227.25,661.74 227.7,663.82 228.15,663.54 228.6,663.84 229.05,663.62 229.5,662.02 229.6,660.4 229.95,657.63 230.4,658.89 230.85,653.03 231.1,653.93 231.3,652.73 231.75,645.01 232.2,650.3 232.65,647.26 233.1,645.74 233.55,641.41 234,638.72 234.4,638.92 234.45,638.25 234.9,641.6 235.35,644.12 235.8,644.68 236.25,643.72 236.7,641.83 236.9,645.73 237.15,642.66 237.6,648.48 238.05,647.18 238.5,648.8 238.95,648 239,651.8 239.4,650.16 239.85,652.12 240.3,650.59 240.75,653.57 241.2,647.48 241.3,650.75 241.65,653.95 242.1,658.23 242.55,660.44 243,663.2 243.45,662.53 243.9,670.06 244.2,672.28 244.35,669.1 244.8,675.08 245.25,677.14 245.7,674.96 245.7,677.99 246.15,675.72 246.6,676.93 247.05,679.39 247.5,672.35 247.95,677.78 248,670.75 248.4,679.75 248.85,678.69 249.3,677.82 249.75,673.49 250,681.9 250.2,675.76 250.65,676.24 251.1,678.72 251.55,678.21 252,676.59 252,677.92 252.45,678.91 252.9,675.63 253.35,679.88 253.8,679.08 254.25,677.98 254.5,677.91 254.7,681.37 255.15,679.84 255.6,680.56 256.05,675.72 256.5,676.91 256.95,679.72 257,678.5 257.4,679.11 257.85,684.68 258.3,683.68 258.75,683.45 258.8,688.28 259.2,689.22 259.65,687.48 260.1,694.5 260.55,696.4 261,698.3 261,698.3 261.45,698.51 261.9,698.72 262.35,698.93 262.5,699 262.8,699 263.25,699 263.7,699 264.15,699 264.6,699 265.05,699 265.5,699 265.95,699 266.4,699 266.85,699 267.3,699 267.75,699 268.2,699 268.65,699 269.1,699 269.55,699 270,699 270.45,699 270.9,699 271.35,699 271.8,699 272.25,699 272.7,699 273.15,699 273.6,699 274.05,699 274.5,699 274.95,699 275.4,699 275.85,699 276.3,699 276.75,699 277.2,699 277.65,699 278.1,699 278.55,699 279,699 279.45,699 279.9,699 280.35,699 280.8,699 281.25,699 281.7,699 282.15,699 282.6,699 283.05,699 283.5,699 283.95,699 284.4,699 284.85,699 285.3,699 285.75,699 286.2,699 286.65,699 287.1,699 287.55,699 288,699 288.45,699 288.9,699 289.35,699 289.8,699 290.25,699 290.7,699 291.15,699 291.6,699 292.05,699 292.5,699 292.95,699 293.4,699 293.85,699 294.3,699 294.75,699 295.2,699 295.65,699 296.1,699 296.55,699 297,699 297.45,699 297.9,699 298.35,699 298.8,699 299.25,699 299.7,699 300.15,699 300.6,699 301,699" fill="none" stroke="#ff4b3e" stroke-width="1.6" stroke-linejoin="round"/>
<polygon points="96,714 96.45,714 96.9,714 97.35,714 97.8,714 98.25,714 98.7,714 99.15,714 99.6,714 100.05,714 100.5,714 100.95,714 101.4,714 101.85,714 102.3,714 102.75,714 103.2,714 103.65,714 104.1,714 104.55,714 105,714 105.45,714 105.9,714 106.35,714 106.8,714 107.25,714 107.7,714 108.15,714 108.6,714 109.05,714 109.5,714 109.95,714 110.4,714 110.85,714 111.3,714 111.75,714 112.2,714 112.65,714 113.1,714 113.55,714 114,714 114.45,714 114.9,714 115.35,714 115.8,714 116.25,714 116.7,714 117.15,714 117.6,714 118.05,714 118.5,714 118.95,714 119.4,714 119.85,714 120.3,714 120.75,714 121,714 121.2,714 121.65,714 122.1,713.59 122.55,713.57 123,714 123.45,713.67 123.9,713.69 124.35,714 124.8,714 125.25,714 125.7,713.51 126.15,713.61 126.6,714 127.05,714 127.5,713.65 127.95,713.77 128.4,713.9 128.85,713.99 129.3,713.85 129.75,713.26 130.2,714 130.65,714 131.1,714 131.55,714 132,713.69 132.45,713.98 132.9,713.91 133.35,713.83 133.8,713.8 134.25,713.68 134.7,713.36 135.15,712.77 135.6,714 136.05,714 136.5,713.37 136.95,713.98 137.4,714 137.85,713.61 138.3,713.02 138.75,713.9 139.2,714 139.65,714 140.1,714 140.55,713.13 141,713.76 141.45,713.17 141.9,713.86 142.35,714 142.8,713.55 143.25,714 143.7,712.96 144.15,714 144.6,714 145.05,713.59 145.5,713.44 145.95,713.15 146.4,713.57 146.85,713.92 147.3,713.48 147.75,713 148.2,714 148.65,713.33 149.1,713.41 149.55,714 150,713.29 150.45,712.32 150.9,714 151.35,713.62 151.8,713.71 152.25,713.8 152.7,712.66 153.15,713.67 153.6,714 154.05,713.57 154.5,713.69 154.95,712.64 155.4,712.63 155.85,712.13 156.3,713.95 156.75,714 157.2,712.86 157.65,714 158.1,714 158.55,713.18 159,713.67 159.45,713.57 159.9,713.29 160.35,714 160.8,712.92 161.25,714 161.7,713.29 162.15,713.64 162.6,713.81 163.05,713.15 163.5,712.56 163.95,711.99 164.4,713.94 164.85,713.32 165.3,713.79 165.75,713.12 166.2,712.26 166.65,712.69 167.1,713.47 167.55,712.96 168,712.69 168.45,713.05 168.9,714 169.35,713.02 169.8,712.73 170,713.34 170.25,712.82 170.7,712.69 171.15,713.57 171.6,713.67 172.05,714 172.5,713.75 172.95,714 173.4,713.32 173.85,713.64 174.3,711.96 174.75,714 175.2,713.72 175.65,712.8 176.1,712.88 176.55,713.54 177,713.48 177.45,712.96 177.9,711.75 178.35,713.08 178.8,713.47 179.25,713.54 179.7,712.27 180.15,712.14 180.6,712.44 181.05,712.83 181.5,711.53 181.95,712.16 182.4,712.11 182.85,711.46 183.3,712.43 183.75,713.5 184.2,711.68 184.65,713.1 185.1,710.55 185.55,712.92 186,713.19 186.45,713.54 186.9,713.26 187.35,712.97 187.8,711.14 188,711.34 188.25,712.55 188.7,708.66 189,708.29 189.15,708.87 189.6,711.01 190,713.55 190.05,712.19 190.5,711.96 190.95,711.1 191.4,713.42 191.85,712.19 192.3,711.06 192.75,711.33 193.2,711.6 193.65,712.96 194.1,710.05 194.55,711.87 195,712.35 195.45,711.78 195.9,712.63 196.35,713.08 196.8,711.86 197.25,711.67 197.7,712.59 198.15,712.16 198.6,712.21 199.05,711.36 199.5,712.52 199.95,713.1 200,712.55 200.4,710.81 200.85,710.21 201.3,711.74 201.75,712.53 202.2,712.16 202.65,710.27 203.1,712.65 203.55,712.35 204,712.57 204.45,710.9 204.9,709.78 205.35,710.48 205.8,708.96 206.25,712.05 206.7,712.28 207.15,711.61 207.6,710.95 208.05,710.72 208.5,711.74 208.95,712.47 209.4,712.06 209.85,710.69 210,710.61 210.3,711.96 210.75,710.24 211.2,709.29 211.65,710.19 212.1,711.96 212.55,711.74 213,711.45 213.45,708.99 213.9,710.12 214.35,709.91 214.8,708.22 215.25,708.94 215.7,709.87 216.15,706.61 216.6,705.56 217.05,708.89 217.5,710.64 217.95,708.95 218.4,707.68 218.85,709.42 219.3,707.97 219.75,710.31 220,707.44 220.2,707.86 220.65,709.96 221.1,709.36 221.55,707.95 222,707.65 222.45,708.83 222.9,707.81 223.35,706.73 223.8,705.18 224.25,706.53 224.7,707.85 225.15,706.47 225.6,704.77 226,705.86 226.05,704.87 226.5,705.6 226.95,704.45 227.4,705.2 227.85,703.84 228.3,703.7 228.75,702.85 229.2,699.95 229.6,701.67 229.65,701.59 230.1,698.61 230.55,699.08 231,698.3 231.45,697.27 231.7,696.7 231.9,694.01 232.35,687.96 232.8,681.9 233.25,675.85 233.7,669.8 234.15,663.74 234.6,657.69 234.8,655 235.05,647.81 235.5,634.87 235.95,621.93 236.25,613.3 236.4,608.31 236.85,593.33 237.3,578.36 237.5,571.7 237.75,567.72 238.2,560.57 238.65,553.41 239.1,546.25 239.55,539.1 239.6,538.3 240,547.84 240.45,558.58 240.9,569.31 241,571.7 241.35,581.41 241.8,593.89 242.25,606.37 242.5,613.3 242.7,619.97 243.15,634.98 243.6,650 243.75,655 244.05,661.1 244.5,670.26 244.95,679.41 245.4,688.56 245.8,696.7 245.85,697.17 246.3,701.41 246.75,705.65 247,708 247.2,709.33 247.65,712.33 247.9,714 248.1,714 248.55,714 249,714 249.45,714 249.9,714 250.35,714 250.8,714 251.25,714 251.7,714 252.15,714 252.6,714 253.05,714 253.5,714 253.95,714 254.4,714 254.85,714 255.3,714 255.75,714 256.2,714 256.65,714 257.1,714 257.55,714 258,714 258.45,714 258.9,714 259.35,714 259.8,714 260.25,714 260.7,714 261.15,714 261.6,714 262.05,714 262.5,714 262.95,714 263.4,714 263.85,714 264.3,714 264.75,714 265.2,714 265.65,714 266.1,714 266.55,714 267,714 267.45,714 267.9,714 268.35,714 268.8,714 269.25,714 269.7,714 270.15,714 270.6,714 271.05,714 271.5,714 271.95,714 272.4,714 272.85,714 273.3,714 273.75,714 274.2,714 274.65,714 275.1,714 275.55,714 276,714 276.45,714 276.9,714 277.35,714 277.8,714 278.25,714 278.7,714 279.15,714 279.6,714 280,714 280,714 96,714" fill="rgba(25,198,245,0.36)" stroke="none"/>
<polyline points="96,714 96.45,714 96.9,714 97.35,714 97.8,714 98.25,714 98.7,714 99.15,714 99.6,714 100.05,714 100.5,714 100.95,714 101.4,714 101.85,714 102.3,714 102.75,714 103.2,714 103.65,714 104.1,714 104.55,714 105,714 105.45,714 105.9,714 106.35,714 106.8,714 107.25,714 107.7,714 108.15,714 108.6,714 109.05,714 109.5,714 109.95,714 110.4,714 110.85,714 111.3,714 111.75,714 112.2,714 112.65,714 113.1,714 113.55,714 114,714 114.45,714 114.9,714 115.35,714 115.8,714 116.25,714 116.7,714 117.15,714 117.6,714 118.05,714 118.5,714 118.95,714 119.4,714 119.85,714 120.3,714 120.75,714 121,714 121.2,714 121.65,714 122.1,713.59 122.55,713.57 123,714 123.45,713.67 123.9,713.69 124.35,714 124.8,714 125.25,714 125.7,713.51 126.15,713.61 126.6,714 127.05,714 127.5,713.65 127.95,713.77 128.4,713.9 128.85,713.99 129.3,713.85 129.75,713.26 130.2,714 130.65,714 131.1,714 131.55,714 132,713.69 132.45,713.98 132.9,713.91 133.35,713.83 133.8,713.8 134.25,713.68 134.7,713.36 135.15,712.77 135.6,714 136.05,714 136.5,713.37 136.95,713.98 137.4,714 137.85,713.61 138.3,713.02 138.75,713.9 139.2,714 139.65,714 140.1,714 140.55,713.13 141,713.76 141.45,713.17 141.9,713.86 142.35,714 142.8,713.55 143.25,714 143.7,712.96 144.15,714 144.6,714 145.05,713.59 145.5,713.44 145.95,713.15 146.4,713.57 146.85,713.92 147.3,713.48 147.75,713 148.2,714 148.65,713.33 149.1,713.41 149.55,714 150,713.29 150.45,712.32 150.9,714 151.35,713.62 151.8,713.71 152.25,713.8 152.7,712.66 153.15,713.67 153.6,714 154.05,713.57 154.5,713.69 154.95,712.64 155.4,712.63 155.85,712.13 156.3,713.95 156.75,714 157.2,712.86 157.65,714 158.1,714 158.55,713.18 159,713.67 159.45,713.57 159.9,713.29 160.35,714 160.8,712.92 161.25,714 161.7,713.29 162.15,713.64 162.6,713.81 163.05,713.15 163.5,712.56 163.95,711.99 164.4,713.94 164.85,713.32 165.3,713.79 165.75,713.12 166.2,712.26 166.65,712.69 167.1,713.47 167.55,712.96 168,712.69 168.45,713.05 168.9,714 169.35,713.02 169.8,712.73 170,713.34 170.25,712.82 170.7,712.69 171.15,713.57 171.6,713.67 172.05,714 172.5,713.75 172.95,714 173.4,713.32 173.85,713.64 174.3,711.96 174.75,714 175.2,713.72 175.65,712.8 176.1,712.88 176.55,713.54 177,713.48 177.45,712.96 177.9,711.75 178.35,713.08 178.8,713.47 179.25,713.54 179.7,712.27 180.15,712.14 180.6,712.44 181.05,712.83 181.5,711.53 181.95,712.16 182.4,712.11 182.85,711.46 183.3,712.43 183.75,713.5 184.2,711.68 184.65,713.1 185.1,710.55 185.55,712.92 186,713.19 186.45,713.54 186.9,713.26 187.35,712.97 187.8,711.14 188,711.34 188.25,712.55 188.7,708.66 189,708.29 189.15,708.87 189.6,711.01 190,713.55 190.05,712.19 190.5,711.96 190.95,711.1 191.4,713.42 191.85,712.19 192.3,711.06 192.75,711.33 193.2,711.6 193.65,712.96 194.1,710.05 194.55,711.87 195,712.35 195.45,711.78 195.9,712.63 196.35,713.08 196.8,711.86 197.25,711.67 197.7,712.59 198.15,712.16 198.6,712.21 199.05,711.36 199.5,712.52 199.95,713.1 200,712.55 200.4,710.81 200.85,710.21 201.3,711.74 201.75,712.53 202.2,712.16 202.65,710.27 203.1,712.65 203.55,712.35 204,712.57 204.45,710.9 204.9,709.78 205.35,710.48 205.8,708.96 206.25,712.05 206.7,712.28 207.15,711.61 207.6,710.95 208.05,710.72 208.5,711.74 208.95,712.47 209.4,712.06 209.85,710.69 210,710.61 210.3,711.96 210.75,710.24 211.2,709.29 211.65,710.19 212.1,711.96 212.55,711.74 213,711.45 213.45,708.99 213.9,710.12 214.35,709.91 214.8,708.22 215.25,708.94 215.7,709.87 216.15,706.61 216.6,705.56 217.05,708.89 217.5,710.64 217.95,708.95 218.4,707.68 218.85,709.42 219.3,707.97 219.75,710.31 220,707.44 220.2,707.86 220.65,709.96 221.1,709.36 221.55,707.95 222,707.65 222.45,708.83 222.9,707.81 223.35,706.73 223.8,705.18 224.25,706.53 224.7,707.85 225.15,706.47 225.6,704.77 226,705.86 226.05,704.87 226.5,705.6 226.95,704.45 227.4,705.2 227.85,703.84 228.3,703.7 228.75,702.85 229.2,699.95 229.6,701.67 229.65,701.59 230.1,698.61 230.55,699.08 231,698.3 231.45,697.27 231.7,696.7 231.9,694.01 232.35,687.96 232.8,681.9 233.25,675.85 233.7,669.8 234.15,663.74 234.6,657.69 234.8,655 235.05,647.81 235.5,634.87 235.95,621.93 236.25,613.3 236.4,608.31 236.85,593.33 237.3,578.36 237.5,571.7 237.75,567.72 238.2,560.57 238.65,553.41 239.1,546.25 239.55,539.1 239.6,538.3 240,547.84 240.45,558.58 240.9,569.31 241,571.7 241.35,581.41 241.8,593.89 242.25,606.37 242.5,613.3 242.7,619.97 243.15,634.98 243.6,650 243.75,655 244.05,661.1 244.5,670.26 244.95,679.41 245.4,688.56 245.8,696.7 245.85,697.17 246.3,701.41 246.75,705.65 247,708 247.2,709.33 247.65,712.33 247.9,714 248.1,714 248.55,714 249,714 249.45,714 249.9,714 250.35,714 250.8,714 251.25,714 251.7,714 252.15,714 252.6,714 253.05,714 253.5,714 253.95,714 254.4,714 254.85,714 255.3,714 255.75,714 256.2,714 256.65,714 257.1,714 257.55,714 258,714 258.45,714 258.9,714 259.35,714 259.8,714 260.25,714 260.7,714 261.15,714 261.6,714 262.05,714 262.5,714 262.95,714 263.4,714 263.85,714 264.3,714 264.75,714 265.2,714 265.65,714 266.1,714 266.55,714 267,714 267.45,714 267.9,714 268.35,714 268.8,714 269.25,714 269.7,714 270.15,714 270.6,714 271.05,714 271.5,714 271.95,714 272.4,714 272.85,714 273.3,714 273.75,714 274.2,714 274.65,714 275.1,714 275.55,714 276,714 276.45,714 276.9,714 277.35,714 277.8,714 278.25,714 278.7,714 279.15,714 279.6,714 280,714" fill="none" stroke="#0ecdfb" stroke-width="1.6" stroke-linejoin="round"/>
<polygon points="74.4,729 74.85,729 75.3,729 75.75,729 76.2,729 76.65,729 77.1,729 77.55,729 78,729 78.45,729 78.9,729 79.35,729 79.8,729 80.25,729 80.7,729 81.15,729 81.6,729 82.05,729 82.5,729 82.95,729 83.4,729 83.85,729 84.3,729 84.75,729 85.2,729 85.65,729 86.1,729 86.55,729 87,729 87.45,729 87.9,729 88.35,729 88.8,729 89.25,729 89.7,729 90.15,729 90.6,729 91.05,729 91.5,729 91.95,729 92.4,729 92.85,729 93.3,729 93.75,729 94.2,729 94.65,729 95.1,729 95.55,729 96,729 96.45,729 96.9,729 97.35,729 97.8,729 98.25,729 98.7,729 99.15,729 99.6,729 100.05,729 100.5,729 100.95,729 101.4,729 101.85,729 102.3,729 102.75,729 103.2,729 103.65,729 104.1,729 104.55,729 105,729 105.45,729 105.9,729 106.35,729 106.8,729 107.25,729 107.7,729 108.15,729 108.6,729 109.05,729 109.5,729 109.95,729 110.4,729 110.85,729 111.3,729 111.75,729 112.2,729 112.65,729 113,728.99 113.1,728.8 113.55,728.84 114,728.94 114.45,729 114.9,729 115.35,729 115.8,728.09 116.25,729 116.7,729 117.15,729 117.6,729 118.05,729 118.5,728.7 118.95,728.88 119.4,728.43 119.85,729 120.3,729 120.75,728.98 121.2,729 121.65,728.43 122.1,729 122.55,727.83 123,729 123.45,728.67 123.9,729 124.35,728.46 124.8,728.85 125.25,728.99 125.7,729 126.15,728.73 126.6,728.76 127.05,728.02 127.5,728.3 127.95,728.89 128.4,728.54 128.85,728.87 129.3,729 129.75,728.51 130.2,729 130.65,729 131.1,728.64 131.55,729 132,729 132.45,728.75 132.9,729 133.35,728.26 133.8,729 134.25,729 134.7,728.35 135.15,728.3 135.6,728.51 136.05,729 136.5,729 136.95,729 137.4,728.82 137.85,728.81 138.3,729 138.75,728.37 139.2,729 139.65,728.81 140.1,728.54 140.55,728.88 141,727.69 141.45,728.94 141.9,727.85 142.35,727.79 142.8,729 143.25,728.57 143.7,728.11 144.15,727.12 144.6,728.06 145.05,729 145.5,729 145.95,729 146.4,728.45 146.85,729 147.3,728.02 147.75,728.99 148.2,728.66 148.65,727.44 149.1,728.97 149.55,727.78 150,728.41 150.45,728.03 150.9,728.53 151.35,728.03 151.8,728.7 152.25,728.97 152.7,728.39 153.15,728.07 153.6,728.87 154.05,728.7 154.5,727.7 154.95,729 155.4,729 155.85,728.58 156.3,728.89 156.75,726.87 157.2,728.67 157.65,729 158.1,729 158.55,729 159,728.94 159.45,728.09 159.9,728.13 160,726.69 160.35,729 160.8,725.72 161.25,729 161.7,728.98 162.15,728.3 162.6,728.8 163.05,727.86 163.5,726.59 163.95,729 164.4,727.12 164.85,729 165.3,727.86 165.75,728.43 166.2,727.47 166.65,728.35 167.1,728.64 167.55,728.44 168,727.77 168.45,729 168.9,726.92 169.35,726.49 169.8,727.65 170.25,726.77 170.7,728.85 171.15,726.51 171.6,728.86 172.05,727.19 172.5,726.26 172.95,729 173.4,727.12 173.85,728.36 174.3,728.76 174.75,726.23 175,728.33 175.2,726.58 175.65,727.21 176.1,725.8 176.55,725.7 177,725.96 177.45,727.55 177.9,727.47 178.35,724.74 178.8,726.51 179.25,726.84 179.7,727.8 180.15,724.29 180.6,728.25 181.05,726.72 181.5,727.21 181.95,727.21 182.4,726.9 182.85,727.48 183.3,727.93 183.75,727.18 184.2,726.8 184.65,725.09 185,725.44 185.1,725.22 185.55,727.46 186,727.38 186.45,727.89 186.9,727.61 187.35,727.01 187.8,726.72 188.25,725.62 188.7,726.05 189.15,726.79 189.6,725.62 190.05,726.48 190.5,725.35 190.95,724.36 191.4,726.26 191.85,727.45 192.3,726.99 192.75,726.13 193.2,726.09 193.65,726.29 194.1,723.82 194.55,724.11 195,726.2 195,723.11 195.45,726.29 195.9,726.51 196.35,720.2 196.8,725.22 197.25,721.39 197.7,724.85 198.15,724.3 198.6,721.2 199.05,721.89 199.5,722.71 199.95,723.12 200,724.9 200.4,724.35 200.85,722.47 201.3,722.78 201.75,723.25 202.2,723.75 202.65,723.87 203.1,721.35 203.55,725.3 204,721.77 204.45,723.1 204.9,721.09 205,723.39 205.35,725.56 205.8,720.54 206.25,726.48 206.7,725.05 207.15,724.66 207.6,725.63 207.7,727.4 208.05,724.58 208.5,722.76 208.95,720.94 209.4,719.12 209.8,717.5 209.85,716.46 210.3,707.1 210.75,697.74 210.8,696.7 211.2,690.03 211.65,682.52 212.1,675.02 212.55,667.51 213,660 213.3,655 213.45,650.19 213.9,635.75 214.35,621.32 214.6,613.3 214.8,607.36 215.25,593.99 215.7,580.61 216,571.7 216.15,571 216.6,568.89 217.05,566.78 217.5,564.67 217.95,562.56 218.4,560.45 218.85,558.34 219.2,556.7 219.3,557.64 219.75,561.86 220.2,566.08 220.65,570.29 220.8,571.7 221.1,599.43 221.25,613.3 221.55,625.21 222,643.09 222.3,655 222.45,661.26 222.9,680.02 223.3,696.7 223.35,699.01 223.75,717.5 223.8,717.83 224.25,720.83 224.7,723.83 225.15,726.83 225.4,728.5 225.6,728.59 226.05,728.8 226.5,729 226.5,729 226.95,729 227.4,729 227.85,729 228.3,729 228.75,729 229.2,729 229.65,729 230.1,729 230.55,729 231,729 231.45,729 231.9,729 232.35,729 232.8,729 233.25,729 233.7,729 234.15,729 234.6,729 235.05,729 235.5,729 235.95,729 236.4,729 236.85,729 237.3,729 237.75,729 238.2,729 238.65,729 239.1,729 239.55,729 240,729 240.45,729 240.9,729 241.35,729 241.8,729 242.25,729 242.7,729 243.15,729 243.6,729 244.05,729 244.5,729 244.95,729 245.4,729 245.85,729 246.3,729 246.75,729 247.2,729 247.65,729 248.1,729 248.55,729 249,729 249.45,729 249.9,729 250.35,729 250.8,729 251.25,729 251.7,729 252.15,729 252.6,729 253.05,729 253.5,729 253.95,729 254.4,729 254.85,729 255.3,729 255.75,729 256.2,729 256.65,729 257.1,729 257.55,729 258,729 258.4,729 258.4,729 74.4,729" fill="rgba(255,160,70,0.36)" stroke="none"/>
<polyline points="74.4,729 74.85,729 75.3,729 75.75,729 76.2,729 76.65,729 77.1,729 77.55,729 78,729 78.45,729 78.9,729 79.35,729 79.8,729 80.25,729 80.7,729 81.15,729 81.6,729 82.05,729 82.5,729 82.95,729 83.4,729 83.85,729 84.3,729 84.75,729 85.2,729 85.65,729 86.1,729 86.55,729 87,729 87.45,729 87.9,729 88.35,729 88.8,729 89.25,729 89.7,729 90.15,729 90.6,729 91.05,729 91.5,729 91.95,729 92.4,729 92.85,729 93.3,729 93.75,729 94.2,729 94.65,729 95.1,729 95.55,729 96,729 96.45,729 96.9,729 97.35,729 97.8,729 98.25,729 98.7,729 99.15,729 99.6,729 100.05,729 100.5,729 100.95,729 101.4,729 101.85,729 102.3,729 102.75,729 103.2,729 103.65,729 104.1,729 104.55,729 105,729 105.45,729 105.9,729 106.35,729 106.8,729 107.25,729 107.7,729 108.15,729 108.6,729 109.05,729 109.5,729 109.95,729 110.4,729 110.85,729 111.3,729 111.75,729 112.2,729 112.65,729 113,728.99 113.1,728.8 113.55,728.84 114,728.94 114.45,729 114.9,729 115.35,729 115.8,728.09 116.25,729 116.7,729 117.15,729 117.6,729 118.05,729 118.5,728.7 118.95,728.88 119.4,728.43 119.85,729 120.3,729 120.75,728.98 121.2,729 121.65,728.43 122.1,729 122.55,727.83 123,729 123.45,728.67 123.9,729 124.35,728.46 124.8,728.85 125.25,728.99 125.7,729 126.15,728.73 126.6,728.76 127.05,728.02 127.5,728.3 127.95,728.89 128.4,728.54 128.85,728.87 129.3,729 129.75,728.51 130.2,729 130.65,729 131.1,728.64 131.55,729 132,729 132.45,728.75 132.9,729 133.35,728.26 133.8,729 134.25,729 134.7,728.35 135.15,728.3 135.6,728.51 136.05,729 136.5,729 136.95,729 137.4,728.82 137.85,728.81 138.3,729 138.75,728.37 139.2,729 139.65,728.81 140.1,728.54 140.55,728.88 141,727.69 141.45,728.94 141.9,727.85 142.35,727.79 142.8,729 143.25,728.57 143.7,728.11 144.15,727.12 144.6,728.06 145.05,729 145.5,729 145.95,729 146.4,728.45 146.85,729 147.3,728.02 147.75,728.99 148.2,728.66 148.65,727.44 149.1,728.97 149.55,727.78 150,728.41 150.45,728.03 150.9,728.53 151.35,728.03 151.8,728.7 152.25,728.97 152.7,728.39 153.15,728.07 153.6,728.87 154.05,728.7 154.5,727.7 154.95,729 155.4,729 155.85,728.58 156.3,728.89 156.75,726.87 157.2,728.67 157.65,729 158.1,729 158.55,729 159,728.94 159.45,728.09 159.9,728.13 160,726.69 160.35,729 160.8,725.72 161.25,729 161.7,728.98 162.15,728.3 162.6,728.8 163.05,727.86 163.5,726.59 163.95,729 164.4,727.12 164.85,729 165.3,727.86 165.75,728.43 166.2,727.47 166.65,728.35 167.1,728.64 167.55,728.44 168,727.77 168.45,729 168.9,726.92 169.35,726.49 169.8,727.65 170.25,726.77 170.7,728.85 171.15,726.51 171.6,728.86 172.05,727.19 172.5,726.26 172.95,729 173.4,727.12 173.85,728.36 174.3,728.76 174.75,726.23 175,728.33 175.2,726.58 175.65,727.21 176.1,725.8 176.55,725.7 177,725.96 177.45,727.55 177.9,727.47 178.35,724.74 178.8,726.51 179.25,726.84 179.7,727.8 180.15,724.29 180.6,728.25 181.05,726.72 181.5,727.21 181.95,727.21 182.4,726.9 182.85,727.48 183.3,727.93 183.75,727.18 184.2,726.8 184.65,725.09 185,725.44 185.1,725.22 185.55,727.46 186,727.38 186.45,727.89 186.9,727.61 187.35,727.01 187.8,726.72 188.25,725.62 188.7,726.05 189.15,726.79 189.6,725.62 190.05,726.48 190.5,725.35 190.95,724.36 191.4,726.26 191.85,727.45 192.3,726.99 192.75,726.13 193.2,726.09 193.65,726.29 194.1,723.82 194.55,724.11 195,726.2 195,723.11 195.45,726.29 195.9,726.51 196.35,720.2 196.8,725.22 197.25,721.39 197.7,724.85 198.15,724.3 198.6,721.2 199.05,721.89 199.5,722.71 199.95,723.12 200,724.9 200.4,724.35 200.85,722.47 201.3,722.78 201.75,723.25 202.2,723.75 202.65,723.87 203.1,721.35 203.55,725.3 204,721.77 204.45,723.1 204.9,721.09 205,723.39 205.35,725.56 205.8,720.54 206.25,726.48 206.7,725.05 207.15,724.66 207.6,725.63 207.7,727.4 208.05,724.58 208.5,722.76 208.95,720.94 209.4,719.12 209.8,717.5 209.85,716.46 210.3,707.1 210.75,697.74 210.8,696.7 211.2,690.03 211.65,682.52 212.1,675.02 212.55,667.51 213,660 213.3,655 213.45,650.19 213.9,635.75 214.35,621.32 214.6,613.3 214.8,607.36 215.25,593.99 215.7,580.61 216,571.7 216.15,571 216.6,568.89 217.05,566.78 217.5,564.67 217.95,562.56 218.4,560.45 218.85,558.34 219.2,556.7 219.3,557.64 219.75,561.86 220.2,566.08 220.65,570.29 220.8,571.7 221.1,599.43 221.25,613.3 221.55,625.21 222,643.09 222.3,655 222.45,661.26 222.9,680.02 223.3,696.7 223.35,699.01 223.75,717.5 223.8,717.83 224.25,720.83 224.7,723.83 225.15,726.83 225.4,728.5 225.6,728.59 226.05,728.8 226.5,729 226.5,729 226.95,729 227.4,729 227.85,729 228.3,729 228.75,729 229.2,729 229.65,729 230.1,729 230.55,729 231,729 231.45,729 231.9,729 232.35,729 232.8,729 233.25,729 233.7,729 234.15,729 234.6,729 235.05,729 235.5,729 235.95,729 236.4,729 236.85,729 237.3,729 237.75,729 238.2,729 238.65,729 239.1,729 239.55,729 240,729 240.45,729 240.9,729 241.35,729 241.8,729 242.25,729 242.7,729 243.15,729 243.6,729 244.05,729 244.5,729 244.95,729 245.4,729 245.85,729 246.3,729 246.75,729 247.2,729 247.65,729 248.1,729 248.55,729 249,729 249.45,729 249.9,729 250.35,729 250.8,729 251.25,729 251.7,729 252.15,729 252.6,729 253.05,729 253.5,729 253.95,729 254.4,729 254.85,729 255.3,729 255.75,729 256.2,729 256.65,729 257.1,729 257.55,729 258,729 258.4,729" fill="none" stroke="#ffa24a" stroke-width="1.6" stroke-linejoin="round"/>
<path d="M76.74 729.4L76.74 732.2M78.68 729.4L78.68 732.2M80.89 729.4L80.89 732.2M83.43 729.4L83.43 732.2M86.44 729.4L86.44 732.2M90.12 729.4L90.12 732.2M94.87 729.4L94.87 732.2M101.56 729.4L101.56 732.2M114.74 729.4L114.74 732.2M116.68 729.4L116.68 732.2M118.89 729.4L118.89 732.2M121.43 729.4L121.43 732.2M124.44 729.4L124.44 732.2M128.12 729.4L128.12 732.2M132.87 729.4L132.87 732.2M139.56 729.4L139.56 732.2M162.44 729.4L162.44 732.2M169.13 729.4L169.13 732.2M173.88 729.4L173.88 732.2M177.56 729.4L177.56 732.2M180.57 729.4L180.57 732.2M183.11 729.4L183.11 732.2M185.32 729.4L185.32 732.2M187.26 729.4L187.26 732.2M200.44 729.4L200.44 732.2M207.13 729.4L207.13 732.2M211.88 729.4L211.88 732.2M215.56 729.4L215.56 732.2M218.57 729.4L218.57 732.2M221.11 729.4L221.11 732.2M223.32 729.4L223.32 732.2M225.26 729.4L225.26 732.2M238.44 729.4L238.44 732.2M245.13 729.4L245.13 732.2M249.88 729.4L249.88 732.2M253.56 729.4L253.56 732.2M256.57 729.4L256.57 732.2" stroke="#000" stroke-width="0.9" fill="none"/>
<path d="M75 729.4L75 734M113 729.4L113 734M189 729.4L189 734M227 729.4L227 734M74.9 729.4L74.9 734" stroke="#000" stroke-width="1.4" fill="none"/>
<rect x="145.4" y="729.4" width="11.2" height="4.2" fill="#000"/>
<rect x="148.5" y="732" width="1.1" height="1.6" fill="#fff"/><rect x="152.6" y="732" width="1.1" height="1.6" fill="#fff"/>
<text x="77.6" y="743.7" font-size="7.2" fill="#383838" font-weight="bold"><tspan font-size="5.9" dy="-0.4">&#8722;</tspan><tspan dx="0.5" dy="0.4">10</tspan><tspan dx="0.6" dy="-3.6" font-size="6.48">5</tspan></text>
<text x="112" y="743.7" font-size="7.2" fill="#383838" font-weight="bold"><tspan font-size="5.9" dy="-0.4">&#8722;</tspan><tspan dx="0.5" dy="0.4">10</tspan><tspan dx="0.6" dy="-3.6" font-size="6.48">4</tspan></text>
<text x="153" y="743.7" font-size="7.2" fill="#383838" font-weight="bold">0<tspan dx="0.6" dy="-3.6" font-size="6.48"></tspan></text>
<text x="188.8" y="743.7" font-size="7.2" fill="#383838" font-weight="bold">10<tspan dx="0.6" dy="-3.6" font-size="6.48">4</tspan></text>
<text x="226.8" y="743.7" font-size="7.2" fill="#383838" font-weight="bold">10<tspan dx="0.6" dy="-3.6" font-size="6.48">5</tspan></text>
<text x="152.5" y="760.6" font-size="8.4" fill="#4a4a4a" font-weight="bold">CD133</text>
<text x="274.2" y="696.5" font-size="9.9" fill="#111"><tspan dy="0">Ctrl.</tspan></text>
<text x="0" y="0" font-size="9.9" fill="#111" transform="translate(255.4 711.2) scale(0.97 1)"><tspan dy="0">rec. SAA1</tspan></text>
<text x="0" y="0" font-size="9.9" fill="#111" transform="translate(233.8 725.1) scale(0.96 1)"><tspan dy="0">TIRAPi rec. SAA1</tspan></text>
<polygon points="413.3,727.4 597.3,727.4 640.2,699.5 456.2,699.5" fill="#fbfbfb"/>
<path d="M485.5 727.4L528.4 699.5M486.4 727.4L529.3 699.5M487.3 727.4L530.2 699.5M488.2 727.4L531.1 699.5M489.1 727.4L532 699.5M490 727.4L532.9 699.5M490.9 727.4L533.8 699.5M491 727.4L533.9 699.5M491 727.4L533.9 699.5M491.8 727.4L534.7 699.5M492.7 727.4L535.6 699.5M493.6 727.4L536.5 699.5M494.5 727.4L537.4 699.5M495.4 727.4L538.3 699.5M496.3 727.4L539.2 699.5" stroke="#6e6e6e" stroke-width="0.55" fill="none"/>
<path d="M416.74 727.4L459.64 699.5M418.68 727.4L461.58 699.5M420.89 727.4L463.79 699.5M423.43 727.4L466.33 699.5M426.44 727.4L469.34 699.5M430.12 727.4L473.02 699.5M434.87 727.4L477.77 699.5M441.56 727.4L484.46 699.5M454.74 727.4L497.64 699.5M456.68 727.4L499.58 699.5M458.89 727.4L501.79 699.5M461.43 727.4L504.33 699.5M464.44 727.4L507.34 699.5M468.12 727.4L511.02 699.5M472.87 727.4L515.77 699.5M479.56 727.4L522.46 699.5M502.44 727.4L545.34 699.5M509.13 727.4L552.03 699.5M513.88 727.4L556.78 699.5M517.56 727.4L560.46 699.5M520.57 727.4L563.47 699.5M523.11 727.4L566.01 699.5M525.32 727.4L568.22 699.5M527.26 727.4L570.16 699.5M540.44 727.4L583.34 699.5M547.13 727.4L590.03 699.5M551.88 727.4L594.78 699.5M555.56 727.4L598.46 699.5M558.57 727.4L601.47 699.5M561.11 727.4L604.01 699.5M563.32 727.4L606.22 699.5M565.26 727.4L608.16 699.5M578.44 727.4L621.34 699.5M585.13 727.4L628.03 699.5M589.88 727.4L632.78 699.5M593.56 727.4L636.46 699.5M596.57 727.4L639.47 699.5" stroke="#a8a8a8" stroke-width="0.6" fill="none"/>
<path d="M415 727.4L457.9 699.5M453 727.4L495.9 699.5M529 727.4L571.9 699.5M567 727.4L609.9 699.5" stroke="#5a5a5a" stroke-width="0.8" fill="none"/>
<polygon points="485.8,727.4 496.2,727.4 539.1,699.5 528.7,699.5" fill="#8c8c8c" fill-opacity="0.45"/>
<line x1="413.3" y1="727.4" x2="456.2" y2="699.5" stroke="#777" stroke-width="0.7"/>
<polygon points="456.2,699.5 456.65,699.5 457.1,699.5 457.55,699.5 458,699.5 458.45,699.5 458.9,699.5 459.35,699.5 459.8,699.5 460.25,699.5 460.7,699.5 461.15,699.5 461.6,699.5 462.05,699.5 462.5,699.5 462.95,699.5 463.4,699.5 463.85,699.5 464.3,699.5 464.75,699.5 465.2,699.5 465.65,699.5 466.1,699.5 466.55,699.5 467,699.5 467.45,699.5 467.9,699.5 468.35,699.5 468.8,699.5 469.25,699.5 469.7,699.5 470.15,699.5 470.6,699.5 471.05,699.5 471.5,699.5 471.95,699.5 472.4,699.5 472.85,699.5 473.3,699.5 473.75,699.5 474.2,699.5 474.65,699.5 475.1,699.5 475.55,699.5 476,699.5 476.45,699.5 476.9,699.5 477.35,699.5 477.8,699.5 478.25,699.5 478.7,699.5 479.15,699.5 479.6,699.5 480.05,699.5 480.5,699.5 480.95,699.5 481.4,699.5 481.85,699.5 482.3,699.5 482.75,699.5 483.2,699.5 483.65,699.5 484.1,699.5 484.55,699.5 485,699.5 485.45,699.5 485.9,699.5 486.35,699.5 486.8,699.5 487.25,699.5 487.7,699.5 488.15,699.5 488.6,699.5 489.05,699.5 489.5,699.5 489.95,699.5 490,699.5 490.4,699.5 490.85,699.5 491.3,699.31 491.75,699.33 492.2,699.33 492.65,699.5 493.1,697.9 493.55,698.9 494,699 494.45,698.66 494.9,697.49 495.35,698.32 495.8,699.5 496.25,698.62 496.7,698.94 497.15,699.13 497.6,697.77 498.05,697.8 498.5,698.07 498.95,697.67 499.4,698.41 499.85,699.45 500,696.41 500.3,697.26 500.75,697.98 501.2,699.46 501.65,697.47 502.1,698.58 502.55,697.73 503,698.67 503.45,698.18 503.9,698.71 504.35,696.9 504.8,698.35 505.25,697.5 505.7,698.47 506.15,697.43 506.6,698.65 507.05,698.49 507.5,699.36 507.95,699.22 508.4,698.81 508.85,698.46 509.3,698.45 509.75,698.51 510,695.85 510.2,697.85 510.65,697.97 511.1,698.36 511.55,698.81 512,698.41 512.45,699.24 512.9,696.61 513.35,698.29 513.8,698.93 514.25,697.87 514.7,696.86 515.15,696.94 515.6,697.93 516.05,697.19 516.5,696.68 516.95,697.62 517.4,695.37 517.85,697.75 518.3,698.42 518.75,697.16 519.2,697.9 519.65,697.96 520,697.79 520.1,697.74 520.55,697.1 521,695.83 521.45,696.39 521.9,695.24 522.35,697.2 522.8,698.57 523.25,694.95 523.7,696.46 524.15,698.09 524.6,696.49 525.05,695.45 525.5,698.12 525.95,697.94 526.4,696.86 526.85,694.09 527.3,696.59 527.75,696.99 528.2,697.88 528.65,695.52 529.1,694.49 529.55,697.79 530,697.04 530,695.73 530.45,696.44 530.9,696.72 531.35,695.58 531.8,694.22 532.25,696.22 532.7,697.6 533.15,692.34 533.6,696.61 534.05,696.7 534.5,696.71 534.95,695.15 535.4,696.14 535.85,696.63 536.3,696.32 536.75,695.15 537,695.03 537.2,693.28 537.65,695.65 538.1,695.36 538.55,694.83 539,695.66 539.45,695.8 539.9,695.64 540.35,696.16 540.8,694.52 541.25,692.74 541.7,695.34 542.15,693.4 542.5,692.46 542.6,696.01 543.05,693.99 543.5,693.56 543.95,695.44 544.4,694.08 544.85,688.86 545.3,694.29 545.75,693.34 546.2,693.21 546.65,693.21 547.1,694.36 547.55,691.72 548,694.21 548.45,694.14 548.9,693.04 549.35,693.11 549.8,694.08 550,690.78 550.25,691.18 550.7,693.35 551.15,689.72 551.6,692.02 552.05,692.47 552.5,691.33 552.95,690.41 553.4,692.66 553.85,690 554.3,691.24 554.75,690.97 555.2,690.81 555.65,688.7 556,687.6 556.1,688.28 556.55,689.81 557,690.85 557.45,690.5 557.9,689.94 558.35,688.45 558.8,688.14 559.25,687.34 559.7,688.69 560.15,688.75 560.6,688.76 561,686.77 561.05,683.55 561.5,686.02 561.95,684.89 562.4,683.8 562.85,685.66 563.3,685.48 563.75,683.58 564,683.48 564.2,684.43 564.65,679.76 565.1,683.76 565.55,680.93 566,679.25 566.45,682.31 566.9,678.47 567.35,680 567.4,680.72 567.8,680.37 568.25,682.66 568.7,678.06 569.15,682.14 569.5,684.15 569.6,684.07 570.05,682.1 570.5,682.47 570.95,683.67 571,682.43 571.4,679.68 571.85,679.21 572.3,675.14 572.75,672.64 573,673.64 573.2,671.84 573.65,672.67 574.1,670.01 574.55,670.57 575,666.62 575,670.01 575.45,667.36 575.9,666.51 576.35,665.02 576.8,664.94 577,663.8 577.25,658.16 577.7,659.85 578.15,657.59 578.6,654.36 579.05,652.92 579.5,646.65 579.9,652.22 579.95,652.18 580.4,653.06 580.85,657.26 581.3,653.5 581.5,659.42 581.75,660.97 582.2,663.63 582.65,661.86 583.1,658.85 583.5,657.91 583.55,661.57 584,659.46 584.45,658.3 584.9,658.6 585.35,659.88 585.8,659.57 586,660.43 586.25,657.8 586.7,661.89 587.15,658.44 587.6,657.41 587.9,661.75 588.05,661.92 588.5,664.11 588.95,661.48 589.4,664.52 589.5,664.86 589.85,664.41 590.3,666.04 590.75,662.34 591.2,670.59 591.5,666.91 591.65,670.17 592.1,675.97 592.55,678.55 593,683.08 593,683.28 593.45,684.86 593.9,679.39 594.35,688.01 594.8,689.51 595.25,687.36 595.7,691.86 595.9,693.2 596.15,694.31 596.6,690.32 597.05,695.02 597.5,690.75 597.95,695.61 598.4,695.39 598.8,696.94 598.85,697.03 599.3,698.31 599.75,693.09 600.2,697.75 600.65,698.34 601,698.8 601.1,698.87 601.55,699.18 602,699.5 602,699.5 602.45,699.5 602.9,699.5 603.35,699.5 603.8,699.5 604.25,699.5 604.7,699.5 605.15,699.5 605.6,699.5 606.05,699.5 606.5,699.5 606.95,699.5 607.4,699.5 607.85,699.5 608.3,699.5 608.75,699.5 609.2,699.5 609.65,699.5 610.1,699.5 610.55,699.5 611,699.5 611.45,699.5 611.9,699.5 612.35,699.5 612.8,699.5 613.25,699.5 613.7,699.5 614.15,699.5 614.6,699.5 615.05,699.5 615.5,699.5 615.95,699.5 616.4,699.5 616.85,699.5 617.3,699.5 617.75,699.5 618.2,699.5 618.65,699.5 619.1,699.5 619.55,699.5 620,699.5 620.45,699.5 620.9,699.5 621.35,699.5 621.8,699.5 622.25,699.5 622.7,699.5 623.15,699.5 623.6,699.5 624.05,699.5 624.5,699.5 624.95,699.5 625.4,699.5 625.85,699.5 626.3,699.5 626.75,699.5 627.2,699.5 627.65,699.5 628.1,699.5 628.55,699.5 629,699.5 629.45,699.5 629.9,699.5 630.35,699.5 630.8,699.5 631.25,699.5 631.7,699.5 632.15,699.5 632.6,699.5 633.05,699.5 633.5,699.5 633.95,699.5 634.4,699.5 634.85,699.5 635.3,699.5 635.75,699.5 636.2,699.5 636.65,699.5 637.1,699.5 637.55,699.5 638,699.5 638.45,699.5 638.9,699.5 639.35,699.5 639.8,699.5 640.2,699.5 640.2,699.5 456.2,699.5" fill="rgba(255,80,80,0.40)" stroke="none"/>
<polyline points="456.2,699.5 456.65,699.5 457.1,699.5 457.55,699.5 458,699.5 458.45,699.5 458.9,699.5 459.35,699.5 459.8,699.5 460.25,699.5 460.7,699.5 461.15,699.5 461.6,699.5 462.05,699.5 462.5,699.5 462.95,699.5 463.4,699.5 463.85,699.5 464.3,699.5 464.75,699.5 465.2,699.5 465.65,699.5 466.1,699.5 466.55,699.5 467,699.5 467.45,699.5 467.9,699.5 468.35,699.5 468.8,699.5 469.25,699.5 469.7,699.5 470.15,699.5 470.6,699.5 471.05,699.5 471.5,699.5 471.95,699.5 472.4,699.5 472.85,699.5 473.3,699.5 473.75,699.5 474.2,699.5 474.65,699.5 475.1,699.5 475.55,699.5 476,699.5 476.45,699.5 476.9,699.5 477.35,699.5 477.8,699.5 478.25,699.5 478.7,699.5 479.15,699.5 479.6,699.5 480.05,699.5 480.5,699.5 480.95,699.5 481.4,699.5 481.85,699.5 482.3,699.5 482.75,699.5 483.2,699.5 483.65,699.5 484.1,699.5 484.55,699.5 485,699.5 485.45,699.5 485.9,699.5 486.35,699.5 486.8,699.5 487.25,699.5 487.7,699.5 488.15,699.5 488.6,699.5 489.05,699.5 489.5,699.5 489.95,699.5 490,699.5 490.4,699.5 490.85,699.5 491.3,699.31 491.75,699.33 492.2,699.33 492.65,699.5 493.1,697.9 493.55,698.9 494,699 494.45,698.66 494.9,697.49 495.35,698.32 495.8,699.5 496.25,698.62 496.7,698.94 497.15,699.13 497.6,697.77 498.05,697.8 498.5,698.07 498.95,697.67 499.4,698.41 499.85,699.45 500,696.41 500.3,697.26 500.75,697.98 501.2,699.46 501.65,697.47 502.1,698.58 502.55,697.73 503,698.67 503.45,698.18 503.9,698.71 504.35,696.9 504.8,698.35 505.25,697.5 505.7,698.47 506.15,697.43 506.6,698.65 507.05,698.49 507.5,699.36 507.95,699.22 508.4,698.81 508.85,698.46 509.3,698.45 509.75,698.51 510,695.85 510.2,697.85 510.65,697.97 511.1,698.36 511.55,698.81 512,698.41 512.45,699.24 512.9,696.61 513.35,698.29 513.8,698.93 514.25,697.87 514.7,696.86 515.15,696.94 515.6,697.93 516.05,697.19 516.5,696.68 516.95,697.62 517.4,695.37 517.85,697.75 518.3,698.42 518.75,697.16 519.2,697.9 519.65,697.96 520,697.79 520.1,697.74 520.55,697.1 521,695.83 521.45,696.39 521.9,695.24 522.35,697.2 522.8,698.57 523.25,694.95 523.7,696.46 524.15,698.09 524.6,696.49 525.05,695.45 525.5,698.12 525.95,697.94 526.4,696.86 526.85,694.09 527.3,696.59 527.75,696.99 528.2,697.88 528.65,695.52 529.1,694.49 529.55,697.79 530,697.04 530,695.73 530.45,696.44 530.9,696.72 531.35,695.58 531.8,694.22 532.25,696.22 532.7,697.6 533.15,692.34 533.6,696.61 534.05,696.7 534.5,696.71 534.95,695.15 535.4,696.14 535.85,696.63 536.3,696.32 536.75,695.15 537,695.03 537.2,693.28 537.65,695.65 538.1,695.36 538.55,694.83 539,695.66 539.45,695.8 539.9,695.64 540.35,696.16 540.8,694.52 541.25,692.74 541.7,695.34 542.15,693.4 542.5,692.46 542.6,696.01 543.05,693.99 543.5,693.56 543.95,695.44 544.4,694.08 544.85,688.86 545.3,694.29 545.75,693.34 546.2,693.21 546.65,693.21 547.1,694.36 547.55,691.72 548,694.21 548.45,694.14 548.9,693.04 549.35,693.11 549.8,694.08 550,690.78 550.25,691.18 550.7,693.35 551.15,689.72 551.6,692.02 552.05,692.47 552.5,691.33 552.95,690.41 553.4,692.66 553.85,690 554.3,691.24 554.75,690.97 555.2,690.81 555.65,688.7 556,687.6 556.1,688.28 556.55,689.81 557,690.85 557.45,690.5 557.9,689.94 558.35,688.45 558.8,688.14 559.25,687.34 559.7,688.69 560.15,688.75 560.6,688.76 561,686.77 561.05,683.55 561.5,686.02 561.95,684.89 562.4,683.8 562.85,685.66 563.3,685.48 563.75,683.58 564,683.48 564.2,684.43 564.65,679.76 565.1,683.76 565.55,680.93 566,679.25 566.45,682.31 566.9,678.47 567.35,680 567.4,680.72 567.8,680.37 568.25,682.66 568.7,678.06 569.15,682.14 569.5,684.15 569.6,684.07 570.05,682.1 570.5,682.47 570.95,683.67 571,682.43 571.4,679.68 571.85,679.21 572.3,675.14 572.75,672.64 573,673.64 573.2,671.84 573.65,672.67 574.1,670.01 574.55,670.57 575,666.62 575,670.01 575.45,667.36 575.9,666.51 576.35,665.02 576.8,664.94 577,663.8 577.25,658.16 577.7,659.85 578.15,657.59 578.6,654.36 579.05,652.92 579.5,646.65 579.9,652.22 579.95,652.18 580.4,653.06 580.85,657.26 581.3,653.5 581.5,659.42 581.75,660.97 582.2,663.63 582.65,661.86 583.1,658.85 583.5,657.91 583.55,661.57 584,659.46 584.45,658.3 584.9,658.6 585.35,659.88 585.8,659.57 586,660.43 586.25,657.8 586.7,661.89 587.15,658.44 587.6,657.41 587.9,661.75 588.05,661.92 588.5,664.11 588.95,661.48 589.4,664.52 589.5,664.86 589.85,664.41 590.3,666.04 590.75,662.34 591.2,670.59 591.5,666.91 591.65,670.17 592.1,675.97 592.55,678.55 593,683.08 593,683.28 593.45,684.86 593.9,679.39 594.35,688.01 594.8,689.51 595.25,687.36 595.7,691.86 595.9,693.2 596.15,694.31 596.6,690.32 597.05,695.02 597.5,690.75 597.95,695.61 598.4,695.39 598.8,696.94 598.85,697.03 599.3,698.31 599.75,693.09 600.2,697.75 600.65,698.34 601,698.8 601.1,698.87 601.55,699.18 602,699.5 602,699.5 602.45,699.5 602.9,699.5 603.35,699.5 603.8,699.5 604.25,699.5 604.7,699.5 605.15,699.5 605.6,699.5 606.05,699.5 606.5,699.5 606.95,699.5 607.4,699.5 607.85,699.5 608.3,699.5 608.75,699.5 609.2,699.5 609.65,699.5 610.1,699.5 610.55,699.5 611,699.5 611.45,699.5 611.9,699.5 612.35,699.5 612.8,699.5 613.25,699.5 613.7,699.5 614.15,699.5 614.6,699.5 615.05,699.5 615.5,699.5 615.95,699.5 616.4,699.5 616.85,699.5 617.3,699.5 617.75,699.5 618.2,699.5 618.65,699.5 619.1,699.5 619.55,699.5 620,699.5 620.45,699.5 620.9,699.5 621.35,699.5 621.8,699.5 622.25,699.5 622.7,699.5 623.15,699.5 623.6,699.5 624.05,699.5 624.5,699.5 624.95,699.5 625.4,699.5 625.85,699.5 626.3,699.5 626.75,699.5 627.2,699.5 627.65,699.5 628.1,699.5 628.55,699.5 629,699.5 629.45,699.5 629.9,699.5 630.35,699.5 630.8,699.5 631.25,699.5 631.7,699.5 632.15,699.5 632.6,699.5 633.05,699.5 633.5,699.5 633.95,699.5 634.4,699.5 634.85,699.5 635.3,699.5 635.75,699.5 636.2,699.5 636.65,699.5 637.1,699.5 637.55,699.5 638,699.5 638.45,699.5 638.9,699.5 639.35,699.5 639.8,699.5 640.2,699.5" fill="none" stroke="#ff4b3e" stroke-width="1.6" stroke-linejoin="round"/>
<polygon points="434.1,713.2 434.55,713.2 435,713.2 435.45,713.2 435.9,713.2 436.35,713.2 436.8,713.2 437.25,713.2 437.7,713.2 438.15,713.2 438.6,713.2 439.05,713.2 439.5,713.2 439.95,713.2 440.4,713.2 440.85,713.2 441.3,713.2 441.75,713.2 442.2,713.2 442.65,713.2 443.1,713.2 443.55,713.2 444,713.2 444.45,713.2 444.9,713.2 445.35,713.2 445.8,713.2 446.25,713.2 446.7,713.2 447.15,713.2 447.6,713.2 448.05,713.2 448.5,713.2 448.95,713.2 449.4,713.2 449.85,713.2 450.3,713.2 450.75,713.2 451.2,713.2 451.65,713.2 452.1,713.2 452.55,713.2 453,713.2 453.45,713.2 453.9,713.2 454.35,713.2 454.8,713.2 455.25,713.2 455.7,713.2 456.15,713.2 456.6,713.2 457.05,713.2 457.5,713.2 457.95,713.2 458.4,713.2 458.85,713.2 459.3,713.2 459.75,713.2 460.2,713.2 460.65,713.2 461.1,713.2 461.55,713.2 462,713.2 462.45,713.2 462.9,713.2 463.35,713.2 463.8,713.2 464.25,713.2 464.7,713.2 465.15,713.2 465.6,713.2 466.05,713.2 466.5,713.2 466.95,713.2 467.4,713.2 467.85,713.2 468.3,713.2 468.75,713.2 469.2,713.2 469.65,713.2 470.1,713.2 470.55,713.2 471,713.2 471.45,713.2 471.9,713.2 472.35,713.2 472.8,713.2 473.25,713.2 473.7,713.2 474.15,713.2 474.6,713.2 475.05,713.2 475.5,713.2 475.95,713.2 476,713.2 476.4,713.2 476.85,713.2 477.3,713.03 477.75,713.2 478.2,713.2 478.65,712.96 479.1,713.15 479.55,713.2 480,713.2 480.45,712.96 480.9,713.2 481.35,713.2 481.8,712.67 482.25,712.49 482.7,713.2 483.15,712.97 483.6,713.2 484.05,713.2 484.5,712.83 484.95,712.79 485.4,713.2 485.85,713.2 486.3,711.95 486.75,713.2 487.2,713.2 487.65,712.58 488.1,713.2 488.55,713.2 489,713.2 489.45,713.2 489.9,711.62 490.35,712.98 490.8,712.74 491.25,713.08 491.7,712.94 492.15,713.2 492.6,712.53 493.05,712.71 493.5,713.12 493.95,712.9 494.4,713.2 494.85,712.38 495.3,713.01 495.75,712.58 496.2,712.94 496.65,713.2 497.1,712.94 497.55,713.2 498,712.1 498.45,713.2 498.9,713.2 499.35,713.17 499.8,713.2 500,712.17 500.25,712.64 500.7,712.92 501.15,713.2 501.6,713.19 502.05,712.81 502.5,713.2 502.95,713.2 503.4,712.73 503.85,712.49 504.3,712.7 504.75,712.64 505.2,713.2 505.65,712.55 506.1,713.08 506.55,712.18 507,712.89 507.45,712.43 507.9,713.2 508.35,712.08 508.8,711.68 509.25,712.62 509.7,711.94 510.15,712.97 510.6,713.2 511.05,711.7 511.5,713.1 511.95,712.92 512.4,710.88 512.85,712.91 513.3,711.31 513.75,711.69 514.2,712.67 514.65,713.11 515.1,712.95 515.55,712.96 516,713.2 516.45,712.18 516.9,712.79 517.35,712.99 517.8,712.06 518.25,712.19 518.7,712.25 519.15,713.03 519.6,713.2 520,712.62 520.05,711.82 520.5,711.72 520.95,712.35 521.4,711.72 521.85,712.92 522.3,712.72 522.75,710.9 523.2,712.02 523.65,711.05 524.1,712.71 524.55,711.2 525,712.08 525.45,712.64 525.9,708.99 526.35,711.42 526.8,712.26 527.25,711.93 527.7,710.93 528,711.58 528.15,710.38 528.6,711.58 529.05,710.67 529.5,711.07 529.95,709.61 530.4,711.6 530.85,710.28 531.3,709.65 531.75,711.55 532.2,711.82 532.65,709.64 533.1,708.64 533.55,711.43 534,710.39 534.45,711.09 534.9,710.73 535,710.13 535.35,710.34 535.8,710.44 536.25,709.74 536.7,709.27 537.15,710.96 537.6,709.64 538.05,709.49 538.5,710.43 538.95,710.38 539.4,708.44 539.85,709.34 540.3,709.26 540.75,709.92 541,709.31 541.2,709.71 541.65,709.99 542.1,709.64 542.55,709.43 543,709.94 543.45,708.41 543.9,707.7 544.35,709.66 544.8,708.91 545.25,707.32 545.7,708.92 546.15,709.07 546.6,707.72 547.05,706.97 547.5,706.78 547.95,708.62 548,708.87 548.4,707.87 548.85,708.61 549.3,708.61 549.75,708.59 550.2,706.88 550.65,709.52 551.1,708.96 551.55,709.25 552,708.39 552.45,709.44 552.9,707.85 553.35,709.08 553.8,705.88 554.25,707.79 554.7,707.92 555,705.79 555.15,708.51 555.6,708.72 556.05,706.56 556.5,708.22 556.95,706.27 557.4,707.6 557.85,704.39 558.3,707.77 558.75,705.32 559.2,707.44 559.65,704.12 560,707.57 560.1,706.93 560.55,704.18 561,706.89 561.45,706.62 561.9,705.02 562.35,706.21 562.8,705.51 563.25,704.82 563.7,703.04 564.15,704.55 564.6,704.8 565,702.76 565.05,703.31 565.5,705.28 565.95,701.33 566.4,705.92 566.85,705.56 567.3,705.83 567.5,706.43 567.75,705.6 568.2,703.4 568.65,701.72 569.1,700.05 569.55,698.37 570,696.7 570,696.7 570.45,689.75 570.9,682.8 571.35,675.85 571.8,668.9 572.25,661.95 572.7,655 572.7,655 573.15,643.96 573.6,632.92 574.05,621.89 574.4,613.3 574.5,609.14 574.95,590.42 575.4,571.7 575.4,571.7 575.85,562.08 576.3,552.46 576.75,542.84 577,537.5 577.2,540.35 577.65,546.76 578.1,553.17 578.55,559.59 579,566 579.4,571.7 579.45,573.43 579.9,589.03 580.35,604.63 580.6,613.3 580.8,619.26 581.25,632.66 581.7,646.06 582,655 582.15,658.57 582.6,669.3 583.05,680.02 583.5,690.74 583.75,696.7 583.95,698.51 584.4,702.58 584.85,706.64 585,708 585.3,709.95 585.75,712.87 585.8,713.2 586.2,713.2 586.65,713.2 587.1,713.2 587.55,713.2 588,713.2 588.45,713.2 588.9,713.2 589.35,713.2 589.8,713.2 590.25,713.2 590.7,713.2 591.15,713.2 591.6,713.2 592.05,713.2 592.5,713.2 592.95,713.2 593.4,713.2 593.85,713.2 594.3,713.2 594.75,713.2 595.2,713.2 595.65,713.2 596.1,713.2 596.55,713.2 597,713.2 597.45,713.2 597.9,713.2 598.35,713.2 598.8,713.2 599.25,713.2 599.7,713.2 600.15,713.2 600.6,713.2 601.05,713.2 601.5,713.2 601.95,713.2 602.4,713.2 602.85,713.2 603.3,713.2 603.75,713.2 604.2,713.2 604.65,713.2 605.1,713.2 605.55,713.2 606,713.2 606.45,713.2 606.9,713.2 607.35,713.2 607.8,713.2 608.25,713.2 608.7,713.2 609.15,713.2 609.6,713.2 610.05,713.2 610.5,713.2 610.95,713.2 611.4,713.2 611.85,713.2 612.3,713.2 612.75,713.2 613.2,713.2 613.65,713.2 614.1,713.2 614.55,713.2 615,713.2 615.45,713.2 615.9,713.2 616.35,713.2 616.8,713.2 617.25,713.2 617.7,713.2 618.1,713.2 618.1,713.2 434.1,713.2" fill="rgba(25,198,245,0.36)" stroke="none"/>
<polyline points="434.1,713.2 434.55,713.2 435,713.2 435.45,713.2 435.9,713.2 436.35,713.2 436.8,713.2 437.25,713.2 437.7,713.2 438.15,713.2 438.6,713.2 439.05,713.2 439.5,713.2 439.95,713.2 440.4,713.2 440.85,713.2 441.3,713.2 441.75,713.2 442.2,713.2 442.65,713.2 443.1,713.2 443.55,713.2 444,713.2 444.45,713.2 444.9,713.2 445.35,713.2 445.8,713.2 446.25,713.2 446.7,713.2 447.15,713.2 447.6,713.2 448.05,713.2 448.5,713.2 448.95,713.2 449.4,713.2 449.85,713.2 450.3,713.2 450.75,713.2 451.2,713.2 451.65,713.2 452.1,713.2 452.55,713.2 453,713.2 453.45,713.2 453.9,713.2 454.35,713.2 454.8,713.2 455.25,713.2 455.7,713.2 456.15,713.2 456.6,713.2 457.05,713.2 457.5,713.2 457.95,713.2 458.4,713.2 458.85,713.2 459.3,713.2 459.75,713.2 460.2,713.2 460.65,713.2 461.1,713.2 461.55,713.2 462,713.2 462.45,713.2 462.9,713.2 463.35,713.2 463.8,713.2 464.25,713.2 464.7,713.2 465.15,713.2 465.6,713.2 466.05,713.2 466.5,713.2 466.95,713.2 467.4,713.2 467.85,713.2 468.3,713.2 468.75,713.2 469.2,713.2 469.65,713.2 470.1,713.2 470.55,713.2 471,713.2 471.45,713.2 471.9,713.2 472.35,713.2 472.8,713.2 473.25,713.2 473.7,713.2 474.15,713.2 474.6,713.2 475.05,713.2 475.5,713.2 475.95,713.2 476,713.2 476.4,713.2 476.85,713.2 477.3,713.03 477.75,713.2 478.2,713.2 478.65,712.96 479.1,713.15 479.55,713.2 480,713.2 480.45,712.96 480.9,713.2 481.35,713.2 481.8,712.67 482.25,712.49 482.7,713.2 483.15,712.97 483.6,713.2 484.05,713.2 484.5,712.83 484.95,712.79 485.4,713.2 485.85,713.2 486.3,711.95 486.75,713.2 487.2,713.2 487.65,712.58 488.1,713.2 488.55,713.2 489,713.2 489.45,713.2 489.9,711.62 490.35,712.98 490.8,712.74 491.25,713.08 491.7,712.94 492.15,713.2 492.6,712.53 493.05,712.71 493.5,713.12 493.95,712.9 494.4,713.2 494.85,712.38 495.3,713.01 495.75,712.58 496.2,712.94 496.65,713.2 497.1,712.94 497.55,713.2 498,712.1 498.45,713.2 498.9,713.2 499.35,713.17 499.8,713.2 500,712.17 500.25,712.64 500.7,712.92 501.15,713.2 501.6,713.19 502.05,712.81 502.5,713.2 502.95,713.2 503.4,712.73 503.85,712.49 504.3,712.7 504.75,712.64 505.2,713.2 505.65,712.55 506.1,713.08 506.55,712.18 507,712.89 507.45,712.43 507.9,713.2 508.35,712.08 508.8,711.68 509.25,712.62 509.7,711.94 510.15,712.97 510.6,713.2 511.05,711.7 511.5,713.1 511.95,712.92 512.4,710.88 512.85,712.91 513.3,711.31 513.75,711.69 514.2,712.67 514.65,713.11 515.1,712.95 515.55,712.96 516,713.2 516.45,712.18 516.9,712.79 517.35,712.99 517.8,712.06 518.25,712.19 518.7,712.25 519.15,713.03 519.6,713.2 520,712.62 520.05,711.82 520.5,711.72 520.95,712.35 521.4,711.72 521.85,712.92 522.3,712.72 522.75,710.9 523.2,712.02 523.65,711.05 524.1,712.71 524.55,711.2 525,712.08 525.45,712.64 525.9,708.99 526.35,711.42 526.8,712.26 527.25,711.93 527.7,710.93 528,711.58 528.15,710.38 528.6,711.58 529.05,710.67 529.5,711.07 529.95,709.61 530.4,711.6 530.85,710.28 531.3,709.65 531.75,711.55 532.2,711.82 532.65,709.64 533.1,708.64 533.55,711.43 534,710.39 534.45,711.09 534.9,710.73 535,710.13 535.35,710.34 535.8,710.44 536.25,709.74 536.7,709.27 537.15,710.96 537.6,709.64 538.05,709.49 538.5,710.43 538.95,710.38 539.4,708.44 539.85,709.34 540.3,709.26 540.75,709.92 541,709.31 541.2,709.71 541.65,709.99 542.1,709.64 542.55,709.43 543,709.94 543.45,708.41 543.9,707.7 544.35,709.66 544.8,708.91 545.25,707.32 545.7,708.92 546.15,709.07 546.6,707.72 547.05,706.97 547.5,706.78 547.95,708.62 548,708.87 548.4,707.87 548.85,708.61 549.3,708.61 549.75,708.59 550.2,706.88 550.65,709.52 551.1,708.96 551.55,709.25 552,708.39 552.45,709.44 552.9,707.85 553.35,709.08 553.8,705.88 554.25,707.79 554.7,707.92 555,705.79 555.15,708.51 555.6,708.72 556.05,706.56 556.5,708.22 556.95,706.27 557.4,707.6 557.85,704.39 558.3,707.77 558.75,705.32 559.2,707.44 559.65,704.12 560,707.57 560.1,706.93 560.55,704.18 561,706.89 561.45,706.62 561.9,705.02 562.35,706.21 562.8,705.51 563.25,704.82 563.7,703.04 564.15,704.55 564.6,704.8 565,702.76 565.05,703.31 565.5,705.28 565.95,701.33 566.4,705.92 566.85,705.56 567.3,705.83 567.5,706.43 567.75,705.6 568.2,703.4 568.65,701.72 569.1,700.05 569.55,698.37 570,696.7 570,696.7 570.45,689.75 570.9,682.8 571.35,675.85 571.8,668.9 572.25,661.95 572.7,655 572.7,655 573.15,643.96 573.6,632.92 574.05,621.89 574.4,613.3 574.5,609.14 574.95,590.42 575.4,571.7 575.4,571.7 575.85,562.08 576.3,552.46 576.75,542.84 577,537.5 577.2,540.35 577.65,546.76 578.1,553.17 578.55,559.59 579,566 579.4,571.7 579.45,573.43 579.9,589.03 580.35,604.63 580.6,613.3 580.8,619.26 581.25,632.66 581.7,646.06 582,655 582.15,658.57 582.6,669.3 583.05,680.02 583.5,690.74 583.75,696.7 583.95,698.51 584.4,702.58 584.85,706.64 585,708 585.3,709.95 585.75,712.87 585.8,713.2 586.2,713.2 586.65,713.2 587.1,713.2 587.55,713.2 588,713.2 588.45,713.2 588.9,713.2 589.35,713.2 589.8,713.2 590.25,713.2 590.7,713.2 591.15,713.2 591.6,713.2 592.05,713.2 592.5,713.2 592.95,713.2 593.4,713.2 593.85,713.2 594.3,713.2 594.75,713.2 595.2,713.2 595.65,713.2 596.1,713.2 596.55,713.2 597,713.2 597.45,713.2 597.9,713.2 598.35,713.2 598.8,713.2 599.25,713.2 599.7,713.2 600.15,713.2 600.6,713.2 601.05,713.2 601.5,713.2 601.95,713.2 602.4,713.2 602.85,713.2 603.3,713.2 603.75,713.2 604.2,713.2 604.65,713.2 605.1,713.2 605.55,713.2 606,713.2 606.45,713.2 606.9,713.2 607.35,713.2 607.8,713.2 608.25,713.2 608.7,713.2 609.15,713.2 609.6,713.2 610.05,713.2 610.5,713.2 610.95,713.2 611.4,713.2 611.85,713.2 612.3,713.2 612.75,713.2 613.2,713.2 613.65,713.2 614.1,713.2 614.55,713.2 615,713.2 615.45,713.2 615.9,713.2 616.35,713.2 616.8,713.2 617.25,713.2 617.7,713.2 618.1,713.2" fill="none" stroke="#0ecdfb" stroke-width="1.6" stroke-linejoin="round"/>
<polygon points="413.3,727.4 413.75,727.4 414.2,727.4 414.65,727.4 415.1,727.4 415.55,727.4 416,727.4 416.45,727.4 416.9,727.4 417.35,727.4 417.8,727.4 418.25,727.4 418.7,727.4 419.15,727.4 419.6,727.4 420.05,727.4 420.5,727.4 420.95,727.4 421.4,727.4 421.85,727.4 422.3,727.4 422.75,727.4 423.2,727.4 423.65,727.4 424.1,727.4 424.55,727.4 425,727.4 425.45,727.4 425.9,727.4 426.35,727.4 426.8,727.4 427.25,727.4 427.7,727.4 428.15,727.4 428.6,727.4 429.05,727.4 429.5,727.4 429.95,727.4 430.4,727.4 430.85,727.4 431.3,727.4 431.75,727.4 432.2,727.4 432.65,727.4 433.1,727.4 433.55,727.4 434,727.4 434.45,727.4 434.9,727.4 435.35,727.4 435.8,727.4 436.25,727.4 436.7,727.4 437.15,727.4 437.6,727.4 438.05,727.4 438.5,727.4 438.95,727.4 439.4,727.4 439.85,727.4 440.3,727.4 440.75,727.4 441.2,727.4 441.65,727.4 442.1,727.4 442.55,727.4 443,727.4 443.45,727.4 443.9,727.4 444.35,727.4 444.8,727.4 445.25,727.4 445.7,727.4 446.15,727.4 446.6,727.4 447.05,727.4 447.5,727.4 447.95,727.4 448.4,727.4 448.85,727.4 449.3,727.4 449.75,727.4 450.2,727.4 450.65,727.4 451.1,727.4 451.55,727.4 452,727.4 452.45,727.4 452.9,727.4 453.35,727.4 453.8,727.4 454.25,727.4 454.7,727.4 455.15,727.4 455.6,727.4 456.05,727.4 456.5,727.4 456.95,727.4 457.4,727.4 457.85,727.4 458.3,727.4 458.75,727.4 459.2,727.4 459.65,727.4 460.1,727.4 460.55,727.4 461,727.4 461.45,727.4 461.9,727.4 462.35,727.4 462.8,727.4 463.25,727.4 463.7,727.4 464.15,727.4 464.6,727.4 465.05,727.4 465.5,727.4 465.95,727.4 466.4,727.4 466.85,727.4 467.3,727.4 467.75,727.4 468.2,727.4 468.65,727.4 469.1,727.4 469.55,727.4 470,727.4 470.45,727.4 470.9,727.4 471.35,727.4 471.8,727.4 472.25,727.4 472.7,727.4 473.15,727.4 473.6,727.4 474.05,727.4 474.5,727.4 474.95,727.4 475.4,727.4 475.85,727.4 476.3,727.4 476.75,727.4 477.2,727.4 477.65,727.4 478.1,727.4 478.55,727.4 479,727.4 479.45,727.4 479.9,727.4 480.35,727.4 480.8,727.4 481.25,727.4 481.7,727.4 482.15,727.4 482.6,727.4 483.05,727.4 483.5,727.4 483.95,727.4 484.4,727.4 484.85,727.4 485.3,727.4 485.75,727.4 486.2,727.4 486.65,727.4 487.1,727.4 487.55,727.4 488,727.4 488.45,727.4 488.9,727.4 489.35,727.4 489.8,727.4 490.25,727.4 490.7,727.4 491.15,727.4 491.6,727.4 492.05,727.4 492.5,727.4 492.95,727.4 493.4,727.4 493.85,727.4 494.3,727.4 494.75,727.4 495,727.4 495.2,727.13 495.65,727.4 496.1,727.37 496.55,726.17 497,727.4 497.45,727.4 497.9,726.42 498.35,727.11 498.8,727.01 499.25,727.4 499.7,727.4 500.15,726.32 500.6,727.27 501.05,727.24 501.5,727.4 501.95,725.63 502.4,727.3 502.85,726.81 503.3,726.27 503.75,726.2 504.2,727.4 504.65,726.04 505.1,725.81 505.55,726.04 506,725.4 506.45,726.57 506.9,727.03 507.35,727.16 507.8,726.68 508.25,726.46 508.7,725.48 509.15,727.12 509.6,725.64 510,726.72 510.05,726.03 510.5,725.69 510.95,726.19 511.4,726.65 511.85,725.81 512.3,725.9 512.75,725.74 513.2,726.29 513.65,724.82 514.1,726.32 514.55,725.82 515,725.8 515.45,725.27 515.9,725.33 516.35,725.57 516.8,726.19 517.25,725.15 517.7,723.76 518.15,725.16 518.6,724.41 519.05,725.28 519.5,724.89 519.95,723.33 520,725.15 520.4,724.39 520.85,724.48 521.3,724.44 521.75,724.93 522.2,724.28 522.65,723.2 523.1,724.87 523.55,724.39 524,723.96 524.45,724.28 524.9,723.08 525.35,722.1 525.8,723.31 526.25,721.76 526.7,722.43 527.15,723.11 527.6,721.85 528,723.27 528.05,723.13 528.5,722.42 528.95,719.75 529.4,721.93 529.85,720.48 530.3,719.33 530.75,722.47 531.2,720.69 531.65,720.1 532.1,720.2 532.55,721.64 533,720.89 533.45,721.69 533.9,720.19 534.35,718.54 534.8,720.83 535,720.69 535.25,720.31 535.7,721 536.15,721.19 536.6,720.65 537.05,718.84 537.5,720.04 537.95,719.1 538.4,717.97 538.85,717.54 539.3,718.43 539.75,717.61 540.2,717.46 540.65,715.49 541.1,717.16 541.4,715.02 541.55,716.09 542,717.75 542.45,716.37 542.9,716.16 543.35,714.51 543.8,713.98 544.25,714.78 544.6,713.05 544.7,714.07 545.15,713.17 545.6,708.45 546.05,711.34 546.5,709.7 546.95,705.69 547.4,709.01 547.7,707.33 547.85,706.9 548.3,700.96 548.75,696.43 549.2,691.9 549.65,687.37 550.1,682.85 550.55,678.32 550.8,675.8 551,670.91 551.45,659.89 551.9,648.88 552.35,637.87 552.5,634.2 552.8,625.86 553.25,613.35 553.7,600.84 554,592.5 554.15,590.75 554.6,585.5 555.05,580.25 555.5,575 555.5,575 555.95,572.39 556.4,569.78 556.5,569.2 556.85,571.23 557.3,573.84 557.5,575 557.75,578.5 558.2,584.8 558.65,591.1 558.75,592.5 559.1,609.67 559.55,631.75 559.6,634.2 560,644.28 560.45,655.63 560.9,666.98 561.25,675.8 561.35,677.69 561.8,686.2 562.25,694.71 562.7,703.22 562.9,707 563.15,709.79 563.6,714.82 564.05,719.84 564.4,723.75 564.5,723.98 564.95,725 565.4,726.03 565.85,727.06 566,727.4 566.3,727.4 566.75,727.4 567.2,727.4 567.65,727.4 568.1,727.4 568.55,727.4 569,727.4 569.45,727.4 569.9,727.4 570.35,727.4 570.8,727.4 571.25,727.4 571.7,727.4 572.15,727.4 572.6,727.4 573.05,727.4 573.5,727.4 573.95,727.4 574.4,727.4 574.85,727.4 575.3,727.4 575.75,727.4 576.2,727.4 576.65,727.4 577.1,727.4 577.55,727.4 578,727.4 578.45,727.4 578.9,727.4 579.35,727.4 579.8,727.4 580.25,727.4 580.7,727.4 581.15,727.4 581.6,727.4 582.05,727.4 582.5,727.4 582.95,727.4 583.4,727.4 583.85,727.4 584.3,727.4 584.75,727.4 585.2,727.4 585.65,727.4 586.1,727.4 586.55,727.4 587,727.4 587.45,727.4 587.9,727.4 588.35,727.4 588.8,727.4 589.25,727.4 589.7,727.4 590.15,727.4 590.6,727.4 591.05,727.4 591.5,727.4 591.95,727.4 592.4,727.4 592.85,727.4 593.3,727.4 593.75,727.4 594.2,727.4 594.65,727.4 595.1,727.4 595.55,727.4 596,727.4 596.45,727.4 596.9,727.4 597.3,727.4 597.3,727.4 413.3,727.4" fill="rgba(255,160,70,0.36)" stroke="none"/>
<polyline points="413.3,727.4 413.75,727.4 414.2,727.4 414.65,727.4 415.1,727.4 415.55,727.4 416,727.4 416.45,727.4 416.9,727.4 417.35,727.4 417.8,727.4 418.25,727.4 418.7,727.4 419.15,727.4 419.6,727.4 420.05,727.4 420.5,727.4 420.95,727.4 421.4,727.4 421.85,727.4 422.3,727.4 422.75,727.4 423.2,727.4 423.65,727.4 424.1,727.4 424.55,727.4 425,727.4 425.45,727.4 425.9,727.4 426.35,727.4 426.8,727.4 427.25,727.4 427.7,727.4 428.15,727.4 428.6,727.4 429.05,727.4 429.5,727.4 429.95,727.4 430.4,727.4 430.85,727.4 431.3,727.4 431.75,727.4 432.2,727.4 432.65,727.4 433.1,727.4 433.55,727.4 434,727.4 434.45,727.4 434.9,727.4 435.35,727.4 435.8,727.4 436.25,727.4 436.7,727.4 437.15,727.4 437.6,727.4 438.05,727.4 438.5,727.4 438.95,727.4 439.4,727.4 439.85,727.4 440.3,727.4 440.75,727.4 441.2,727.4 441.65,727.4 442.1,727.4 442.55,727.4 443,727.4 443.45,727.4 443.9,727.4 444.35,727.4 444.8,727.4 445.25,727.4 445.7,727.4 446.15,727.4 446.6,727.4 447.05,727.4 447.5,727.4 447.95,727.4 448.4,727.4 448.85,727.4 449.3,727.4 449.75,727.4 450.2,727.4 450.65,727.4 451.1,727.4 451.55,727.4 452,727.4 452.45,727.4 452.9,727.4 453.35,727.4 453.8,727.4 454.25,727.4 454.7,727.4 455.15,727.4 455.6,727.4 456.05,727.4 456.5,727.4 456.95,727.4 457.4,727.4 457.85,727.4 458.3,727.4 458.75,727.4 459.2,727.4 459.65,727.4 460.1,727.4 460.55,727.4 461,727.4 461.45,727.4 461.9,727.4 462.35,727.4 462.8,727.4 463.25,727.4 463.7,727.4 464.15,727.4 464.6,727.4 465.05,727.4 465.5,727.4 465.95,727.4 466.4,727.4 466.85,727.4 467.3,727.4 467.75,727.4 468.2,727.4 468.65,727.4 469.1,727.4 469.55,727.4 470,727.4 470.45,727.4 470.9,727.4 471.35,727.4 471.8,727.4 472.25,727.4 472.7,727.4 473.15,727.4 473.6,727.4 474.05,727.4 474.5,727.4 474.95,727.4 475.4,727.4 475.85,727.4 476.3,727.4 476.75,727.4 477.2,727.4 477.65,727.4 478.1,727.4 478.55,727.4 479,727.4 479.45,727.4 479.9,727.4 480.35,727.4 480.8,727.4 481.25,727.4 481.7,727.4 482.15,727.4 482.6,727.4 483.05,727.4 483.5,727.4 483.95,727.4 484.4,727.4 484.85,727.4 485.3,727.4 485.75,727.4 486.2,727.4 486.65,727.4 487.1,727.4 487.55,727.4 488,727.4 488.45,727.4 488.9,727.4 489.35,727.4 489.8,727.4 490.25,727.4 490.7,727.4 491.15,727.4 491.6,727.4 492.05,727.4 492.5,727.4 492.95,727.4 493.4,727.4 493.85,727.4 494.3,727.4 494.75,727.4 495,727.4 495.2,727.13 495.65,727.4 496.1,727.37 496.55,726.17 497,727.4 497.45,727.4 497.9,726.42 498.35,727.11 498.8,727.01 499.25,727.4 499.7,727.4 500.15,726.32 500.6,727.27 501.05,727.24 501.5,727.4 501.95,725.63 502.4,727.3 502.85,726.81 503.3,726.27 503.75,726.2 504.2,727.4 504.65,726.04 505.1,725.81 505.55,726.04 506,725.4 506.45,726.57 506.9,727.03 507.35,727.16 507.8,726.68 508.25,726.46 508.7,725.48 509.15,727.12 509.6,725.64 510,726.72 510.05,726.03 510.5,725.69 510.95,726.19 511.4,726.65 511.85,725.81 512.3,725.9 512.75,725.74 513.2,726.29 513.65,724.82 514.1,726.32 514.55,725.82 515,725.8 515.45,725.27 515.9,725.33 516.35,725.57 516.8,726.19 517.25,725.15 517.7,723.76 518.15,725.16 518.6,724.41 519.05,725.28 519.5,724.89 519.95,723.33 520,725.15 520.4,724.39 520.85,724.48 521.3,724.44 521.75,724.93 522.2,724.28 522.65,723.2 523.1,724.87 523.55,724.39 524,723.96 524.45,724.28 524.9,723.08 525.35,722.1 525.8,723.31 526.25,721.76 526.7,722.43 527.15,723.11 527.6,721.85 528,723.27 528.05,723.13 528.5,722.42 528.95,719.75 529.4,721.93 529.85,720.48 530.3,719.33 530.75,722.47 531.2,720.69 531.65,720.1 532.1,720.2 532.55,721.64 533,720.89 533.45,721.69 533.9,720.19 534.35,718.54 534.8,720.83 535,720.69 535.25,720.31 535.7,721 536.15,721.19 536.6,720.65 537.05,718.84 537.5,720.04 537.95,719.1 538.4,717.97 538.85,717.54 539.3,718.43 539.75,717.61 540.2,717.46 540.65,715.49 541.1,717.16 541.4,715.02 541.55,716.09 542,717.75 542.45,716.37 542.9,716.16 543.35,714.51 543.8,713.98 544.25,714.78 544.6,713.05 544.7,714.07 545.15,713.17 545.6,708.45 546.05,711.34 546.5,709.7 546.95,705.69 547.4,709.01 547.7,707.33 547.85,706.9 548.3,700.96 548.75,696.43 549.2,691.9 549.65,687.37 550.1,682.85 550.55,678.32 550.8,675.8 551,670.91 551.45,659.89 551.9,648.88 552.35,637.87 552.5,634.2 552.8,625.86 553.25,613.35 553.7,600.84 554,592.5 554.15,590.75 554.6,585.5 555.05,580.25 555.5,575 555.5,575 555.95,572.39 556.4,569.78 556.5,569.2 556.85,571.23 557.3,573.84 557.5,575 557.75,578.5 558.2,584.8 558.65,591.1 558.75,592.5 559.1,609.67 559.55,631.75 559.6,634.2 560,644.28 560.45,655.63 560.9,666.98 561.25,675.8 561.35,677.69 561.8,686.2 562.25,694.71 562.7,703.22 562.9,707 563.15,709.79 563.6,714.82 564.05,719.84 564.4,723.75 564.5,723.98 564.95,725 565.4,726.03 565.85,727.06 566,727.4 566.3,727.4 566.75,727.4 567.2,727.4 567.65,727.4 568.1,727.4 568.55,727.4 569,727.4 569.45,727.4 569.9,727.4 570.35,727.4 570.8,727.4 571.25,727.4 571.7,727.4 572.15,727.4 572.6,727.4 573.05,727.4 573.5,727.4 573.95,727.4 574.4,727.4 574.85,727.4 575.3,727.4 575.75,727.4 576.2,727.4 576.65,727.4 577.1,727.4 577.55,727.4 578,727.4 578.45,727.4 578.9,727.4 579.35,727.4 579.8,727.4 580.25,727.4 580.7,727.4 581.15,727.4 581.6,727.4 582.05,727.4 582.5,727.4 582.95,727.4 583.4,727.4 583.85,727.4 584.3,727.4 584.75,727.4 585.2,727.4 585.65,727.4 586.1,727.4 586.55,727.4 587,727.4 587.45,727.4 587.9,727.4 588.35,727.4 588.8,727.4 589.25,727.4 589.7,727.4 590.15,727.4 590.6,727.4 591.05,727.4 591.5,727.4 591.95,727.4 592.4,727.4 592.85,727.4 593.3,727.4 593.75,727.4 594.2,727.4 594.65,727.4 595.1,727.4 595.55,727.4 596,727.4 596.45,727.4 596.9,727.4 597.3,727.4" fill="none" stroke="#ffa24a" stroke-width="1.6" stroke-linejoin="round"/>
<path d="M416.74 727.8L416.74 730.6M418.68 727.8L418.68 730.6M420.89 727.8L420.89 730.6M423.43 727.8L423.43 730.6M426.44 727.8L426.44 730.6M430.12 727.8L430.12 730.6M434.87 727.8L434.87 730.6M441.56 727.8L441.56 730.6M454.74 727.8L454.74 730.6M456.68 727.8L456.68 730.6M458.89 727.8L458.89 730.6M461.43 727.8L461.43 730.6M464.44 727.8L464.44 730.6M468.12 727.8L468.12 730.6M472.87 727.8L472.87 730.6M479.56 727.8L479.56 730.6M502.44 727.8L502.44 730.6M509.13 727.8L509.13 730.6M513.88 727.8L513.88 730.6M517.56 727.8L517.56 730.6M520.57 727.8L520.57 730.6M523.11 727.8L523.11 730.6M525.32 727.8L525.32 730.6M527.26 727.8L527.26 730.6M540.44 727.8L540.44 730.6M547.13 727.8L547.13 730.6M551.88 727.8L551.88 730.6M555.56 727.8L555.56 730.6M558.57 727.8L558.57 730.6M561.11 727.8L561.11 730.6M563.32 727.8L563.32 730.6M565.26 727.8L565.26 730.6M578.44 727.8L578.44 730.6M585.13 727.8L585.13 730.6M589.88 727.8L589.88 730.6M593.56 727.8L593.56 730.6M596.57 727.8L596.57 730.6" stroke="#000" stroke-width="0.9" fill="none"/>
<path d="M415 727.8L415 732.4M453 727.8L453 732.4M529 727.8L529 732.4M567 727.8L567 732.4M413.8 727.8L413.8 732.4" stroke="#000" stroke-width="1.4" fill="none"/>
<rect x="485.4" y="727.8" width="11.2" height="4.2" fill="#000"/>
<rect x="488.5" y="730.4" width="1.1" height="1.6" fill="#fff"/><rect x="492.6" y="730.4" width="1.1" height="1.6" fill="#fff"/>
<text x="418.4" y="743.5" font-size="7.2" fill="#383838" font-weight="bold"><tspan font-size="5.9" dy="-0.4">&#8722;</tspan><tspan dx="0.5" dy="0.4">10</tspan><tspan dx="0.6" dy="-3.6" font-size="6.48">5</tspan></text>
<text x="451.8" y="743.5" font-size="7.2" fill="#383838" font-weight="bold"><tspan font-size="5.9" dy="-0.4">&#8722;</tspan><tspan dx="0.5" dy="0.4">10</tspan><tspan dx="0.6" dy="-3.6" font-size="6.48">4</tspan></text>
<text x="493.4" y="743.5" font-size="7.2" fill="#383838" font-weight="bold">0<tspan dx="0.6" dy="-3.6" font-size="6.48"></tspan></text>
<text x="527.9" y="743.5" font-size="7.2" fill="#383838" font-weight="bold">10<tspan dx="0.6" dy="-3.6" font-size="6.48">4</tspan></text>
<text x="567" y="743.5" font-size="7.2" fill="#383838" font-weight="bold">10<tspan dx="0.6" dy="-3.6" font-size="6.48">5</tspan></text>
<text x="491" y="760.9" font-size="8.4" fill="#4a4a4a" font-weight="bold">CD133</text>
<text x="624.4" y="696.9" font-size="9.9" fill="#111"><tspan dy="0">Ctrl.</tspan></text>
<text x="0" y="0" font-size="9.9" fill="#111" transform="translate(610 711.7) scale(0.97 1)"><tspan dy="0">rec. SAA1</tspan></text>
<text x="0" y="0" font-size="9.9" fill="#111" transform="translate(586.2 727) scale(0.98 1)"><tspan dy="0">TIRAPi rec. SAA1</tspan></text>
</svg></body></html>
